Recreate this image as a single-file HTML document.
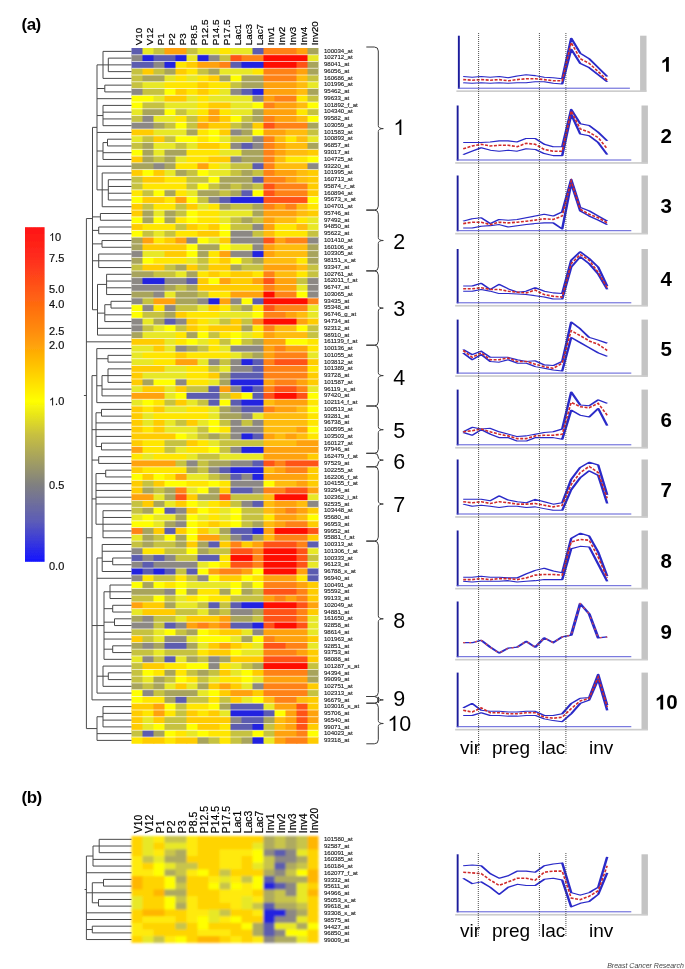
<!DOCTYPE html>
<html><head><meta charset="utf-8"><title>figure</title>
<style>html,body{margin:0;padding:0;background:#fff;}body{width:685px;height:969px;overflow:hidden;position:relative;font-family:"Liberation Sans", sans-serif;}svg{position:absolute;left:0;top:0;}</style>
</head><body>
<svg width="685" height="969" viewBox="0 0 685 969" font-family='"Liberation Sans", sans-serif'>
<defs><linearGradient id="lg" x1="0" y1="0" x2="0" y2="1"><stop offset="0" stop-color="#ff1414"/><stop offset="0.09" stop-color="#ff2c1c"/><stop offset="0.18" stop-color="#ff5418"/><stop offset="0.23" stop-color="#ff6a10"/><stop offset="0.31" stop-color="#ff8c0a"/><stop offset="0.35" stop-color="#ffa008"/><stop offset="0.43" stop-color="#ffcc00"/><stop offset="0.52" stop-color="#ffff00"/><stop offset="0.62" stop-color="#c8c040"/><stop offset="0.77" stop-color="#808080"/><stop offset="0.88" stop-color="#5c5cb8"/><stop offset="1" stop-color="#1414ff"/></linearGradient><filter id="soft" x="-2%" y="-1%" width="104%" height="102%"><feGaussianBlur stdDeviation="0.5"/></filter><filter id="softb" x="-2%" y="-2%" width="104%" height="104%"><feGaussianBlur stdDeviation="0.8"/></filter><filter id="soft2" x="0" y="0" width="100%" height="100%" filterUnits="userSpaceOnUse"><feGaussianBlur stdDeviation="0.33"/></filter></defs>
<rect x="0" y="0" width="685" height="969" fill="#fff"/>
<g filter="url(#soft2)">
<text x="21.5" y="29.8" font-size="17" font-weight="bold" letter-spacing="-0.5" fill="#000">(a)</text>
<g filter="url(#soft)">
<rect x="131.50" y="48.00" width="11.80" height="7.55" fill="#5c5cb0"/>
<rect x="142.50" y="48.00" width="11.80" height="7.55" fill="#e8e828"/>
<rect x="153.50" y="48.00" width="11.80" height="7.55" fill="#c6c240"/>
<rect x="164.50" y="48.00" width="11.80" height="7.55" fill="#ffa208"/>
<rect x="175.50" y="48.00" width="11.80" height="7.55" fill="#ffa208"/>
<rect x="186.50" y="48.00" width="11.80" height="7.55" fill="#c6c240"/>
<rect x="197.50" y="48.00" width="11.80" height="7.55" fill="#e8e828"/>
<rect x="208.50" y="48.00" width="11.80" height="7.55" fill="#e8e828"/>
<rect x="219.50" y="48.00" width="11.80" height="7.55" fill="#ffe600"/>
<rect x="230.50" y="48.00" width="11.80" height="7.55" fill="#e8e828"/>
<rect x="241.50" y="48.00" width="11.80" height="7.55" fill="#e8e828"/>
<rect x="252.50" y="48.00" width="11.80" height="7.55" fill="#5c5cb0"/>
<rect x="263.50" y="48.00" width="11.80" height="7.55" fill="#ff8212"/>
<rect x="274.50" y="48.00" width="11.80" height="7.55" fill="#ff8212"/>
<rect x="285.50" y="48.00" width="11.80" height="7.55" fill="#ff8212"/>
<rect x="296.50" y="48.00" width="11.80" height="7.55" fill="#ffa208"/>
<rect x="307.50" y="48.00" width="11.00" height="7.55" fill="#a8a45c"/>
<rect x="131.50" y="54.76" width="11.80" height="7.55" fill="#8c8884"/>
<rect x="142.50" y="54.76" width="11.80" height="7.55" fill="#2020e0"/>
<rect x="153.50" y="54.76" width="11.80" height="7.55" fill="#5c5cb0"/>
<rect x="164.50" y="54.76" width="11.80" height="7.55" fill="#5c5cb0"/>
<rect x="175.50" y="54.76" width="11.80" height="7.55" fill="#2020e0"/>
<rect x="186.50" y="54.76" width="11.80" height="7.55" fill="#e8e828"/>
<rect x="197.50" y="54.76" width="11.80" height="7.55" fill="#2020e0"/>
<rect x="208.50" y="54.76" width="11.80" height="7.55" fill="#8c8884"/>
<rect x="219.50" y="54.76" width="11.80" height="7.55" fill="#c6c240"/>
<rect x="230.50" y="54.76" width="11.80" height="7.55" fill="#ff5214"/>
<rect x="241.50" y="54.76" width="11.80" height="7.55" fill="#ff8212"/>
<rect x="252.50" y="54.76" width="11.80" height="7.55" fill="#ff8212"/>
<rect x="263.50" y="54.76" width="11.80" height="7.55" fill="#ff0a00"/>
<rect x="274.50" y="54.76" width="11.80" height="7.55" fill="#ff0a00"/>
<rect x="285.50" y="54.76" width="11.80" height="7.55" fill="#ff0a00"/>
<rect x="296.50" y="54.76" width="11.80" height="7.55" fill="#ff0a00"/>
<rect x="307.50" y="54.76" width="11.00" height="7.55" fill="#e8e828"/>
<rect x="131.50" y="61.51" width="11.80" height="7.55" fill="#5c5cb0"/>
<rect x="142.50" y="61.51" width="11.80" height="7.55" fill="#5c5cb0"/>
<rect x="153.50" y="61.51" width="11.80" height="7.55" fill="#8c8884"/>
<rect x="164.50" y="61.51" width="11.80" height="7.55" fill="#2020e0"/>
<rect x="175.50" y="61.51" width="11.80" height="7.55" fill="#ffe600"/>
<rect x="186.50" y="61.51" width="11.80" height="7.55" fill="#ffcc00"/>
<rect x="197.50" y="61.51" width="11.80" height="7.55" fill="#ffa208"/>
<rect x="208.50" y="61.51" width="11.80" height="7.55" fill="#ffa208"/>
<rect x="219.50" y="61.51" width="11.80" height="7.55" fill="#ff8212"/>
<rect x="230.50" y="61.51" width="11.80" height="7.55" fill="#5c5cb0"/>
<rect x="241.50" y="61.51" width="11.80" height="7.55" fill="#2020e0"/>
<rect x="252.50" y="61.51" width="11.80" height="7.55" fill="#2020e0"/>
<rect x="263.50" y="61.51" width="11.80" height="7.55" fill="#ff0a00"/>
<rect x="274.50" y="61.51" width="11.80" height="7.55" fill="#ff0a00"/>
<rect x="285.50" y="61.51" width="11.80" height="7.55" fill="#ff0a00"/>
<rect x="296.50" y="61.51" width="11.80" height="7.55" fill="#ff5214"/>
<rect x="307.50" y="61.51" width="11.00" height="7.55" fill="#a8a45c"/>
<rect x="131.50" y="68.27" width="11.80" height="7.55" fill="#c6c240"/>
<rect x="142.50" y="68.27" width="11.80" height="7.55" fill="#ffcc00"/>
<rect x="153.50" y="68.27" width="11.80" height="7.55" fill="#c6c240"/>
<rect x="164.50" y="68.27" width="11.80" height="7.55" fill="#a8a45c"/>
<rect x="175.50" y="68.27" width="11.80" height="7.55" fill="#ffcc00"/>
<rect x="186.50" y="68.27" width="11.80" height="7.55" fill="#ffe600"/>
<rect x="197.50" y="68.27" width="11.80" height="7.55" fill="#c6c240"/>
<rect x="208.50" y="68.27" width="11.80" height="7.55" fill="#a8a45c"/>
<rect x="219.50" y="68.27" width="11.80" height="7.55" fill="#e8e828"/>
<rect x="230.50" y="68.27" width="11.80" height="7.55" fill="#e8e828"/>
<rect x="241.50" y="68.27" width="11.80" height="7.55" fill="#e8e828"/>
<rect x="252.50" y="68.27" width="11.80" height="7.55" fill="#ffe600"/>
<rect x="263.50" y="68.27" width="11.80" height="7.55" fill="#ff8212"/>
<rect x="274.50" y="68.27" width="11.80" height="7.55" fill="#ff8212"/>
<rect x="285.50" y="68.27" width="11.80" height="7.55" fill="#ff8212"/>
<rect x="296.50" y="68.27" width="11.80" height="7.55" fill="#ffa208"/>
<rect x="307.50" y="68.27" width="11.00" height="7.55" fill="#a8a45c"/>
<rect x="131.50" y="75.02" width="11.80" height="7.55" fill="#c6c240"/>
<rect x="142.50" y="75.02" width="11.80" height="7.55" fill="#a8a45c"/>
<rect x="153.50" y="75.02" width="11.80" height="7.55" fill="#a8a45c"/>
<rect x="164.50" y="75.02" width="11.80" height="7.55" fill="#e8e828"/>
<rect x="175.50" y="75.02" width="11.80" height="7.55" fill="#ffe600"/>
<rect x="186.50" y="75.02" width="11.80" height="7.55" fill="#e8e828"/>
<rect x="197.50" y="75.02" width="11.80" height="7.55" fill="#ffe600"/>
<rect x="208.50" y="75.02" width="11.80" height="7.55" fill="#ffcc00"/>
<rect x="219.50" y="75.02" width="11.80" height="7.55" fill="#a8a45c"/>
<rect x="230.50" y="75.02" width="11.80" height="7.55" fill="#ffff00"/>
<rect x="241.50" y="75.02" width="11.80" height="7.55" fill="#a8a45c"/>
<rect x="252.50" y="75.02" width="11.80" height="7.55" fill="#a8a45c"/>
<rect x="263.50" y="75.02" width="11.80" height="7.55" fill="#ff8212"/>
<rect x="274.50" y="75.02" width="11.80" height="7.55" fill="#ff8212"/>
<rect x="285.50" y="75.02" width="11.80" height="7.55" fill="#ff8212"/>
<rect x="296.50" y="75.02" width="11.80" height="7.55" fill="#ffbc08"/>
<rect x="307.50" y="75.02" width="11.00" height="7.55" fill="#c6c240"/>
<rect x="131.50" y="81.78" width="11.80" height="7.55" fill="#c6c240"/>
<rect x="142.50" y="81.78" width="11.80" height="7.55" fill="#e8e828"/>
<rect x="153.50" y="81.78" width="11.80" height="7.55" fill="#e8e828"/>
<rect x="164.50" y="81.78" width="11.80" height="7.55" fill="#ffe600"/>
<rect x="175.50" y="81.78" width="11.80" height="7.55" fill="#ffe600"/>
<rect x="186.50" y="81.78" width="11.80" height="7.55" fill="#ffe600"/>
<rect x="197.50" y="81.78" width="11.80" height="7.55" fill="#ffcc00"/>
<rect x="208.50" y="81.78" width="11.80" height="7.55" fill="#ffe600"/>
<rect x="219.50" y="81.78" width="11.80" height="7.55" fill="#ffe600"/>
<rect x="230.50" y="81.78" width="11.80" height="7.55" fill="#c6c240"/>
<rect x="241.50" y="81.78" width="11.80" height="7.55" fill="#a8a45c"/>
<rect x="252.50" y="81.78" width="11.80" height="7.55" fill="#a8a45c"/>
<rect x="263.50" y="81.78" width="11.80" height="7.55" fill="#ffa208"/>
<rect x="274.50" y="81.78" width="11.80" height="7.55" fill="#ffa208"/>
<rect x="285.50" y="81.78" width="11.80" height="7.55" fill="#ffa208"/>
<rect x="296.50" y="81.78" width="11.80" height="7.55" fill="#ffbc08"/>
<rect x="307.50" y="81.78" width="11.00" height="7.55" fill="#e8e828"/>
<rect x="131.50" y="88.53" width="11.80" height="7.55" fill="#8c8884"/>
<rect x="142.50" y="88.53" width="11.80" height="7.55" fill="#c6c240"/>
<rect x="153.50" y="88.53" width="11.80" height="7.55" fill="#c6c240"/>
<rect x="164.50" y="88.53" width="11.80" height="7.55" fill="#ffff00"/>
<rect x="175.50" y="88.53" width="11.80" height="7.55" fill="#ffcc00"/>
<rect x="186.50" y="88.53" width="11.80" height="7.55" fill="#ffe600"/>
<rect x="197.50" y="88.53" width="11.80" height="7.55" fill="#ffcc00"/>
<rect x="208.50" y="88.53" width="11.80" height="7.55" fill="#ffe600"/>
<rect x="219.50" y="88.53" width="11.80" height="7.55" fill="#e8e828"/>
<rect x="230.50" y="88.53" width="11.80" height="7.55" fill="#8c8884"/>
<rect x="241.50" y="88.53" width="11.80" height="7.55" fill="#5c5cb0"/>
<rect x="252.50" y="88.53" width="11.80" height="7.55" fill="#2020e0"/>
<rect x="263.50" y="88.53" width="11.80" height="7.55" fill="#ffa208"/>
<rect x="274.50" y="88.53" width="11.80" height="7.55" fill="#ffa208"/>
<rect x="285.50" y="88.53" width="11.80" height="7.55" fill="#ffa208"/>
<rect x="296.50" y="88.53" width="11.80" height="7.55" fill="#ffbc08"/>
<rect x="307.50" y="88.53" width="11.00" height="7.55" fill="#a8a45c"/>
<rect x="131.50" y="95.28" width="11.80" height="7.55" fill="#ffff00"/>
<rect x="142.50" y="95.28" width="11.80" height="7.55" fill="#ffff00"/>
<rect x="153.50" y="95.28" width="11.80" height="7.55" fill="#e8e828"/>
<rect x="164.50" y="95.28" width="11.80" height="7.55" fill="#ffcc00"/>
<rect x="175.50" y="95.28" width="11.80" height="7.55" fill="#ffcc00"/>
<rect x="186.50" y="95.28" width="11.80" height="7.55" fill="#e8e828"/>
<rect x="197.50" y="95.28" width="11.80" height="7.55" fill="#ffe600"/>
<rect x="208.50" y="95.28" width="11.80" height="7.55" fill="#e8e828"/>
<rect x="219.50" y="95.28" width="11.80" height="7.55" fill="#e8e828"/>
<rect x="230.50" y="95.28" width="11.80" height="7.55" fill="#e8e828"/>
<rect x="241.50" y="95.28" width="11.80" height="7.55" fill="#e8e828"/>
<rect x="252.50" y="95.28" width="11.80" height="7.55" fill="#8c8884"/>
<rect x="263.50" y="95.28" width="11.80" height="7.55" fill="#ffa208"/>
<rect x="274.50" y="95.28" width="11.80" height="7.55" fill="#ff8212"/>
<rect x="285.50" y="95.28" width="11.80" height="7.55" fill="#ff8212"/>
<rect x="296.50" y="95.28" width="11.80" height="7.55" fill="#ffe600"/>
<rect x="307.50" y="95.28" width="11.00" height="7.55" fill="#c6c240"/>
<rect x="131.50" y="102.04" width="11.80" height="7.55" fill="#ffff00"/>
<rect x="142.50" y="102.04" width="11.80" height="7.55" fill="#c6c240"/>
<rect x="153.50" y="102.04" width="11.80" height="7.55" fill="#c6c240"/>
<rect x="164.50" y="102.04" width="11.80" height="7.55" fill="#e8e828"/>
<rect x="175.50" y="102.04" width="11.80" height="7.55" fill="#e8e828"/>
<rect x="186.50" y="102.04" width="11.80" height="7.55" fill="#e8e828"/>
<rect x="197.50" y="102.04" width="11.80" height="7.55" fill="#ffe600"/>
<rect x="208.50" y="102.04" width="11.80" height="7.55" fill="#ffcc00"/>
<rect x="219.50" y="102.04" width="11.80" height="7.55" fill="#ffcc00"/>
<rect x="230.50" y="102.04" width="11.80" height="7.55" fill="#e8e828"/>
<rect x="241.50" y="102.04" width="11.80" height="7.55" fill="#e8e828"/>
<rect x="252.50" y="102.04" width="11.80" height="7.55" fill="#ffff00"/>
<rect x="263.50" y="102.04" width="11.80" height="7.55" fill="#ff8212"/>
<rect x="274.50" y="102.04" width="11.80" height="7.55" fill="#ffa208"/>
<rect x="285.50" y="102.04" width="11.80" height="7.55" fill="#ffa208"/>
<rect x="296.50" y="102.04" width="11.80" height="7.55" fill="#ffbc08"/>
<rect x="307.50" y="102.04" width="11.00" height="7.55" fill="#ffff00"/>
<rect x="131.50" y="108.80" width="11.80" height="7.55" fill="#e8e828"/>
<rect x="142.50" y="108.80" width="11.80" height="7.55" fill="#a8a45c"/>
<rect x="153.50" y="108.80" width="11.80" height="7.55" fill="#a8a45c"/>
<rect x="164.50" y="108.80" width="11.80" height="7.55" fill="#ffff00"/>
<rect x="175.50" y="108.80" width="11.80" height="7.55" fill="#c6c240"/>
<rect x="186.50" y="108.80" width="11.80" height="7.55" fill="#e8e828"/>
<rect x="197.50" y="108.80" width="11.80" height="7.55" fill="#ffe600"/>
<rect x="208.50" y="108.80" width="11.80" height="7.55" fill="#ffa208"/>
<rect x="219.50" y="108.80" width="11.80" height="7.55" fill="#ffe600"/>
<rect x="230.50" y="108.80" width="11.80" height="7.55" fill="#e8e828"/>
<rect x="241.50" y="108.80" width="11.80" height="7.55" fill="#e8e828"/>
<rect x="252.50" y="108.80" width="11.80" height="7.55" fill="#a8a45c"/>
<rect x="263.50" y="108.80" width="11.80" height="7.55" fill="#ffa208"/>
<rect x="274.50" y="108.80" width="11.80" height="7.55" fill="#ffa208"/>
<rect x="285.50" y="108.80" width="11.80" height="7.55" fill="#ffa208"/>
<rect x="296.50" y="108.80" width="11.80" height="7.55" fill="#ffe600"/>
<rect x="307.50" y="108.80" width="11.00" height="7.55" fill="#c6c240"/>
<rect x="131.50" y="115.55" width="11.80" height="7.55" fill="#c6c240"/>
<rect x="142.50" y="115.55" width="11.80" height="7.55" fill="#8c8884"/>
<rect x="153.50" y="115.55" width="11.80" height="7.55" fill="#e8e828"/>
<rect x="164.50" y="115.55" width="11.80" height="7.55" fill="#e8e828"/>
<rect x="175.50" y="115.55" width="11.80" height="7.55" fill="#ffe600"/>
<rect x="186.50" y="115.55" width="11.80" height="7.55" fill="#c6c240"/>
<rect x="197.50" y="115.55" width="11.80" height="7.55" fill="#ffcc00"/>
<rect x="208.50" y="115.55" width="11.80" height="7.55" fill="#ffa208"/>
<rect x="219.50" y="115.55" width="11.80" height="7.55" fill="#ffcc00"/>
<rect x="230.50" y="115.55" width="11.80" height="7.55" fill="#ffff00"/>
<rect x="241.50" y="115.55" width="11.80" height="7.55" fill="#c6c240"/>
<rect x="252.50" y="115.55" width="11.80" height="7.55" fill="#a8a45c"/>
<rect x="263.50" y="115.55" width="11.80" height="7.55" fill="#ff8212"/>
<rect x="274.50" y="115.55" width="11.80" height="7.55" fill="#ffa208"/>
<rect x="285.50" y="115.55" width="11.80" height="7.55" fill="#ffa208"/>
<rect x="296.50" y="115.55" width="11.80" height="7.55" fill="#ffbc08"/>
<rect x="307.50" y="115.55" width="11.00" height="7.55" fill="#ffff00"/>
<rect x="131.50" y="122.30" width="11.80" height="7.55" fill="#8c8884"/>
<rect x="142.50" y="122.30" width="11.80" height="7.55" fill="#8c8884"/>
<rect x="153.50" y="122.30" width="11.80" height="7.55" fill="#a8a45c"/>
<rect x="164.50" y="122.30" width="11.80" height="7.55" fill="#c6c240"/>
<rect x="175.50" y="122.30" width="11.80" height="7.55" fill="#ffff00"/>
<rect x="186.50" y="122.30" width="11.80" height="7.55" fill="#c6c240"/>
<rect x="197.50" y="122.30" width="11.80" height="7.55" fill="#ffa208"/>
<rect x="208.50" y="122.30" width="11.80" height="7.55" fill="#ffcc00"/>
<rect x="219.50" y="122.30" width="11.80" height="7.55" fill="#ffcc00"/>
<rect x="230.50" y="122.30" width="11.80" height="7.55" fill="#c6c240"/>
<rect x="241.50" y="122.30" width="11.80" height="7.55" fill="#a8a45c"/>
<rect x="252.50" y="122.30" width="11.80" height="7.55" fill="#ffcc00"/>
<rect x="263.50" y="122.30" width="11.80" height="7.55" fill="#ff5214"/>
<rect x="274.50" y="122.30" width="11.80" height="7.55" fill="#ff8212"/>
<rect x="285.50" y="122.30" width="11.80" height="7.55" fill="#ff8212"/>
<rect x="296.50" y="122.30" width="11.80" height="7.55" fill="#ff8212"/>
<rect x="307.50" y="122.30" width="11.00" height="7.55" fill="#a8a45c"/>
<rect x="131.50" y="129.06" width="11.80" height="7.55" fill="#ffcc00"/>
<rect x="142.50" y="129.06" width="11.80" height="7.55" fill="#ffcc00"/>
<rect x="153.50" y="129.06" width="11.80" height="7.55" fill="#e8e828"/>
<rect x="164.50" y="129.06" width="11.80" height="7.55" fill="#e8e828"/>
<rect x="175.50" y="129.06" width="11.80" height="7.55" fill="#e8e828"/>
<rect x="186.50" y="129.06" width="11.80" height="7.55" fill="#a8a45c"/>
<rect x="197.50" y="129.06" width="11.80" height="7.55" fill="#ffe600"/>
<rect x="208.50" y="129.06" width="11.80" height="7.55" fill="#ffff00"/>
<rect x="219.50" y="129.06" width="11.80" height="7.55" fill="#ffcc00"/>
<rect x="230.50" y="129.06" width="11.80" height="7.55" fill="#8c8884"/>
<rect x="241.50" y="129.06" width="11.80" height="7.55" fill="#a8a45c"/>
<rect x="252.50" y="129.06" width="11.80" height="7.55" fill="#ffff00"/>
<rect x="263.50" y="129.06" width="11.80" height="7.55" fill="#ffa208"/>
<rect x="274.50" y="129.06" width="11.80" height="7.55" fill="#ffa208"/>
<rect x="285.50" y="129.06" width="11.80" height="7.55" fill="#ffbc08"/>
<rect x="296.50" y="129.06" width="11.80" height="7.55" fill="#ffbc08"/>
<rect x="307.50" y="129.06" width="11.00" height="7.55" fill="#c6c240"/>
<rect x="131.50" y="135.81" width="11.80" height="7.55" fill="#e8e828"/>
<rect x="142.50" y="135.81" width="11.80" height="7.55" fill="#c6c240"/>
<rect x="153.50" y="135.81" width="11.80" height="7.55" fill="#ffcc00"/>
<rect x="164.50" y="135.81" width="11.80" height="7.55" fill="#c6c240"/>
<rect x="175.50" y="135.81" width="11.80" height="7.55" fill="#ffff00"/>
<rect x="186.50" y="135.81" width="11.80" height="7.55" fill="#ffff00"/>
<rect x="197.50" y="135.81" width="11.80" height="7.55" fill="#ffe600"/>
<rect x="208.50" y="135.81" width="11.80" height="7.55" fill="#ffff00"/>
<rect x="219.50" y="135.81" width="11.80" height="7.55" fill="#e8e828"/>
<rect x="230.50" y="135.81" width="11.80" height="7.55" fill="#c6c240"/>
<rect x="241.50" y="135.81" width="11.80" height="7.55" fill="#c6c240"/>
<rect x="252.50" y="135.81" width="11.80" height="7.55" fill="#8c8884"/>
<rect x="263.50" y="135.81" width="11.80" height="7.55" fill="#ff8212"/>
<rect x="274.50" y="135.81" width="11.80" height="7.55" fill="#ffbc08"/>
<rect x="285.50" y="135.81" width="11.80" height="7.55" fill="#ffe600"/>
<rect x="296.50" y="135.81" width="11.80" height="7.55" fill="#ffbc08"/>
<rect x="307.50" y="135.81" width="11.00" height="7.55" fill="#e8e828"/>
<rect x="131.50" y="142.57" width="11.80" height="7.55" fill="#c6c240"/>
<rect x="142.50" y="142.57" width="11.80" height="7.55" fill="#a8a45c"/>
<rect x="153.50" y="142.57" width="11.80" height="7.55" fill="#e8e828"/>
<rect x="164.50" y="142.57" width="11.80" height="7.55" fill="#e8e828"/>
<rect x="175.50" y="142.57" width="11.80" height="7.55" fill="#c6c240"/>
<rect x="186.50" y="142.57" width="11.80" height="7.55" fill="#e8e828"/>
<rect x="197.50" y="142.57" width="11.80" height="7.55" fill="#ffcc00"/>
<rect x="208.50" y="142.57" width="11.80" height="7.55" fill="#ffcc00"/>
<rect x="219.50" y="142.57" width="11.80" height="7.55" fill="#ffe600"/>
<rect x="230.50" y="142.57" width="11.80" height="7.55" fill="#8c8884"/>
<rect x="241.50" y="142.57" width="11.80" height="7.55" fill="#5c5cb0"/>
<rect x="252.50" y="142.57" width="11.80" height="7.55" fill="#8c8884"/>
<rect x="263.50" y="142.57" width="11.80" height="7.55" fill="#ff8212"/>
<rect x="274.50" y="142.57" width="11.80" height="7.55" fill="#ffa208"/>
<rect x="285.50" y="142.57" width="11.80" height="7.55" fill="#ffbc08"/>
<rect x="296.50" y="142.57" width="11.80" height="7.55" fill="#ffbc08"/>
<rect x="307.50" y="142.57" width="11.00" height="7.55" fill="#a8a45c"/>
<rect x="131.50" y="149.32" width="11.80" height="7.55" fill="#ffff00"/>
<rect x="142.50" y="149.32" width="11.80" height="7.55" fill="#a8a45c"/>
<rect x="153.50" y="149.32" width="11.80" height="7.55" fill="#e8e828"/>
<rect x="164.50" y="149.32" width="11.80" height="7.55" fill="#a8a45c"/>
<rect x="175.50" y="149.32" width="11.80" height="7.55" fill="#a8a45c"/>
<rect x="186.50" y="149.32" width="11.80" height="7.55" fill="#ffe600"/>
<rect x="197.50" y="149.32" width="11.80" height="7.55" fill="#ffe600"/>
<rect x="208.50" y="149.32" width="11.80" height="7.55" fill="#ffe600"/>
<rect x="219.50" y="149.32" width="11.80" height="7.55" fill="#e8e828"/>
<rect x="230.50" y="149.32" width="11.80" height="7.55" fill="#e8e828"/>
<rect x="241.50" y="149.32" width="11.80" height="7.55" fill="#a8a45c"/>
<rect x="252.50" y="149.32" width="11.80" height="7.55" fill="#a8a45c"/>
<rect x="263.50" y="149.32" width="11.80" height="7.55" fill="#ff8212"/>
<rect x="274.50" y="149.32" width="11.80" height="7.55" fill="#ffa208"/>
<rect x="285.50" y="149.32" width="11.80" height="7.55" fill="#ffbc08"/>
<rect x="296.50" y="149.32" width="11.80" height="7.55" fill="#ffbc08"/>
<rect x="307.50" y="149.32" width="11.00" height="7.55" fill="#ffcc00"/>
<rect x="131.50" y="156.08" width="11.80" height="7.55" fill="#ffcc00"/>
<rect x="142.50" y="156.08" width="11.80" height="7.55" fill="#a8a45c"/>
<rect x="153.50" y="156.08" width="11.80" height="7.55" fill="#c6c240"/>
<rect x="164.50" y="156.08" width="11.80" height="7.55" fill="#a8a45c"/>
<rect x="175.50" y="156.08" width="11.80" height="7.55" fill="#e8e828"/>
<rect x="186.50" y="156.08" width="11.80" height="7.55" fill="#ffe600"/>
<rect x="197.50" y="156.08" width="11.80" height="7.55" fill="#ffe600"/>
<rect x="208.50" y="156.08" width="11.80" height="7.55" fill="#ffcc00"/>
<rect x="219.50" y="156.08" width="11.80" height="7.55" fill="#ffcc00"/>
<rect x="230.50" y="156.08" width="11.80" height="7.55" fill="#8c8884"/>
<rect x="241.50" y="156.08" width="11.80" height="7.55" fill="#a8a45c"/>
<rect x="252.50" y="156.08" width="11.80" height="7.55" fill="#a8a45c"/>
<rect x="263.50" y="156.08" width="11.80" height="7.55" fill="#ff8212"/>
<rect x="274.50" y="156.08" width="11.80" height="7.55" fill="#ffbc08"/>
<rect x="285.50" y="156.08" width="11.80" height="7.55" fill="#ffe600"/>
<rect x="296.50" y="156.08" width="11.80" height="7.55" fill="#ffe600"/>
<rect x="307.50" y="156.08" width="11.00" height="7.55" fill="#ffff00"/>
<rect x="131.50" y="162.83" width="11.80" height="7.55" fill="#a8a45c"/>
<rect x="142.50" y="162.83" width="11.80" height="7.55" fill="#a8a45c"/>
<rect x="153.50" y="162.83" width="11.80" height="7.55" fill="#8c8884"/>
<rect x="164.50" y="162.83" width="11.80" height="7.55" fill="#a8a45c"/>
<rect x="175.50" y="162.83" width="11.80" height="7.55" fill="#ffe600"/>
<rect x="186.50" y="162.83" width="11.80" height="7.55" fill="#ffe600"/>
<rect x="197.50" y="162.83" width="11.80" height="7.55" fill="#ffa208"/>
<rect x="208.50" y="162.83" width="11.80" height="7.55" fill="#ffe600"/>
<rect x="219.50" y="162.83" width="11.80" height="7.55" fill="#e8e828"/>
<rect x="230.50" y="162.83" width="11.80" height="7.55" fill="#c6c240"/>
<rect x="241.50" y="162.83" width="11.80" height="7.55" fill="#c6c240"/>
<rect x="252.50" y="162.83" width="11.80" height="7.55" fill="#5c5cb0"/>
<rect x="263.50" y="162.83" width="11.80" height="7.55" fill="#ff8212"/>
<rect x="274.50" y="162.83" width="11.80" height="7.55" fill="#ffbc08"/>
<rect x="285.50" y="162.83" width="11.80" height="7.55" fill="#ffbc08"/>
<rect x="296.50" y="162.83" width="11.80" height="7.55" fill="#ffbc08"/>
<rect x="307.50" y="162.83" width="11.00" height="7.55" fill="#8c8884"/>
<rect x="131.50" y="169.59" width="11.80" height="7.55" fill="#ffcc00"/>
<rect x="142.50" y="169.59" width="11.80" height="7.55" fill="#ffff00"/>
<rect x="153.50" y="169.59" width="11.80" height="7.55" fill="#ffcc00"/>
<rect x="164.50" y="169.59" width="11.80" height="7.55" fill="#e8e828"/>
<rect x="175.50" y="169.59" width="11.80" height="7.55" fill="#a8a45c"/>
<rect x="186.50" y="169.59" width="11.80" height="7.55" fill="#c6c240"/>
<rect x="197.50" y="169.59" width="11.80" height="7.55" fill="#ffff00"/>
<rect x="208.50" y="169.59" width="11.80" height="7.55" fill="#e8e828"/>
<rect x="219.50" y="169.59" width="11.80" height="7.55" fill="#e8e828"/>
<rect x="230.50" y="169.59" width="11.80" height="7.55" fill="#c6c240"/>
<rect x="241.50" y="169.59" width="11.80" height="7.55" fill="#a8a45c"/>
<rect x="252.50" y="169.59" width="11.80" height="7.55" fill="#c6c240"/>
<rect x="263.50" y="169.59" width="11.80" height="7.55" fill="#ff8212"/>
<rect x="274.50" y="169.59" width="11.80" height="7.55" fill="#ffa208"/>
<rect x="285.50" y="169.59" width="11.80" height="7.55" fill="#ffa208"/>
<rect x="296.50" y="169.59" width="11.80" height="7.55" fill="#ffbc08"/>
<rect x="307.50" y="169.59" width="11.00" height="7.55" fill="#ffcc00"/>
<rect x="131.50" y="176.34" width="11.80" height="7.55" fill="#c6c240"/>
<rect x="142.50" y="176.34" width="11.80" height="7.55" fill="#ffcc00"/>
<rect x="153.50" y="176.34" width="11.80" height="7.55" fill="#ffcc00"/>
<rect x="164.50" y="176.34" width="11.80" height="7.55" fill="#ffe600"/>
<rect x="175.50" y="176.34" width="11.80" height="7.55" fill="#ffe600"/>
<rect x="186.50" y="176.34" width="11.80" height="7.55" fill="#c6c240"/>
<rect x="197.50" y="176.34" width="11.80" height="7.55" fill="#c6c240"/>
<rect x="208.50" y="176.34" width="11.80" height="7.55" fill="#ffff00"/>
<rect x="219.50" y="176.34" width="11.80" height="7.55" fill="#a8a45c"/>
<rect x="230.50" y="176.34" width="11.80" height="7.55" fill="#a8a45c"/>
<rect x="241.50" y="176.34" width="11.80" height="7.55" fill="#a8a45c"/>
<rect x="252.50" y="176.34" width="11.80" height="7.55" fill="#5c5cb0"/>
<rect x="263.50" y="176.34" width="11.80" height="7.55" fill="#ff8212"/>
<rect x="274.50" y="176.34" width="11.80" height="7.55" fill="#ff8212"/>
<rect x="285.50" y="176.34" width="11.80" height="7.55" fill="#ffa208"/>
<rect x="296.50" y="176.34" width="11.80" height="7.55" fill="#ffbc08"/>
<rect x="307.50" y="176.34" width="11.00" height="7.55" fill="#ffcc00"/>
<rect x="131.50" y="183.10" width="11.80" height="7.55" fill="#c6c240"/>
<rect x="142.50" y="183.10" width="11.80" height="7.55" fill="#ffe600"/>
<rect x="153.50" y="183.10" width="11.80" height="7.55" fill="#ffe600"/>
<rect x="164.50" y="183.10" width="11.80" height="7.55" fill="#ffe600"/>
<rect x="175.50" y="183.10" width="11.80" height="7.55" fill="#ffe600"/>
<rect x="186.50" y="183.10" width="11.80" height="7.55" fill="#c6c240"/>
<rect x="197.50" y="183.10" width="11.80" height="7.55" fill="#ffff00"/>
<rect x="208.50" y="183.10" width="11.80" height="7.55" fill="#c6c240"/>
<rect x="219.50" y="183.10" width="11.80" height="7.55" fill="#a8a45c"/>
<rect x="230.50" y="183.10" width="11.80" height="7.55" fill="#c6c240"/>
<rect x="241.50" y="183.10" width="11.80" height="7.55" fill="#a8a45c"/>
<rect x="252.50" y="183.10" width="11.80" height="7.55" fill="#c6c240"/>
<rect x="263.50" y="183.10" width="11.80" height="7.55" fill="#ff5214"/>
<rect x="274.50" y="183.10" width="11.80" height="7.55" fill="#ff8212"/>
<rect x="285.50" y="183.10" width="11.80" height="7.55" fill="#ff8212"/>
<rect x="296.50" y="183.10" width="11.80" height="7.55" fill="#ff8212"/>
<rect x="307.50" y="183.10" width="11.00" height="7.55" fill="#ffcc00"/>
<rect x="131.50" y="189.85" width="11.80" height="7.55" fill="#ffe600"/>
<rect x="142.50" y="189.85" width="11.80" height="7.55" fill="#c6c240"/>
<rect x="153.50" y="189.85" width="11.80" height="7.55" fill="#ffff00"/>
<rect x="164.50" y="189.85" width="11.80" height="7.55" fill="#a8a45c"/>
<rect x="175.50" y="189.85" width="11.80" height="7.55" fill="#ffe600"/>
<rect x="186.50" y="189.85" width="11.80" height="7.55" fill="#e8e828"/>
<rect x="197.50" y="189.85" width="11.80" height="7.55" fill="#a8a45c"/>
<rect x="208.50" y="189.85" width="11.80" height="7.55" fill="#a8a45c"/>
<rect x="219.50" y="189.85" width="11.80" height="7.55" fill="#c6c240"/>
<rect x="230.50" y="189.85" width="11.80" height="7.55" fill="#a8a45c"/>
<rect x="241.50" y="189.85" width="11.80" height="7.55" fill="#5c5cb0"/>
<rect x="252.50" y="189.85" width="11.80" height="7.55" fill="#ffff00"/>
<rect x="263.50" y="189.85" width="11.80" height="7.55" fill="#ff5214"/>
<rect x="274.50" y="189.85" width="11.80" height="7.55" fill="#ff8212"/>
<rect x="285.50" y="189.85" width="11.80" height="7.55" fill="#ff8212"/>
<rect x="296.50" y="189.85" width="11.80" height="7.55" fill="#ff8212"/>
<rect x="307.50" y="189.85" width="11.00" height="7.55" fill="#ffcc00"/>
<rect x="131.50" y="196.61" width="11.80" height="7.55" fill="#ffff00"/>
<rect x="142.50" y="196.61" width="11.80" height="7.55" fill="#ffcc00"/>
<rect x="153.50" y="196.61" width="11.80" height="7.55" fill="#ffcc00"/>
<rect x="164.50" y="196.61" width="11.80" height="7.55" fill="#ffe600"/>
<rect x="175.50" y="196.61" width="11.80" height="7.55" fill="#ffa208"/>
<rect x="186.50" y="196.61" width="11.80" height="7.55" fill="#ffff00"/>
<rect x="197.50" y="196.61" width="11.80" height="7.55" fill="#c6c240"/>
<rect x="208.50" y="196.61" width="11.80" height="7.55" fill="#8c8884"/>
<rect x="219.50" y="196.61" width="11.80" height="7.55" fill="#5c5cb0"/>
<rect x="230.50" y="196.61" width="11.80" height="7.55" fill="#2020e0"/>
<rect x="241.50" y="196.61" width="11.80" height="7.55" fill="#2020e0"/>
<rect x="252.50" y="196.61" width="11.80" height="7.55" fill="#2020e0"/>
<rect x="263.50" y="196.61" width="11.80" height="7.55" fill="#ff5214"/>
<rect x="274.50" y="196.61" width="11.80" height="7.55" fill="#ff5214"/>
<rect x="285.50" y="196.61" width="11.80" height="7.55" fill="#ff5214"/>
<rect x="296.50" y="196.61" width="11.80" height="7.55" fill="#ff5214"/>
<rect x="307.50" y="196.61" width="11.00" height="7.55" fill="#ffff00"/>
<rect x="131.50" y="203.37" width="11.80" height="7.55" fill="#ffcc00"/>
<rect x="142.50" y="203.37" width="11.80" height="7.55" fill="#c6c240"/>
<rect x="153.50" y="203.37" width="11.80" height="7.55" fill="#ffe600"/>
<rect x="164.50" y="203.37" width="11.80" height="7.55" fill="#ffe600"/>
<rect x="175.50" y="203.37" width="11.80" height="7.55" fill="#c6c240"/>
<rect x="186.50" y="203.37" width="11.80" height="7.55" fill="#ffcc00"/>
<rect x="197.50" y="203.37" width="11.80" height="7.55" fill="#e8e828"/>
<rect x="208.50" y="203.37" width="11.80" height="7.55" fill="#ffe600"/>
<rect x="219.50" y="203.37" width="11.80" height="7.55" fill="#a8a45c"/>
<rect x="230.50" y="203.37" width="11.80" height="7.55" fill="#c6c240"/>
<rect x="241.50" y="203.37" width="11.80" height="7.55" fill="#c6c240"/>
<rect x="252.50" y="203.37" width="11.80" height="7.55" fill="#a8a45c"/>
<rect x="263.50" y="203.37" width="11.80" height="7.55" fill="#ff8212"/>
<rect x="274.50" y="203.37" width="11.80" height="7.55" fill="#ffa208"/>
<rect x="285.50" y="203.37" width="11.80" height="7.55" fill="#ff8212"/>
<rect x="296.50" y="203.37" width="11.80" height="7.55" fill="#ffbc08"/>
<rect x="307.50" y="203.37" width="11.00" height="7.55" fill="#ffe600"/>
<rect x="131.50" y="210.12" width="11.80" height="7.55" fill="#ffcc00"/>
<rect x="142.50" y="210.12" width="11.80" height="7.55" fill="#a8a45c"/>
<rect x="153.50" y="210.12" width="11.80" height="7.55" fill="#e8e828"/>
<rect x="164.50" y="210.12" width="11.80" height="7.55" fill="#a8a45c"/>
<rect x="175.50" y="210.12" width="11.80" height="7.55" fill="#c6c240"/>
<rect x="186.50" y="210.12" width="11.80" height="7.55" fill="#ffff00"/>
<rect x="197.50" y="210.12" width="11.80" height="7.55" fill="#ffe600"/>
<rect x="208.50" y="210.12" width="11.80" height="7.55" fill="#ffe600"/>
<rect x="219.50" y="210.12" width="11.80" height="7.55" fill="#e8e828"/>
<rect x="230.50" y="210.12" width="11.80" height="7.55" fill="#e8e828"/>
<rect x="241.50" y="210.12" width="11.80" height="7.55" fill="#e8e828"/>
<rect x="252.50" y="210.12" width="11.80" height="7.55" fill="#a8a45c"/>
<rect x="263.50" y="210.12" width="11.80" height="7.55" fill="#ffa208"/>
<rect x="274.50" y="210.12" width="11.80" height="7.55" fill="#ffa208"/>
<rect x="285.50" y="210.12" width="11.80" height="7.55" fill="#ffa208"/>
<rect x="296.50" y="210.12" width="11.80" height="7.55" fill="#ffbc08"/>
<rect x="307.50" y="210.12" width="11.00" height="7.55" fill="#ffcc00"/>
<rect x="131.50" y="216.88" width="11.80" height="7.55" fill="#ffff00"/>
<rect x="142.50" y="216.88" width="11.80" height="7.55" fill="#a8a45c"/>
<rect x="153.50" y="216.88" width="11.80" height="7.55" fill="#ffff00"/>
<rect x="164.50" y="216.88" width="11.80" height="7.55" fill="#a8a45c"/>
<rect x="175.50" y="216.88" width="11.80" height="7.55" fill="#ffe600"/>
<rect x="186.50" y="216.88" width="11.80" height="7.55" fill="#ffff00"/>
<rect x="197.50" y="216.88" width="11.80" height="7.55" fill="#ffe600"/>
<rect x="208.50" y="216.88" width="11.80" height="7.55" fill="#ffe600"/>
<rect x="219.50" y="216.88" width="11.80" height="7.55" fill="#e8e828"/>
<rect x="230.50" y="216.88" width="11.80" height="7.55" fill="#c6c240"/>
<rect x="241.50" y="216.88" width="11.80" height="7.55" fill="#a8a45c"/>
<rect x="252.50" y="216.88" width="11.80" height="7.55" fill="#c6c240"/>
<rect x="263.50" y="216.88" width="11.80" height="7.55" fill="#ffa208"/>
<rect x="274.50" y="216.88" width="11.80" height="7.55" fill="#ffbc08"/>
<rect x="285.50" y="216.88" width="11.80" height="7.55" fill="#ffbc08"/>
<rect x="296.50" y="216.88" width="11.80" height="7.55" fill="#ffe600"/>
<rect x="307.50" y="216.88" width="11.00" height="7.55" fill="#e8e828"/>
<rect x="131.50" y="223.63" width="11.80" height="7.55" fill="#ffcc00"/>
<rect x="142.50" y="223.63" width="11.80" height="7.55" fill="#ffe600"/>
<rect x="153.50" y="223.63" width="11.80" height="7.55" fill="#ffe600"/>
<rect x="164.50" y="223.63" width="11.80" height="7.55" fill="#ffe600"/>
<rect x="175.50" y="223.63" width="11.80" height="7.55" fill="#c6c240"/>
<rect x="186.50" y="223.63" width="11.80" height="7.55" fill="#ffcc00"/>
<rect x="197.50" y="223.63" width="11.80" height="7.55" fill="#ffe600"/>
<rect x="208.50" y="223.63" width="11.80" height="7.55" fill="#ffcc00"/>
<rect x="219.50" y="223.63" width="11.80" height="7.55" fill="#ffff00"/>
<rect x="230.50" y="223.63" width="11.80" height="7.55" fill="#c6c240"/>
<rect x="241.50" y="223.63" width="11.80" height="7.55" fill="#c6c240"/>
<rect x="252.50" y="223.63" width="11.80" height="7.55" fill="#8c8884"/>
<rect x="263.50" y="223.63" width="11.80" height="7.55" fill="#ffa208"/>
<rect x="274.50" y="223.63" width="11.80" height="7.55" fill="#ffe600"/>
<rect x="285.50" y="223.63" width="11.80" height="7.55" fill="#ffe600"/>
<rect x="296.50" y="223.63" width="11.80" height="7.55" fill="#ffbc08"/>
<rect x="307.50" y="223.63" width="11.00" height="7.55" fill="#e8e828"/>
<rect x="131.50" y="230.38" width="11.80" height="7.55" fill="#ffff00"/>
<rect x="142.50" y="230.38" width="11.80" height="7.55" fill="#c6c240"/>
<rect x="153.50" y="230.38" width="11.80" height="7.55" fill="#e8e828"/>
<rect x="164.50" y="230.38" width="11.80" height="7.55" fill="#c6c240"/>
<rect x="175.50" y="230.38" width="11.80" height="7.55" fill="#ffe600"/>
<rect x="186.50" y="230.38" width="11.80" height="7.55" fill="#ffe600"/>
<rect x="197.50" y="230.38" width="11.80" height="7.55" fill="#ffcc00"/>
<rect x="208.50" y="230.38" width="11.80" height="7.55" fill="#ffcc00"/>
<rect x="219.50" y="230.38" width="11.80" height="7.55" fill="#ffff00"/>
<rect x="230.50" y="230.38" width="11.80" height="7.55" fill="#8c8884"/>
<rect x="241.50" y="230.38" width="11.80" height="7.55" fill="#8c8884"/>
<rect x="252.50" y="230.38" width="11.80" height="7.55" fill="#c6c240"/>
<rect x="263.50" y="230.38" width="11.80" height="7.55" fill="#ffbc08"/>
<rect x="274.50" y="230.38" width="11.80" height="7.55" fill="#ffe600"/>
<rect x="285.50" y="230.38" width="11.80" height="7.55" fill="#ffe600"/>
<rect x="296.50" y="230.38" width="11.80" height="7.55" fill="#ffe600"/>
<rect x="307.50" y="230.38" width="11.00" height="7.55" fill="#c6c240"/>
<rect x="131.50" y="237.14" width="11.80" height="7.55" fill="#a8a45c"/>
<rect x="142.50" y="237.14" width="11.80" height="7.55" fill="#ffa208"/>
<rect x="153.50" y="237.14" width="11.80" height="7.55" fill="#ffe600"/>
<rect x="164.50" y="237.14" width="11.80" height="7.55" fill="#ffcc00"/>
<rect x="175.50" y="237.14" width="11.80" height="7.55" fill="#ffa208"/>
<rect x="186.50" y="237.14" width="11.80" height="7.55" fill="#8c8884"/>
<rect x="197.50" y="237.14" width="11.80" height="7.55" fill="#ffff00"/>
<rect x="208.50" y="237.14" width="11.80" height="7.55" fill="#e8e828"/>
<rect x="219.50" y="237.14" width="11.80" height="7.55" fill="#ffcc00"/>
<rect x="230.50" y="237.14" width="11.80" height="7.55" fill="#8c8884"/>
<rect x="241.50" y="237.14" width="11.80" height="7.55" fill="#8c8884"/>
<rect x="252.50" y="237.14" width="11.80" height="7.55" fill="#8c8884"/>
<rect x="263.50" y="237.14" width="11.80" height="7.55" fill="#ff5214"/>
<rect x="274.50" y="237.14" width="11.80" height="7.55" fill="#ffa208"/>
<rect x="285.50" y="237.14" width="11.80" height="7.55" fill="#ff8212"/>
<rect x="296.50" y="237.14" width="11.80" height="7.55" fill="#ff8212"/>
<rect x="307.50" y="237.14" width="11.00" height="7.55" fill="#8c8884"/>
<rect x="131.50" y="243.90" width="11.80" height="7.55" fill="#a8a45c"/>
<rect x="142.50" y="243.90" width="11.80" height="7.55" fill="#ffcc00"/>
<rect x="153.50" y="243.90" width="11.80" height="7.55" fill="#ffcc00"/>
<rect x="164.50" y="243.90" width="11.80" height="7.55" fill="#ffcc00"/>
<rect x="175.50" y="243.90" width="11.80" height="7.55" fill="#ffcc00"/>
<rect x="186.50" y="243.90" width="11.80" height="7.55" fill="#ffff00"/>
<rect x="197.50" y="243.90" width="11.80" height="7.55" fill="#a8a45c"/>
<rect x="208.50" y="243.90" width="11.80" height="7.55" fill="#a8a45c"/>
<rect x="219.50" y="243.90" width="11.80" height="7.55" fill="#ffff00"/>
<rect x="230.50" y="243.90" width="11.80" height="7.55" fill="#e8e828"/>
<rect x="241.50" y="243.90" width="11.80" height="7.55" fill="#e8e828"/>
<rect x="252.50" y="243.90" width="11.80" height="7.55" fill="#8c8884"/>
<rect x="263.50" y="243.90" width="11.80" height="7.55" fill="#ffa208"/>
<rect x="274.50" y="243.90" width="11.80" height="7.55" fill="#ffbc08"/>
<rect x="285.50" y="243.90" width="11.80" height="7.55" fill="#ffbc08"/>
<rect x="296.50" y="243.90" width="11.80" height="7.55" fill="#ffbc08"/>
<rect x="307.50" y="243.90" width="11.00" height="7.55" fill="#a8a45c"/>
<rect x="131.50" y="250.65" width="11.80" height="7.55" fill="#8c8884"/>
<rect x="142.50" y="250.65" width="11.80" height="7.55" fill="#e8e828"/>
<rect x="153.50" y="250.65" width="11.80" height="7.55" fill="#e8e828"/>
<rect x="164.50" y="250.65" width="11.80" height="7.55" fill="#ffcc00"/>
<rect x="175.50" y="250.65" width="11.80" height="7.55" fill="#ffcc00"/>
<rect x="186.50" y="250.65" width="11.80" height="7.55" fill="#ffff00"/>
<rect x="197.50" y="250.65" width="11.80" height="7.55" fill="#a8a45c"/>
<rect x="208.50" y="250.65" width="11.80" height="7.55" fill="#ffe600"/>
<rect x="219.50" y="250.65" width="11.80" height="7.55" fill="#ffa208"/>
<rect x="230.50" y="250.65" width="11.80" height="7.55" fill="#8c8884"/>
<rect x="241.50" y="250.65" width="11.80" height="7.55" fill="#8c8884"/>
<rect x="252.50" y="250.65" width="11.80" height="7.55" fill="#2020e0"/>
<rect x="263.50" y="250.65" width="11.80" height="7.55" fill="#ffa208"/>
<rect x="274.50" y="250.65" width="11.80" height="7.55" fill="#ffbc08"/>
<rect x="285.50" y="250.65" width="11.80" height="7.55" fill="#ffbc08"/>
<rect x="296.50" y="250.65" width="11.80" height="7.55" fill="#ffbc08"/>
<rect x="307.50" y="250.65" width="11.00" height="7.55" fill="#a8a45c"/>
<rect x="131.50" y="257.40" width="11.80" height="7.55" fill="#a8a45c"/>
<rect x="142.50" y="257.40" width="11.80" height="7.55" fill="#ffff00"/>
<rect x="153.50" y="257.40" width="11.80" height="7.55" fill="#ffe600"/>
<rect x="164.50" y="257.40" width="11.80" height="7.55" fill="#ffe600"/>
<rect x="175.50" y="257.40" width="11.80" height="7.55" fill="#ffe600"/>
<rect x="186.50" y="257.40" width="11.80" height="7.55" fill="#e8e828"/>
<rect x="197.50" y="257.40" width="11.80" height="7.55" fill="#c6c240"/>
<rect x="208.50" y="257.40" width="11.80" height="7.55" fill="#ffe600"/>
<rect x="219.50" y="257.40" width="11.80" height="7.55" fill="#ffcc00"/>
<rect x="230.50" y="257.40" width="11.80" height="7.55" fill="#ffff00"/>
<rect x="241.50" y="257.40" width="11.80" height="7.55" fill="#c6c240"/>
<rect x="252.50" y="257.40" width="11.80" height="7.55" fill="#a8a45c"/>
<rect x="263.50" y="257.40" width="11.80" height="7.55" fill="#ffbc08"/>
<rect x="274.50" y="257.40" width="11.80" height="7.55" fill="#ffbc08"/>
<rect x="285.50" y="257.40" width="11.80" height="7.55" fill="#ffbc08"/>
<rect x="296.50" y="257.40" width="11.80" height="7.55" fill="#ffe600"/>
<rect x="307.50" y="257.40" width="11.00" height="7.55" fill="#a8a45c"/>
<rect x="131.50" y="264.16" width="11.80" height="7.55" fill="#c6c240"/>
<rect x="142.50" y="264.16" width="11.80" height="7.55" fill="#ffcc00"/>
<rect x="153.50" y="264.16" width="11.80" height="7.55" fill="#ffcc00"/>
<rect x="164.50" y="264.16" width="11.80" height="7.55" fill="#c6c240"/>
<rect x="175.50" y="264.16" width="11.80" height="7.55" fill="#a8a45c"/>
<rect x="186.50" y="264.16" width="11.80" height="7.55" fill="#ffcc00"/>
<rect x="197.50" y="264.16" width="11.80" height="7.55" fill="#c6c240"/>
<rect x="208.50" y="264.16" width="11.80" height="7.55" fill="#ffcc00"/>
<rect x="219.50" y="264.16" width="11.80" height="7.55" fill="#ffcc00"/>
<rect x="230.50" y="264.16" width="11.80" height="7.55" fill="#a8a45c"/>
<rect x="241.50" y="264.16" width="11.80" height="7.55" fill="#c6c240"/>
<rect x="252.50" y="264.16" width="11.80" height="7.55" fill="#c6c240"/>
<rect x="263.50" y="264.16" width="11.80" height="7.55" fill="#ffa208"/>
<rect x="274.50" y="264.16" width="11.80" height="7.55" fill="#ffa208"/>
<rect x="285.50" y="264.16" width="11.80" height="7.55" fill="#ffa208"/>
<rect x="296.50" y="264.16" width="11.80" height="7.55" fill="#ffbc08"/>
<rect x="307.50" y="264.16" width="11.00" height="7.55" fill="#c6c240"/>
<rect x="131.50" y="270.91" width="11.80" height="7.55" fill="#a8a45c"/>
<rect x="142.50" y="270.91" width="11.80" height="7.55" fill="#a8a45c"/>
<rect x="153.50" y="270.91" width="11.80" height="7.55" fill="#c6c240"/>
<rect x="164.50" y="270.91" width="11.80" height="7.55" fill="#c6c240"/>
<rect x="175.50" y="270.91" width="11.80" height="7.55" fill="#e8e828"/>
<rect x="186.50" y="270.91" width="11.80" height="7.55" fill="#a8a45c"/>
<rect x="197.50" y="270.91" width="11.80" height="7.55" fill="#ffe600"/>
<rect x="208.50" y="270.91" width="11.80" height="7.55" fill="#ffcc00"/>
<rect x="219.50" y="270.91" width="11.80" height="7.55" fill="#ffe600"/>
<rect x="230.50" y="270.91" width="11.80" height="7.55" fill="#ffcc00"/>
<rect x="241.50" y="270.91" width="11.80" height="7.55" fill="#ffcc00"/>
<rect x="252.50" y="270.91" width="11.80" height="7.55" fill="#ffe600"/>
<rect x="263.50" y="270.91" width="11.80" height="7.55" fill="#ff8212"/>
<rect x="274.50" y="270.91" width="11.80" height="7.55" fill="#ffbc08"/>
<rect x="285.50" y="270.91" width="11.80" height="7.55" fill="#ffbc08"/>
<rect x="296.50" y="270.91" width="11.80" height="7.55" fill="#ffe600"/>
<rect x="307.50" y="270.91" width="11.00" height="7.55" fill="#c6c240"/>
<rect x="131.50" y="277.67" width="11.80" height="7.55" fill="#8c8884"/>
<rect x="142.50" y="277.67" width="11.80" height="7.55" fill="#2020e0"/>
<rect x="153.50" y="277.67" width="11.80" height="7.55" fill="#2020e0"/>
<rect x="164.50" y="277.67" width="11.80" height="7.55" fill="#8c8884"/>
<rect x="175.50" y="277.67" width="11.80" height="7.55" fill="#8c8884"/>
<rect x="186.50" y="277.67" width="11.80" height="7.55" fill="#5c5cb0"/>
<rect x="197.50" y="277.67" width="11.80" height="7.55" fill="#ffcc00"/>
<rect x="208.50" y="277.67" width="11.80" height="7.55" fill="#ffff00"/>
<rect x="219.50" y="277.67" width="11.80" height="7.55" fill="#ffa208"/>
<rect x="230.50" y="277.67" width="11.80" height="7.55" fill="#ffcc00"/>
<rect x="241.50" y="277.67" width="11.80" height="7.55" fill="#ffcc00"/>
<rect x="252.50" y="277.67" width="11.80" height="7.55" fill="#ffa208"/>
<rect x="263.50" y="277.67" width="11.80" height="7.55" fill="#ff5214"/>
<rect x="274.50" y="277.67" width="11.80" height="7.55" fill="#ffa208"/>
<rect x="285.50" y="277.67" width="11.80" height="7.55" fill="#ffa208"/>
<rect x="296.50" y="277.67" width="11.80" height="7.55" fill="#c6c240"/>
<rect x="307.50" y="277.67" width="11.00" height="7.55" fill="#8c8884"/>
<rect x="131.50" y="284.42" width="11.80" height="7.55" fill="#8c8884"/>
<rect x="142.50" y="284.42" width="11.80" height="7.55" fill="#8c8884"/>
<rect x="153.50" y="284.42" width="11.80" height="7.55" fill="#8c8884"/>
<rect x="164.50" y="284.42" width="11.80" height="7.55" fill="#a8a45c"/>
<rect x="175.50" y="284.42" width="11.80" height="7.55" fill="#c6c240"/>
<rect x="186.50" y="284.42" width="11.80" height="7.55" fill="#a8a45c"/>
<rect x="197.50" y="284.42" width="11.80" height="7.55" fill="#ffcc00"/>
<rect x="208.50" y="284.42" width="11.80" height="7.55" fill="#ffcc00"/>
<rect x="219.50" y="284.42" width="11.80" height="7.55" fill="#ffcc00"/>
<rect x="230.50" y="284.42" width="11.80" height="7.55" fill="#ffcc00"/>
<rect x="241.50" y="284.42" width="11.80" height="7.55" fill="#ffcc00"/>
<rect x="252.50" y="284.42" width="11.80" height="7.55" fill="#ffcc00"/>
<rect x="263.50" y="284.42" width="11.80" height="7.55" fill="#ff8212"/>
<rect x="274.50" y="284.42" width="11.80" height="7.55" fill="#ffa208"/>
<rect x="285.50" y="284.42" width="11.80" height="7.55" fill="#ffa208"/>
<rect x="296.50" y="284.42" width="11.80" height="7.55" fill="#e8e828"/>
<rect x="307.50" y="284.42" width="11.00" height="7.55" fill="#8c8884"/>
<rect x="131.50" y="291.18" width="11.80" height="7.55" fill="#a8a45c"/>
<rect x="142.50" y="291.18" width="11.80" height="7.55" fill="#a8a45c"/>
<rect x="153.50" y="291.18" width="11.80" height="7.55" fill="#8c8884"/>
<rect x="164.50" y="291.18" width="11.80" height="7.55" fill="#e8e828"/>
<rect x="175.50" y="291.18" width="11.80" height="7.55" fill="#a8a45c"/>
<rect x="186.50" y="291.18" width="11.80" height="7.55" fill="#a8a45c"/>
<rect x="197.50" y="291.18" width="11.80" height="7.55" fill="#c6c240"/>
<rect x="208.50" y="291.18" width="11.80" height="7.55" fill="#ffe600"/>
<rect x="219.50" y="291.18" width="11.80" height="7.55" fill="#ffe600"/>
<rect x="230.50" y="291.18" width="11.80" height="7.55" fill="#ffa208"/>
<rect x="241.50" y="291.18" width="11.80" height="7.55" fill="#ffa208"/>
<rect x="252.50" y="291.18" width="11.80" height="7.55" fill="#ffa208"/>
<rect x="263.50" y="291.18" width="11.80" height="7.55" fill="#ff0a00"/>
<rect x="274.50" y="291.18" width="11.80" height="7.55" fill="#ff8212"/>
<rect x="285.50" y="291.18" width="11.80" height="7.55" fill="#ff8212"/>
<rect x="296.50" y="291.18" width="11.80" height="7.55" fill="#ffff00"/>
<rect x="307.50" y="291.18" width="11.00" height="7.55" fill="#8c8884"/>
<rect x="131.50" y="297.94" width="11.80" height="7.55" fill="#8c8884"/>
<rect x="142.50" y="297.94" width="11.80" height="7.55" fill="#c6c240"/>
<rect x="153.50" y="297.94" width="11.80" height="7.55" fill="#ffa208"/>
<rect x="164.50" y="297.94" width="11.80" height="7.55" fill="#ffa208"/>
<rect x="175.50" y="297.94" width="11.80" height="7.55" fill="#a8a45c"/>
<rect x="186.50" y="297.94" width="11.80" height="7.55" fill="#a8a45c"/>
<rect x="197.50" y="297.94" width="11.80" height="7.55" fill="#8c8884"/>
<rect x="208.50" y="297.94" width="11.80" height="7.55" fill="#2020e0"/>
<rect x="219.50" y="297.94" width="11.80" height="7.55" fill="#ffa208"/>
<rect x="230.50" y="297.94" width="11.80" height="7.55" fill="#8c8884"/>
<rect x="241.50" y="297.94" width="11.80" height="7.55" fill="#ffff00"/>
<rect x="252.50" y="297.94" width="11.80" height="7.55" fill="#5c5cb0"/>
<rect x="263.50" y="297.94" width="11.80" height="7.55" fill="#ff0a00"/>
<rect x="274.50" y="297.94" width="11.80" height="7.55" fill="#ff0a00"/>
<rect x="285.50" y="297.94" width="11.80" height="7.55" fill="#ff0a00"/>
<rect x="296.50" y="297.94" width="11.80" height="7.55" fill="#ff0a00"/>
<rect x="307.50" y="297.94" width="11.00" height="7.55" fill="#ff8212"/>
<rect x="131.50" y="304.69" width="11.80" height="7.55" fill="#ffff00"/>
<rect x="142.50" y="304.69" width="11.80" height="7.55" fill="#8c8884"/>
<rect x="153.50" y="304.69" width="11.80" height="7.55" fill="#ffe600"/>
<rect x="164.50" y="304.69" width="11.80" height="7.55" fill="#8c8884"/>
<rect x="175.50" y="304.69" width="11.80" height="7.55" fill="#c6c240"/>
<rect x="186.50" y="304.69" width="11.80" height="7.55" fill="#c6c240"/>
<rect x="197.50" y="304.69" width="11.80" height="7.55" fill="#e8e828"/>
<rect x="208.50" y="304.69" width="11.80" height="7.55" fill="#ffcc00"/>
<rect x="219.50" y="304.69" width="11.80" height="7.55" fill="#ffe600"/>
<rect x="230.50" y="304.69" width="11.80" height="7.55" fill="#c6c240"/>
<rect x="241.50" y="304.69" width="11.80" height="7.55" fill="#a8a45c"/>
<rect x="252.50" y="304.69" width="11.80" height="7.55" fill="#ffe600"/>
<rect x="263.50" y="304.69" width="11.80" height="7.55" fill="#ff5214"/>
<rect x="274.50" y="304.69" width="11.80" height="7.55" fill="#ff8212"/>
<rect x="285.50" y="304.69" width="11.80" height="7.55" fill="#ff8212"/>
<rect x="296.50" y="304.69" width="11.80" height="7.55" fill="#ff8212"/>
<rect x="307.50" y="304.69" width="11.00" height="7.55" fill="#e8e828"/>
<rect x="131.50" y="311.44" width="11.80" height="7.55" fill="#ffff00"/>
<rect x="142.50" y="311.44" width="11.80" height="7.55" fill="#c6c240"/>
<rect x="153.50" y="311.44" width="11.80" height="7.55" fill="#c6c240"/>
<rect x="164.50" y="311.44" width="11.80" height="7.55" fill="#a8a45c"/>
<rect x="175.50" y="311.44" width="11.80" height="7.55" fill="#ffcc00"/>
<rect x="186.50" y="311.44" width="11.80" height="7.55" fill="#ffe600"/>
<rect x="197.50" y="311.44" width="11.80" height="7.55" fill="#ffe600"/>
<rect x="208.50" y="311.44" width="11.80" height="7.55" fill="#ffe600"/>
<rect x="219.50" y="311.44" width="11.80" height="7.55" fill="#e8e828"/>
<rect x="230.50" y="311.44" width="11.80" height="7.55" fill="#e8e828"/>
<rect x="241.50" y="311.44" width="11.80" height="7.55" fill="#e8e828"/>
<rect x="252.50" y="311.44" width="11.80" height="7.55" fill="#ffff00"/>
<rect x="263.50" y="311.44" width="11.80" height="7.55" fill="#ff8212"/>
<rect x="274.50" y="311.44" width="11.80" height="7.55" fill="#ff8212"/>
<rect x="285.50" y="311.44" width="11.80" height="7.55" fill="#ffa208"/>
<rect x="296.50" y="311.44" width="11.80" height="7.55" fill="#ffbc08"/>
<rect x="307.50" y="311.44" width="11.00" height="7.55" fill="#e8e828"/>
<rect x="131.50" y="318.20" width="11.80" height="7.55" fill="#8c8884"/>
<rect x="142.50" y="318.20" width="11.80" height="7.55" fill="#e8e828"/>
<rect x="153.50" y="318.20" width="11.80" height="7.55" fill="#a8a45c"/>
<rect x="164.50" y="318.20" width="11.80" height="7.55" fill="#5c5cb0"/>
<rect x="175.50" y="318.20" width="11.80" height="7.55" fill="#8c8884"/>
<rect x="186.50" y="318.20" width="11.80" height="7.55" fill="#ffcc00"/>
<rect x="197.50" y="318.20" width="11.80" height="7.55" fill="#ffe600"/>
<rect x="208.50" y="318.20" width="11.80" height="7.55" fill="#e8e828"/>
<rect x="219.50" y="318.20" width="11.80" height="7.55" fill="#c6c240"/>
<rect x="230.50" y="318.20" width="11.80" height="7.55" fill="#ffcc00"/>
<rect x="241.50" y="318.20" width="11.80" height="7.55" fill="#c6c240"/>
<rect x="252.50" y="318.20" width="11.80" height="7.55" fill="#ff8212"/>
<rect x="263.50" y="318.20" width="11.80" height="7.55" fill="#ff0a00"/>
<rect x="274.50" y="318.20" width="11.80" height="7.55" fill="#ff0a00"/>
<rect x="285.50" y="318.20" width="11.80" height="7.55" fill="#ff0a00"/>
<rect x="296.50" y="318.20" width="11.80" height="7.55" fill="#ffa208"/>
<rect x="307.50" y="318.20" width="11.00" height="7.55" fill="#ffcc00"/>
<rect x="131.50" y="324.95" width="11.80" height="7.55" fill="#8c8884"/>
<rect x="142.50" y="324.95" width="11.80" height="7.55" fill="#c6c240"/>
<rect x="153.50" y="324.95" width="11.80" height="7.55" fill="#e8e828"/>
<rect x="164.50" y="324.95" width="11.80" height="7.55" fill="#ffff00"/>
<rect x="175.50" y="324.95" width="11.80" height="7.55" fill="#c6c240"/>
<rect x="186.50" y="324.95" width="11.80" height="7.55" fill="#ffcc00"/>
<rect x="197.50" y="324.95" width="11.80" height="7.55" fill="#ffe600"/>
<rect x="208.50" y="324.95" width="11.80" height="7.55" fill="#ffcc00"/>
<rect x="219.50" y="324.95" width="11.80" height="7.55" fill="#ffcc00"/>
<rect x="230.50" y="324.95" width="11.80" height="7.55" fill="#ffcc00"/>
<rect x="241.50" y="324.95" width="11.80" height="7.55" fill="#a8a45c"/>
<rect x="252.50" y="324.95" width="11.80" height="7.55" fill="#ffe600"/>
<rect x="263.50" y="324.95" width="11.80" height="7.55" fill="#ff8212"/>
<rect x="274.50" y="324.95" width="11.80" height="7.55" fill="#ffbc08"/>
<rect x="285.50" y="324.95" width="11.80" height="7.55" fill="#ffbc08"/>
<rect x="296.50" y="324.95" width="11.80" height="7.55" fill="#ffff00"/>
<rect x="307.50" y="324.95" width="11.00" height="7.55" fill="#c6c240"/>
<rect x="131.50" y="331.71" width="11.80" height="7.55" fill="#a8a45c"/>
<rect x="142.50" y="331.71" width="11.80" height="7.55" fill="#e8e828"/>
<rect x="153.50" y="331.71" width="11.80" height="7.55" fill="#e8e828"/>
<rect x="164.50" y="331.71" width="11.80" height="7.55" fill="#e8e828"/>
<rect x="175.50" y="331.71" width="11.80" height="7.55" fill="#ffe600"/>
<rect x="186.50" y="331.71" width="11.80" height="7.55" fill="#a8a45c"/>
<rect x="197.50" y="331.71" width="11.80" height="7.55" fill="#ffff00"/>
<rect x="208.50" y="331.71" width="11.80" height="7.55" fill="#c6c240"/>
<rect x="219.50" y="331.71" width="11.80" height="7.55" fill="#ffe600"/>
<rect x="230.50" y="331.71" width="11.80" height="7.55" fill="#ffff00"/>
<rect x="241.50" y="331.71" width="11.80" height="7.55" fill="#e8e828"/>
<rect x="252.50" y="331.71" width="11.80" height="7.55" fill="#ffe600"/>
<rect x="263.50" y="331.71" width="11.80" height="7.55" fill="#ffa208"/>
<rect x="274.50" y="331.71" width="11.80" height="7.55" fill="#ffbc08"/>
<rect x="285.50" y="331.71" width="11.80" height="7.55" fill="#ffbc08"/>
<rect x="296.50" y="331.71" width="11.80" height="7.55" fill="#ffbc08"/>
<rect x="307.50" y="331.71" width="11.00" height="7.55" fill="#c6c240"/>
<rect x="131.50" y="338.46" width="11.80" height="7.55" fill="#ffcc00"/>
<rect x="142.50" y="338.46" width="11.80" height="7.55" fill="#ffcc00"/>
<rect x="153.50" y="338.46" width="11.80" height="7.55" fill="#ffcc00"/>
<rect x="164.50" y="338.46" width="11.80" height="7.55" fill="#e8e828"/>
<rect x="175.50" y="338.46" width="11.80" height="7.55" fill="#ffe600"/>
<rect x="186.50" y="338.46" width="11.80" height="7.55" fill="#ffff00"/>
<rect x="197.50" y="338.46" width="11.80" height="7.55" fill="#e8e828"/>
<rect x="208.50" y="338.46" width="11.80" height="7.55" fill="#ffe600"/>
<rect x="219.50" y="338.46" width="11.80" height="7.55" fill="#c6c240"/>
<rect x="230.50" y="338.46" width="11.80" height="7.55" fill="#ffff00"/>
<rect x="241.50" y="338.46" width="11.80" height="7.55" fill="#c6c240"/>
<rect x="252.50" y="338.46" width="11.80" height="7.55" fill="#a8a45c"/>
<rect x="263.50" y="338.46" width="11.80" height="7.55" fill="#ffa208"/>
<rect x="274.50" y="338.46" width="11.80" height="7.55" fill="#ffa208"/>
<rect x="285.50" y="338.46" width="11.80" height="7.55" fill="#ffff00"/>
<rect x="296.50" y="338.46" width="11.80" height="7.55" fill="#ffff00"/>
<rect x="307.50" y="338.46" width="11.00" height="7.55" fill="#ffe600"/>
<rect x="131.50" y="345.22" width="11.80" height="7.55" fill="#e8e828"/>
<rect x="142.50" y="345.22" width="11.80" height="7.55" fill="#e8e828"/>
<rect x="153.50" y="345.22" width="11.80" height="7.55" fill="#ffcc00"/>
<rect x="164.50" y="345.22" width="11.80" height="7.55" fill="#e8e828"/>
<rect x="175.50" y="345.22" width="11.80" height="7.55" fill="#8c8884"/>
<rect x="186.50" y="345.22" width="11.80" height="7.55" fill="#a8a45c"/>
<rect x="197.50" y="345.22" width="11.80" height="7.55" fill="#c6c240"/>
<rect x="208.50" y="345.22" width="11.80" height="7.55" fill="#ffe600"/>
<rect x="219.50" y="345.22" width="11.80" height="7.55" fill="#e8e828"/>
<rect x="230.50" y="345.22" width="11.80" height="7.55" fill="#8c8884"/>
<rect x="241.50" y="345.22" width="11.80" height="7.55" fill="#8c8884"/>
<rect x="252.50" y="345.22" width="11.80" height="7.55" fill="#8c8884"/>
<rect x="263.50" y="345.22" width="11.80" height="7.55" fill="#ffa208"/>
<rect x="274.50" y="345.22" width="11.80" height="7.55" fill="#ff8212"/>
<rect x="285.50" y="345.22" width="11.80" height="7.55" fill="#ffa208"/>
<rect x="296.50" y="345.22" width="11.80" height="7.55" fill="#ffa208"/>
<rect x="307.50" y="345.22" width="11.00" height="7.55" fill="#ffe600"/>
<rect x="131.50" y="351.98" width="11.80" height="7.55" fill="#e8e828"/>
<rect x="142.50" y="351.98" width="11.80" height="7.55" fill="#ffe600"/>
<rect x="153.50" y="351.98" width="11.80" height="7.55" fill="#ffe600"/>
<rect x="164.50" y="351.98" width="11.80" height="7.55" fill="#ffe600"/>
<rect x="175.50" y="351.98" width="11.80" height="7.55" fill="#ffcc00"/>
<rect x="186.50" y="351.98" width="11.80" height="7.55" fill="#ffe600"/>
<rect x="197.50" y="351.98" width="11.80" height="7.55" fill="#ffe600"/>
<rect x="208.50" y="351.98" width="11.80" height="7.55" fill="#ffe600"/>
<rect x="219.50" y="351.98" width="11.80" height="7.55" fill="#ffe600"/>
<rect x="230.50" y="351.98" width="11.80" height="7.55" fill="#e8e828"/>
<rect x="241.50" y="351.98" width="11.80" height="7.55" fill="#c6c240"/>
<rect x="252.50" y="351.98" width="11.80" height="7.55" fill="#a8a45c"/>
<rect x="263.50" y="351.98" width="11.80" height="7.55" fill="#ffa208"/>
<rect x="274.50" y="351.98" width="11.80" height="7.55" fill="#ff8212"/>
<rect x="285.50" y="351.98" width="11.80" height="7.55" fill="#ff8212"/>
<rect x="296.50" y="351.98" width="11.80" height="7.55" fill="#ff8212"/>
<rect x="307.50" y="351.98" width="11.00" height="7.55" fill="#e8e828"/>
<rect x="131.50" y="358.73" width="11.80" height="7.55" fill="#e8e828"/>
<rect x="142.50" y="358.73" width="11.80" height="7.55" fill="#e8e828"/>
<rect x="153.50" y="358.73" width="11.80" height="7.55" fill="#ffe600"/>
<rect x="164.50" y="358.73" width="11.80" height="7.55" fill="#ffe600"/>
<rect x="175.50" y="358.73" width="11.80" height="7.55" fill="#ffa208"/>
<rect x="186.50" y="358.73" width="11.80" height="7.55" fill="#ffa208"/>
<rect x="197.50" y="358.73" width="11.80" height="7.55" fill="#e8e828"/>
<rect x="208.50" y="358.73" width="11.80" height="7.55" fill="#8c8884"/>
<rect x="219.50" y="358.73" width="11.80" height="7.55" fill="#c6c240"/>
<rect x="230.50" y="358.73" width="11.80" height="7.55" fill="#8c8884"/>
<rect x="241.50" y="358.73" width="11.80" height="7.55" fill="#2020e0"/>
<rect x="252.50" y="358.73" width="11.80" height="7.55" fill="#5c5cb0"/>
<rect x="263.50" y="358.73" width="11.80" height="7.55" fill="#ff8212"/>
<rect x="274.50" y="358.73" width="11.80" height="7.55" fill="#ff5214"/>
<rect x="285.50" y="358.73" width="11.80" height="7.55" fill="#ff5214"/>
<rect x="296.50" y="358.73" width="11.80" height="7.55" fill="#ff5214"/>
<rect x="307.50" y="358.73" width="11.00" height="7.55" fill="#ffcc00"/>
<rect x="131.50" y="365.49" width="11.80" height="7.55" fill="#ffcc00"/>
<rect x="142.50" y="365.49" width="11.80" height="7.55" fill="#ffcc00"/>
<rect x="153.50" y="365.49" width="11.80" height="7.55" fill="#ffcc00"/>
<rect x="164.50" y="365.49" width="11.80" height="7.55" fill="#e8e828"/>
<rect x="175.50" y="365.49" width="11.80" height="7.55" fill="#e8e828"/>
<rect x="186.50" y="365.49" width="11.80" height="7.55" fill="#ffe600"/>
<rect x="197.50" y="365.49" width="11.80" height="7.55" fill="#ffe600"/>
<rect x="208.50" y="365.49" width="11.80" height="7.55" fill="#c6c240"/>
<rect x="219.50" y="365.49" width="11.80" height="7.55" fill="#e8e828"/>
<rect x="230.50" y="365.49" width="11.80" height="7.55" fill="#8c8884"/>
<rect x="241.50" y="365.49" width="11.80" height="7.55" fill="#8c8884"/>
<rect x="252.50" y="365.49" width="11.80" height="7.55" fill="#5c5cb0"/>
<rect x="263.50" y="365.49" width="11.80" height="7.55" fill="#ff8212"/>
<rect x="274.50" y="365.49" width="11.80" height="7.55" fill="#ff8212"/>
<rect x="285.50" y="365.49" width="11.80" height="7.55" fill="#ff8212"/>
<rect x="296.50" y="365.49" width="11.80" height="7.55" fill="#ff8212"/>
<rect x="307.50" y="365.49" width="11.00" height="7.55" fill="#ffe600"/>
<rect x="131.50" y="372.24" width="11.80" height="7.55" fill="#ffcc00"/>
<rect x="142.50" y="372.24" width="11.80" height="7.55" fill="#e8e828"/>
<rect x="153.50" y="372.24" width="11.80" height="7.55" fill="#e8e828"/>
<rect x="164.50" y="372.24" width="11.80" height="7.55" fill="#e8e828"/>
<rect x="175.50" y="372.24" width="11.80" height="7.55" fill="#e8e828"/>
<rect x="186.50" y="372.24" width="11.80" height="7.55" fill="#ffe600"/>
<rect x="197.50" y="372.24" width="11.80" height="7.55" fill="#ffe600"/>
<rect x="208.50" y="372.24" width="11.80" height="7.55" fill="#ffcc00"/>
<rect x="219.50" y="372.24" width="11.80" height="7.55" fill="#a8a45c"/>
<rect x="230.50" y="372.24" width="11.80" height="7.55" fill="#5c5cb0"/>
<rect x="241.50" y="372.24" width="11.80" height="7.55" fill="#5c5cb0"/>
<rect x="252.50" y="372.24" width="11.80" height="7.55" fill="#5c5cb0"/>
<rect x="263.50" y="372.24" width="11.80" height="7.55" fill="#ff8212"/>
<rect x="274.50" y="372.24" width="11.80" height="7.55" fill="#ff8212"/>
<rect x="285.50" y="372.24" width="11.80" height="7.55" fill="#ff8212"/>
<rect x="296.50" y="372.24" width="11.80" height="7.55" fill="#ff8212"/>
<rect x="307.50" y="372.24" width="11.00" height="7.55" fill="#ffcc00"/>
<rect x="131.50" y="379.00" width="11.80" height="7.55" fill="#ffcc00"/>
<rect x="142.50" y="379.00" width="11.80" height="7.55" fill="#a8a45c"/>
<rect x="153.50" y="379.00" width="11.80" height="7.55" fill="#ffff00"/>
<rect x="164.50" y="379.00" width="11.80" height="7.55" fill="#ffff00"/>
<rect x="175.50" y="379.00" width="11.80" height="7.55" fill="#8c8884"/>
<rect x="186.50" y="379.00" width="11.80" height="7.55" fill="#ffe600"/>
<rect x="197.50" y="379.00" width="11.80" height="7.55" fill="#ffe600"/>
<rect x="208.50" y="379.00" width="11.80" height="7.55" fill="#e8e828"/>
<rect x="219.50" y="379.00" width="11.80" height="7.55" fill="#a8a45c"/>
<rect x="230.50" y="379.00" width="11.80" height="7.55" fill="#2020e0"/>
<rect x="241.50" y="379.00" width="11.80" height="7.55" fill="#2020e0"/>
<rect x="252.50" y="379.00" width="11.80" height="7.55" fill="#2020e0"/>
<rect x="263.50" y="379.00" width="11.80" height="7.55" fill="#ffa208"/>
<rect x="274.50" y="379.00" width="11.80" height="7.55" fill="#ff8212"/>
<rect x="285.50" y="379.00" width="11.80" height="7.55" fill="#ff8212"/>
<rect x="296.50" y="379.00" width="11.80" height="7.55" fill="#ffa208"/>
<rect x="307.50" y="379.00" width="11.00" height="7.55" fill="#ffcc00"/>
<rect x="131.50" y="385.75" width="11.80" height="7.55" fill="#e8e828"/>
<rect x="142.50" y="385.75" width="11.80" height="7.55" fill="#ffcc00"/>
<rect x="153.50" y="385.75" width="11.80" height="7.55" fill="#ffcc00"/>
<rect x="164.50" y="385.75" width="11.80" height="7.55" fill="#e8e828"/>
<rect x="175.50" y="385.75" width="11.80" height="7.55" fill="#ffcc00"/>
<rect x="186.50" y="385.75" width="11.80" height="7.55" fill="#c6c240"/>
<rect x="197.50" y="385.75" width="11.80" height="7.55" fill="#c6c240"/>
<rect x="208.50" y="385.75" width="11.80" height="7.55" fill="#5c5cb0"/>
<rect x="219.50" y="385.75" width="11.80" height="7.55" fill="#ffa208"/>
<rect x="230.50" y="385.75" width="11.80" height="7.55" fill="#8c8884"/>
<rect x="241.50" y="385.75" width="11.80" height="7.55" fill="#2020e0"/>
<rect x="252.50" y="385.75" width="11.80" height="7.55" fill="#5c5cb0"/>
<rect x="263.50" y="385.75" width="11.80" height="7.55" fill="#ff8212"/>
<rect x="274.50" y="385.75" width="11.80" height="7.55" fill="#ff5214"/>
<rect x="285.50" y="385.75" width="11.80" height="7.55" fill="#ff5214"/>
<rect x="296.50" y="385.75" width="11.80" height="7.55" fill="#ff8212"/>
<rect x="307.50" y="385.75" width="11.00" height="7.55" fill="#e8e828"/>
<rect x="131.50" y="392.50" width="11.80" height="7.55" fill="#ffa208"/>
<rect x="142.50" y="392.50" width="11.80" height="7.55" fill="#ffa208"/>
<rect x="153.50" y="392.50" width="11.80" height="7.55" fill="#ffa208"/>
<rect x="164.50" y="392.50" width="11.80" height="7.55" fill="#e8e828"/>
<rect x="175.50" y="392.50" width="11.80" height="7.55" fill="#ffff00"/>
<rect x="186.50" y="392.50" width="11.80" height="7.55" fill="#5c5cb0"/>
<rect x="197.50" y="392.50" width="11.80" height="7.55" fill="#5c5cb0"/>
<rect x="208.50" y="392.50" width="11.80" height="7.55" fill="#5c5cb0"/>
<rect x="219.50" y="392.50" width="11.80" height="7.55" fill="#c6c240"/>
<rect x="230.50" y="392.50" width="11.80" height="7.55" fill="#ffcc00"/>
<rect x="241.50" y="392.50" width="11.80" height="7.55" fill="#ffff00"/>
<rect x="252.50" y="392.50" width="11.80" height="7.55" fill="#5c5cb0"/>
<rect x="263.50" y="392.50" width="11.80" height="7.55" fill="#ff5214"/>
<rect x="274.50" y="392.50" width="11.80" height="7.55" fill="#ff0a00"/>
<rect x="285.50" y="392.50" width="11.80" height="7.55" fill="#ff0a00"/>
<rect x="296.50" y="392.50" width="11.80" height="7.55" fill="#ff5214"/>
<rect x="307.50" y="392.50" width="11.00" height="7.55" fill="#ffff00"/>
<rect x="131.50" y="399.26" width="11.80" height="7.55" fill="#e8e828"/>
<rect x="142.50" y="399.26" width="11.80" height="7.55" fill="#ffff00"/>
<rect x="153.50" y="399.26" width="11.80" height="7.55" fill="#ffe600"/>
<rect x="164.50" y="399.26" width="11.80" height="7.55" fill="#c6c240"/>
<rect x="175.50" y="399.26" width="11.80" height="7.55" fill="#ffcc00"/>
<rect x="186.50" y="399.26" width="11.80" height="7.55" fill="#e8e828"/>
<rect x="197.50" y="399.26" width="11.80" height="7.55" fill="#c6c240"/>
<rect x="208.50" y="399.26" width="11.80" height="7.55" fill="#5c5cb0"/>
<rect x="219.50" y="399.26" width="11.80" height="7.55" fill="#ffff00"/>
<rect x="230.50" y="399.26" width="11.80" height="7.55" fill="#5c5cb0"/>
<rect x="241.50" y="399.26" width="11.80" height="7.55" fill="#2020e0"/>
<rect x="252.50" y="399.26" width="11.80" height="7.55" fill="#2020e0"/>
<rect x="263.50" y="399.26" width="11.80" height="7.55" fill="#ffbc08"/>
<rect x="274.50" y="399.26" width="11.80" height="7.55" fill="#ffa208"/>
<rect x="285.50" y="399.26" width="11.80" height="7.55" fill="#ffa208"/>
<rect x="296.50" y="399.26" width="11.80" height="7.55" fill="#ffa208"/>
<rect x="307.50" y="399.26" width="11.00" height="7.55" fill="#ffe600"/>
<rect x="131.50" y="406.01" width="11.80" height="7.55" fill="#ffcc00"/>
<rect x="142.50" y="406.01" width="11.80" height="7.55" fill="#ffe600"/>
<rect x="153.50" y="406.01" width="11.80" height="7.55" fill="#ffcc00"/>
<rect x="164.50" y="406.01" width="11.80" height="7.55" fill="#e8e828"/>
<rect x="175.50" y="406.01" width="11.80" height="7.55" fill="#e8e828"/>
<rect x="186.50" y="406.01" width="11.80" height="7.55" fill="#ffe600"/>
<rect x="197.50" y="406.01" width="11.80" height="7.55" fill="#ffe600"/>
<rect x="208.50" y="406.01" width="11.80" height="7.55" fill="#e8e828"/>
<rect x="219.50" y="406.01" width="11.80" height="7.55" fill="#a8a45c"/>
<rect x="230.50" y="406.01" width="11.80" height="7.55" fill="#8c8884"/>
<rect x="241.50" y="406.01" width="11.80" height="7.55" fill="#5c5cb0"/>
<rect x="252.50" y="406.01" width="11.80" height="7.55" fill="#5c5cb0"/>
<rect x="263.50" y="406.01" width="11.80" height="7.55" fill="#ff8212"/>
<rect x="274.50" y="406.01" width="11.80" height="7.55" fill="#ffa208"/>
<rect x="285.50" y="406.01" width="11.80" height="7.55" fill="#ffa208"/>
<rect x="296.50" y="406.01" width="11.80" height="7.55" fill="#ffbc08"/>
<rect x="307.50" y="406.01" width="11.00" height="7.55" fill="#ffff00"/>
<rect x="131.50" y="412.77" width="11.80" height="7.55" fill="#ffcc00"/>
<rect x="142.50" y="412.77" width="11.80" height="7.55" fill="#e8e828"/>
<rect x="153.50" y="412.77" width="11.80" height="7.55" fill="#ffe600"/>
<rect x="164.50" y="412.77" width="11.80" height="7.55" fill="#ffe600"/>
<rect x="175.50" y="412.77" width="11.80" height="7.55" fill="#ffe600"/>
<rect x="186.50" y="412.77" width="11.80" height="7.55" fill="#ffe600"/>
<rect x="197.50" y="412.77" width="11.80" height="7.55" fill="#ffe600"/>
<rect x="208.50" y="412.77" width="11.80" height="7.55" fill="#e8e828"/>
<rect x="219.50" y="412.77" width="11.80" height="7.55" fill="#a8a45c"/>
<rect x="230.50" y="412.77" width="11.80" height="7.55" fill="#a8a45c"/>
<rect x="241.50" y="412.77" width="11.80" height="7.55" fill="#8c8884"/>
<rect x="252.50" y="412.77" width="11.80" height="7.55" fill="#e8e828"/>
<rect x="263.50" y="412.77" width="11.80" height="7.55" fill="#ffbc08"/>
<rect x="274.50" y="412.77" width="11.80" height="7.55" fill="#ffbc08"/>
<rect x="285.50" y="412.77" width="11.80" height="7.55" fill="#ffbc08"/>
<rect x="296.50" y="412.77" width="11.80" height="7.55" fill="#ffbc08"/>
<rect x="307.50" y="412.77" width="11.00" height="7.55" fill="#ffe600"/>
<rect x="131.50" y="419.52" width="11.80" height="7.55" fill="#ffcc00"/>
<rect x="142.50" y="419.52" width="11.80" height="7.55" fill="#e8e828"/>
<rect x="153.50" y="419.52" width="11.80" height="7.55" fill="#ffcc00"/>
<rect x="164.50" y="419.52" width="11.80" height="7.55" fill="#e8e828"/>
<rect x="175.50" y="419.52" width="11.80" height="7.55" fill="#c6c240"/>
<rect x="186.50" y="419.52" width="11.80" height="7.55" fill="#ffcc00"/>
<rect x="197.50" y="419.52" width="11.80" height="7.55" fill="#e8e828"/>
<rect x="208.50" y="419.52" width="11.80" height="7.55" fill="#ffff00"/>
<rect x="219.50" y="419.52" width="11.80" height="7.55" fill="#c6c240"/>
<rect x="230.50" y="419.52" width="11.80" height="7.55" fill="#8c8884"/>
<rect x="241.50" y="419.52" width="11.80" height="7.55" fill="#c6c240"/>
<rect x="252.50" y="419.52" width="11.80" height="7.55" fill="#8c8884"/>
<rect x="263.50" y="419.52" width="11.80" height="7.55" fill="#ffbc08"/>
<rect x="274.50" y="419.52" width="11.80" height="7.55" fill="#ffbc08"/>
<rect x="285.50" y="419.52" width="11.80" height="7.55" fill="#ffbc08"/>
<rect x="296.50" y="419.52" width="11.80" height="7.55" fill="#ffbc08"/>
<rect x="307.50" y="419.52" width="11.00" height="7.55" fill="#ffe600"/>
<rect x="131.50" y="426.28" width="11.80" height="7.55" fill="#ffcc00"/>
<rect x="142.50" y="426.28" width="11.80" height="7.55" fill="#ffe600"/>
<rect x="153.50" y="426.28" width="11.80" height="7.55" fill="#ffcc00"/>
<rect x="164.50" y="426.28" width="11.80" height="7.55" fill="#e8e828"/>
<rect x="175.50" y="426.28" width="11.80" height="7.55" fill="#e8e828"/>
<rect x="186.50" y="426.28" width="11.80" height="7.55" fill="#e8e828"/>
<rect x="197.50" y="426.28" width="11.80" height="7.55" fill="#c6c240"/>
<rect x="208.50" y="426.28" width="11.80" height="7.55" fill="#ffff00"/>
<rect x="219.50" y="426.28" width="11.80" height="7.55" fill="#ffe600"/>
<rect x="230.50" y="426.28" width="11.80" height="7.55" fill="#8c8884"/>
<rect x="241.50" y="426.28" width="11.80" height="7.55" fill="#8c8884"/>
<rect x="252.50" y="426.28" width="11.80" height="7.55" fill="#8c8884"/>
<rect x="263.50" y="426.28" width="11.80" height="7.55" fill="#ffbc08"/>
<rect x="274.50" y="426.28" width="11.80" height="7.55" fill="#ffbc08"/>
<rect x="285.50" y="426.28" width="11.80" height="7.55" fill="#ffbc08"/>
<rect x="296.50" y="426.28" width="11.80" height="7.55" fill="#ffa208"/>
<rect x="307.50" y="426.28" width="11.00" height="7.55" fill="#ffff00"/>
<rect x="131.50" y="433.03" width="11.80" height="7.55" fill="#ffcc00"/>
<rect x="142.50" y="433.03" width="11.80" height="7.55" fill="#ffcc00"/>
<rect x="153.50" y="433.03" width="11.80" height="7.55" fill="#ffcc00"/>
<rect x="164.50" y="433.03" width="11.80" height="7.55" fill="#ffcc00"/>
<rect x="175.50" y="433.03" width="11.80" height="7.55" fill="#ffff00"/>
<rect x="186.50" y="433.03" width="11.80" height="7.55" fill="#e8e828"/>
<rect x="197.50" y="433.03" width="11.80" height="7.55" fill="#c6c240"/>
<rect x="208.50" y="433.03" width="11.80" height="7.55" fill="#a8a45c"/>
<rect x="219.50" y="433.03" width="11.80" height="7.55" fill="#c6c240"/>
<rect x="230.50" y="433.03" width="11.80" height="7.55" fill="#8c8884"/>
<rect x="241.50" y="433.03" width="11.80" height="7.55" fill="#2020e0"/>
<rect x="252.50" y="433.03" width="11.80" height="7.55" fill="#5c5cb0"/>
<rect x="263.50" y="433.03" width="11.80" height="7.55" fill="#ffa208"/>
<rect x="274.50" y="433.03" width="11.80" height="7.55" fill="#ffbc08"/>
<rect x="285.50" y="433.03" width="11.80" height="7.55" fill="#ffa208"/>
<rect x="296.50" y="433.03" width="11.80" height="7.55" fill="#ffbc08"/>
<rect x="307.50" y="433.03" width="11.00" height="7.55" fill="#ffe600"/>
<rect x="131.50" y="439.79" width="11.80" height="7.55" fill="#ffcc00"/>
<rect x="142.50" y="439.79" width="11.80" height="7.55" fill="#ffe600"/>
<rect x="153.50" y="439.79" width="11.80" height="7.55" fill="#ffe600"/>
<rect x="164.50" y="439.79" width="11.80" height="7.55" fill="#c6c240"/>
<rect x="175.50" y="439.79" width="11.80" height="7.55" fill="#c6c240"/>
<rect x="186.50" y="439.79" width="11.80" height="7.55" fill="#ffcc00"/>
<rect x="197.50" y="439.79" width="11.80" height="7.55" fill="#ffe600"/>
<rect x="208.50" y="439.79" width="11.80" height="7.55" fill="#e8e828"/>
<rect x="219.50" y="439.79" width="11.80" height="7.55" fill="#c6c240"/>
<rect x="230.50" y="439.79" width="11.80" height="7.55" fill="#c6c240"/>
<rect x="241.50" y="439.79" width="11.80" height="7.55" fill="#c6c240"/>
<rect x="252.50" y="439.79" width="11.80" height="7.55" fill="#c6c240"/>
<rect x="263.50" y="439.79" width="11.80" height="7.55" fill="#ffbc08"/>
<rect x="274.50" y="439.79" width="11.80" height="7.55" fill="#ffbc08"/>
<rect x="285.50" y="439.79" width="11.80" height="7.55" fill="#ffbc08"/>
<rect x="296.50" y="439.79" width="11.80" height="7.55" fill="#ffa208"/>
<rect x="307.50" y="439.79" width="11.00" height="7.55" fill="#ffa208"/>
<rect x="131.50" y="446.55" width="11.80" height="7.55" fill="#ffa208"/>
<rect x="142.50" y="446.55" width="11.80" height="7.55" fill="#ffe600"/>
<rect x="153.50" y="446.55" width="11.80" height="7.55" fill="#ffe600"/>
<rect x="164.50" y="446.55" width="11.80" height="7.55" fill="#c6c240"/>
<rect x="175.50" y="446.55" width="11.80" height="7.55" fill="#e8e828"/>
<rect x="186.50" y="446.55" width="11.80" height="7.55" fill="#ffe600"/>
<rect x="197.50" y="446.55" width="11.80" height="7.55" fill="#ffe600"/>
<rect x="208.50" y="446.55" width="11.80" height="7.55" fill="#ffff00"/>
<rect x="219.50" y="446.55" width="11.80" height="7.55" fill="#c6c240"/>
<rect x="230.50" y="446.55" width="11.80" height="7.55" fill="#8c8884"/>
<rect x="241.50" y="446.55" width="11.80" height="7.55" fill="#2020e0"/>
<rect x="252.50" y="446.55" width="11.80" height="7.55" fill="#2020e0"/>
<rect x="263.50" y="446.55" width="11.80" height="7.55" fill="#ffa208"/>
<rect x="274.50" y="446.55" width="11.80" height="7.55" fill="#ffa208"/>
<rect x="285.50" y="446.55" width="11.80" height="7.55" fill="#ffa208"/>
<rect x="296.50" y="446.55" width="11.80" height="7.55" fill="#ffa208"/>
<rect x="307.50" y="446.55" width="11.00" height="7.55" fill="#ffa208"/>
<rect x="131.50" y="453.30" width="11.80" height="7.55" fill="#ffe600"/>
<rect x="142.50" y="453.30" width="11.80" height="7.55" fill="#e8e828"/>
<rect x="153.50" y="453.30" width="11.80" height="7.55" fill="#ffe600"/>
<rect x="164.50" y="453.30" width="11.80" height="7.55" fill="#ffe600"/>
<rect x="175.50" y="453.30" width="11.80" height="7.55" fill="#ffe600"/>
<rect x="186.50" y="453.30" width="11.80" height="7.55" fill="#e8e828"/>
<rect x="197.50" y="453.30" width="11.80" height="7.55" fill="#c6c240"/>
<rect x="208.50" y="453.30" width="11.80" height="7.55" fill="#c6c240"/>
<rect x="219.50" y="453.30" width="11.80" height="7.55" fill="#e8e828"/>
<rect x="230.50" y="453.30" width="11.80" height="7.55" fill="#e8e828"/>
<rect x="241.50" y="453.30" width="11.80" height="7.55" fill="#e8e828"/>
<rect x="252.50" y="453.30" width="11.80" height="7.55" fill="#e8e828"/>
<rect x="263.50" y="453.30" width="11.80" height="7.55" fill="#ffa208"/>
<rect x="274.50" y="453.30" width="11.80" height="7.55" fill="#ffa208"/>
<rect x="285.50" y="453.30" width="11.80" height="7.55" fill="#ffa208"/>
<rect x="296.50" y="453.30" width="11.80" height="7.55" fill="#ffa208"/>
<rect x="307.50" y="453.30" width="11.00" height="7.55" fill="#ffcc00"/>
<rect x="131.50" y="460.06" width="11.80" height="7.55" fill="#ffa208"/>
<rect x="142.50" y="460.06" width="11.80" height="7.55" fill="#ffa208"/>
<rect x="153.50" y="460.06" width="11.80" height="7.55" fill="#ffa208"/>
<rect x="164.50" y="460.06" width="11.80" height="7.55" fill="#ffa208"/>
<rect x="175.50" y="460.06" width="11.80" height="7.55" fill="#c6c240"/>
<rect x="186.50" y="460.06" width="11.80" height="7.55" fill="#8c8884"/>
<rect x="197.50" y="460.06" width="11.80" height="7.55" fill="#c6c240"/>
<rect x="208.50" y="460.06" width="11.80" height="7.55" fill="#a8a45c"/>
<rect x="219.50" y="460.06" width="11.80" height="7.55" fill="#a8a45c"/>
<rect x="230.50" y="460.06" width="11.80" height="7.55" fill="#8c8884"/>
<rect x="241.50" y="460.06" width="11.80" height="7.55" fill="#8c8884"/>
<rect x="252.50" y="460.06" width="11.80" height="7.55" fill="#5c5cb0"/>
<rect x="263.50" y="460.06" width="11.80" height="7.55" fill="#ff5214"/>
<rect x="274.50" y="460.06" width="11.80" height="7.55" fill="#ff8212"/>
<rect x="285.50" y="460.06" width="11.80" height="7.55" fill="#ff5214"/>
<rect x="296.50" y="460.06" width="11.80" height="7.55" fill="#ff5214"/>
<rect x="307.50" y="460.06" width="11.00" height="7.55" fill="#ff5214"/>
<rect x="131.50" y="466.81" width="11.80" height="7.55" fill="#ffcc00"/>
<rect x="142.50" y="466.81" width="11.80" height="7.55" fill="#ffe600"/>
<rect x="153.50" y="466.81" width="11.80" height="7.55" fill="#ffe600"/>
<rect x="164.50" y="466.81" width="11.80" height="7.55" fill="#ffe600"/>
<rect x="175.50" y="466.81" width="11.80" height="7.55" fill="#ffe600"/>
<rect x="186.50" y="466.81" width="11.80" height="7.55" fill="#a8a45c"/>
<rect x="197.50" y="466.81" width="11.80" height="7.55" fill="#c6c240"/>
<rect x="208.50" y="466.81" width="11.80" height="7.55" fill="#8c8884"/>
<rect x="219.50" y="466.81" width="11.80" height="7.55" fill="#5c5cb0"/>
<rect x="230.50" y="466.81" width="11.80" height="7.55" fill="#2020e0"/>
<rect x="241.50" y="466.81" width="11.80" height="7.55" fill="#2020e0"/>
<rect x="252.50" y="466.81" width="11.80" height="7.55" fill="#2020e0"/>
<rect x="263.50" y="466.81" width="11.80" height="7.55" fill="#ffbc08"/>
<rect x="274.50" y="466.81" width="11.80" height="7.55" fill="#ffa208"/>
<rect x="285.50" y="466.81" width="11.80" height="7.55" fill="#ff8212"/>
<rect x="296.50" y="466.81" width="11.80" height="7.55" fill="#ff8212"/>
<rect x="307.50" y="466.81" width="11.00" height="7.55" fill="#ffcc00"/>
<rect x="131.50" y="473.56" width="11.80" height="7.55" fill="#ffff00"/>
<rect x="142.50" y="473.56" width="11.80" height="7.55" fill="#ffcc00"/>
<rect x="153.50" y="473.56" width="11.80" height="7.55" fill="#ffff00"/>
<rect x="164.50" y="473.56" width="11.80" height="7.55" fill="#ffe600"/>
<rect x="175.50" y="473.56" width="11.80" height="7.55" fill="#ffa208"/>
<rect x="186.50" y="473.56" width="11.80" height="7.55" fill="#e8e828"/>
<rect x="197.50" y="473.56" width="11.80" height="7.55" fill="#e8e828"/>
<rect x="208.50" y="473.56" width="11.80" height="7.55" fill="#c6c240"/>
<rect x="219.50" y="473.56" width="11.80" height="7.55" fill="#a8a45c"/>
<rect x="230.50" y="473.56" width="11.80" height="7.55" fill="#5c5cb0"/>
<rect x="241.50" y="473.56" width="11.80" height="7.55" fill="#8c8884"/>
<rect x="252.50" y="473.56" width="11.80" height="7.55" fill="#2020e0"/>
<rect x="263.50" y="473.56" width="11.80" height="7.55" fill="#ffa208"/>
<rect x="274.50" y="473.56" width="11.80" height="7.55" fill="#ffa208"/>
<rect x="285.50" y="473.56" width="11.80" height="7.55" fill="#ffa208"/>
<rect x="296.50" y="473.56" width="11.80" height="7.55" fill="#ffa208"/>
<rect x="307.50" y="473.56" width="11.00" height="7.55" fill="#ffcc00"/>
<rect x="131.50" y="480.32" width="11.80" height="7.55" fill="#ffcc00"/>
<rect x="142.50" y="480.32" width="11.80" height="7.55" fill="#c6c240"/>
<rect x="153.50" y="480.32" width="11.80" height="7.55" fill="#ffcc00"/>
<rect x="164.50" y="480.32" width="11.80" height="7.55" fill="#ffff00"/>
<rect x="175.50" y="480.32" width="11.80" height="7.55" fill="#ffff00"/>
<rect x="186.50" y="480.32" width="11.80" height="7.55" fill="#ffe600"/>
<rect x="197.50" y="480.32" width="11.80" height="7.55" fill="#ffe600"/>
<rect x="208.50" y="480.32" width="11.80" height="7.55" fill="#ffff00"/>
<rect x="219.50" y="480.32" width="11.80" height="7.55" fill="#ffe600"/>
<rect x="230.50" y="480.32" width="11.80" height="7.55" fill="#8c8884"/>
<rect x="241.50" y="480.32" width="11.80" height="7.55" fill="#8c8884"/>
<rect x="252.50" y="480.32" width="11.80" height="7.55" fill="#8c8884"/>
<rect x="263.50" y="480.32" width="11.80" height="7.55" fill="#ffff00"/>
<rect x="274.50" y="480.32" width="11.80" height="7.55" fill="#ffbc08"/>
<rect x="285.50" y="480.32" width="11.80" height="7.55" fill="#ffbc08"/>
<rect x="296.50" y="480.32" width="11.80" height="7.55" fill="#ffa208"/>
<rect x="307.50" y="480.32" width="11.00" height="7.55" fill="#ffcc00"/>
<rect x="131.50" y="487.07" width="11.80" height="7.55" fill="#ffcc00"/>
<rect x="142.50" y="487.07" width="11.80" height="7.55" fill="#a8a45c"/>
<rect x="153.50" y="487.07" width="11.80" height="7.55" fill="#c6c240"/>
<rect x="164.50" y="487.07" width="11.80" height="7.55" fill="#a8a45c"/>
<rect x="175.50" y="487.07" width="11.80" height="7.55" fill="#ff8212"/>
<rect x="186.50" y="487.07" width="11.80" height="7.55" fill="#e8e828"/>
<rect x="197.50" y="487.07" width="11.80" height="7.55" fill="#ffff00"/>
<rect x="208.50" y="487.07" width="11.80" height="7.55" fill="#a8a45c"/>
<rect x="219.50" y="487.07" width="11.80" height="7.55" fill="#ffcc00"/>
<rect x="230.50" y="487.07" width="11.80" height="7.55" fill="#5c5cb0"/>
<rect x="241.50" y="487.07" width="11.80" height="7.55" fill="#5c5cb0"/>
<rect x="252.50" y="487.07" width="11.80" height="7.55" fill="#8c8884"/>
<rect x="263.50" y="487.07" width="11.80" height="7.55" fill="#ff8212"/>
<rect x="274.50" y="487.07" width="11.80" height="7.55" fill="#ff8212"/>
<rect x="285.50" y="487.07" width="11.80" height="7.55" fill="#ff5214"/>
<rect x="296.50" y="487.07" width="11.80" height="7.55" fill="#ff5214"/>
<rect x="307.50" y="487.07" width="11.00" height="7.55" fill="#ffa208"/>
<rect x="131.50" y="493.83" width="11.80" height="7.55" fill="#ffa208"/>
<rect x="142.50" y="493.83" width="11.80" height="7.55" fill="#ffa208"/>
<rect x="153.50" y="493.83" width="11.80" height="7.55" fill="#e8e828"/>
<rect x="164.50" y="493.83" width="11.80" height="7.55" fill="#a8a45c"/>
<rect x="175.50" y="493.83" width="11.80" height="7.55" fill="#ff5214"/>
<rect x="186.50" y="493.83" width="11.80" height="7.55" fill="#ffcc00"/>
<rect x="197.50" y="493.83" width="11.80" height="7.55" fill="#a8a45c"/>
<rect x="208.50" y="493.83" width="11.80" height="7.55" fill="#a8a45c"/>
<rect x="219.50" y="493.83" width="11.80" height="7.55" fill="#ff5214"/>
<rect x="230.50" y="493.83" width="11.80" height="7.55" fill="#c6c240"/>
<rect x="241.50" y="493.83" width="11.80" height="7.55" fill="#c6c240"/>
<rect x="252.50" y="493.83" width="11.80" height="7.55" fill="#c6c240"/>
<rect x="263.50" y="493.83" width="11.80" height="7.55" fill="#ffbc08"/>
<rect x="274.50" y="493.83" width="11.80" height="7.55" fill="#ff0a00"/>
<rect x="285.50" y="493.83" width="11.80" height="7.55" fill="#ff0a00"/>
<rect x="296.50" y="493.83" width="11.80" height="7.55" fill="#ff0a00"/>
<rect x="307.50" y="493.83" width="11.00" height="7.55" fill="#e8e828"/>
<rect x="131.50" y="500.58" width="11.80" height="7.55" fill="#c6c240"/>
<rect x="142.50" y="500.58" width="11.80" height="7.55" fill="#ffcc00"/>
<rect x="153.50" y="500.58" width="11.80" height="7.55" fill="#a8a45c"/>
<rect x="164.50" y="500.58" width="11.80" height="7.55" fill="#e8e828"/>
<rect x="175.50" y="500.58" width="11.80" height="7.55" fill="#ffcc00"/>
<rect x="186.50" y="500.58" width="11.80" height="7.55" fill="#ffff00"/>
<rect x="197.50" y="500.58" width="11.80" height="7.55" fill="#e8e828"/>
<rect x="208.50" y="500.58" width="11.80" height="7.55" fill="#ffe600"/>
<rect x="219.50" y="500.58" width="11.80" height="7.55" fill="#ffcc00"/>
<rect x="230.50" y="500.58" width="11.80" height="7.55" fill="#c6c240"/>
<rect x="241.50" y="500.58" width="11.80" height="7.55" fill="#8c8884"/>
<rect x="252.50" y="500.58" width="11.80" height="7.55" fill="#5c5cb0"/>
<rect x="263.50" y="500.58" width="11.80" height="7.55" fill="#ffbc08"/>
<rect x="274.50" y="500.58" width="11.80" height="7.55" fill="#ffa208"/>
<rect x="285.50" y="500.58" width="11.80" height="7.55" fill="#ffa208"/>
<rect x="296.50" y="500.58" width="11.80" height="7.55" fill="#ffbc08"/>
<rect x="307.50" y="500.58" width="11.00" height="7.55" fill="#8c8884"/>
<rect x="131.50" y="507.34" width="11.80" height="7.55" fill="#c6c240"/>
<rect x="142.50" y="507.34" width="11.80" height="7.55" fill="#a8a45c"/>
<rect x="153.50" y="507.34" width="11.80" height="7.55" fill="#ffff00"/>
<rect x="164.50" y="507.34" width="11.80" height="7.55" fill="#5c5cb0"/>
<rect x="175.50" y="507.34" width="11.80" height="7.55" fill="#8c8884"/>
<rect x="186.50" y="507.34" width="11.80" height="7.55" fill="#ffcc00"/>
<rect x="197.50" y="507.34" width="11.80" height="7.55" fill="#ffff00"/>
<rect x="208.50" y="507.34" width="11.80" height="7.55" fill="#ffe600"/>
<rect x="219.50" y="507.34" width="11.80" height="7.55" fill="#e8e828"/>
<rect x="230.50" y="507.34" width="11.80" height="7.55" fill="#ffff00"/>
<rect x="241.50" y="507.34" width="11.80" height="7.55" fill="#c6c240"/>
<rect x="252.50" y="507.34" width="11.80" height="7.55" fill="#c6c240"/>
<rect x="263.50" y="507.34" width="11.80" height="7.55" fill="#ffbc08"/>
<rect x="274.50" y="507.34" width="11.80" height="7.55" fill="#ffa208"/>
<rect x="285.50" y="507.34" width="11.80" height="7.55" fill="#ff8212"/>
<rect x="296.50" y="507.34" width="11.80" height="7.55" fill="#ffa208"/>
<rect x="307.50" y="507.34" width="11.00" height="7.55" fill="#ffcc00"/>
<rect x="131.50" y="514.10" width="11.80" height="7.55" fill="#e8e828"/>
<rect x="142.50" y="514.10" width="11.80" height="7.55" fill="#ffff00"/>
<rect x="153.50" y="514.10" width="11.80" height="7.55" fill="#e8e828"/>
<rect x="164.50" y="514.10" width="11.80" height="7.55" fill="#e8e828"/>
<rect x="175.50" y="514.10" width="11.80" height="7.55" fill="#a8a45c"/>
<rect x="186.50" y="514.10" width="11.80" height="7.55" fill="#ffff00"/>
<rect x="197.50" y="514.10" width="11.80" height="7.55" fill="#e8e828"/>
<rect x="208.50" y="514.10" width="11.80" height="7.55" fill="#ffe600"/>
<rect x="219.50" y="514.10" width="11.80" height="7.55" fill="#e8e828"/>
<rect x="230.50" y="514.10" width="11.80" height="7.55" fill="#ffff00"/>
<rect x="241.50" y="514.10" width="11.80" height="7.55" fill="#c6c240"/>
<rect x="252.50" y="514.10" width="11.80" height="7.55" fill="#c6c240"/>
<rect x="263.50" y="514.10" width="11.80" height="7.55" fill="#ffe600"/>
<rect x="274.50" y="514.10" width="11.80" height="7.55" fill="#ffa208"/>
<rect x="285.50" y="514.10" width="11.80" height="7.55" fill="#ffa208"/>
<rect x="296.50" y="514.10" width="11.80" height="7.55" fill="#ffbc08"/>
<rect x="307.50" y="514.10" width="11.00" height="7.55" fill="#ffff00"/>
<rect x="131.50" y="520.85" width="11.80" height="7.55" fill="#ffff00"/>
<rect x="142.50" y="520.85" width="11.80" height="7.55" fill="#ffff00"/>
<rect x="153.50" y="520.85" width="11.80" height="7.55" fill="#e8e828"/>
<rect x="164.50" y="520.85" width="11.80" height="7.55" fill="#a8a45c"/>
<rect x="175.50" y="520.85" width="11.80" height="7.55" fill="#8c8884"/>
<rect x="186.50" y="520.85" width="11.80" height="7.55" fill="#ffff00"/>
<rect x="197.50" y="520.85" width="11.80" height="7.55" fill="#ffe600"/>
<rect x="208.50" y="520.85" width="11.80" height="7.55" fill="#ffcc00"/>
<rect x="219.50" y="520.85" width="11.80" height="7.55" fill="#ffe600"/>
<rect x="230.50" y="520.85" width="11.80" height="7.55" fill="#ffff00"/>
<rect x="241.50" y="520.85" width="11.80" height="7.55" fill="#c6c240"/>
<rect x="252.50" y="520.85" width="11.80" height="7.55" fill="#a8a45c"/>
<rect x="263.50" y="520.85" width="11.80" height="7.55" fill="#ffbc08"/>
<rect x="274.50" y="520.85" width="11.80" height="7.55" fill="#ffa208"/>
<rect x="285.50" y="520.85" width="11.80" height="7.55" fill="#ff8212"/>
<rect x="296.50" y="520.85" width="11.80" height="7.55" fill="#ff8212"/>
<rect x="307.50" y="520.85" width="11.00" height="7.55" fill="#ffcc00"/>
<rect x="131.50" y="527.61" width="11.80" height="7.55" fill="#ff8212"/>
<rect x="142.50" y="527.61" width="11.80" height="7.55" fill="#a8a45c"/>
<rect x="153.50" y="527.61" width="11.80" height="7.55" fill="#ffcc00"/>
<rect x="164.50" y="527.61" width="11.80" height="7.55" fill="#5c5cb0"/>
<rect x="175.50" y="527.61" width="11.80" height="7.55" fill="#ffcc00"/>
<rect x="186.50" y="527.61" width="11.80" height="7.55" fill="#ffff00"/>
<rect x="197.50" y="527.61" width="11.80" height="7.55" fill="#ffcc00"/>
<rect x="208.50" y="527.61" width="11.80" height="7.55" fill="#e8e828"/>
<rect x="219.50" y="527.61" width="11.80" height="7.55" fill="#a8a45c"/>
<rect x="230.50" y="527.61" width="11.80" height="7.55" fill="#5c5cb0"/>
<rect x="241.50" y="527.61" width="11.80" height="7.55" fill="#5c5cb0"/>
<rect x="252.50" y="527.61" width="11.80" height="7.55" fill="#2020e0"/>
<rect x="263.50" y="527.61" width="11.80" height="7.55" fill="#ffa208"/>
<rect x="274.50" y="527.61" width="11.80" height="7.55" fill="#ff0a00"/>
<rect x="285.50" y="527.61" width="11.80" height="7.55" fill="#ff0a00"/>
<rect x="296.50" y="527.61" width="11.80" height="7.55" fill="#ff0a00"/>
<rect x="307.50" y="527.61" width="11.00" height="7.55" fill="#ff5214"/>
<rect x="131.50" y="534.36" width="11.80" height="7.55" fill="#e8e828"/>
<rect x="142.50" y="534.36" width="11.80" height="7.55" fill="#a8a45c"/>
<rect x="153.50" y="534.36" width="11.80" height="7.55" fill="#c6c240"/>
<rect x="164.50" y="534.36" width="11.80" height="7.55" fill="#ffff00"/>
<rect x="175.50" y="534.36" width="11.80" height="7.55" fill="#a8a45c"/>
<rect x="186.50" y="534.36" width="11.80" height="7.55" fill="#ffff00"/>
<rect x="197.50" y="534.36" width="11.80" height="7.55" fill="#ffa208"/>
<rect x="208.50" y="534.36" width="11.80" height="7.55" fill="#ffa208"/>
<rect x="219.50" y="534.36" width="11.80" height="7.55" fill="#c6c240"/>
<rect x="230.50" y="534.36" width="11.80" height="7.55" fill="#8c8884"/>
<rect x="241.50" y="534.36" width="11.80" height="7.55" fill="#5c5cb0"/>
<rect x="252.50" y="534.36" width="11.80" height="7.55" fill="#a8a45c"/>
<rect x="263.50" y="534.36" width="11.80" height="7.55" fill="#ffbc08"/>
<rect x="274.50" y="534.36" width="11.80" height="7.55" fill="#ff8212"/>
<rect x="285.50" y="534.36" width="11.80" height="7.55" fill="#ff8212"/>
<rect x="296.50" y="534.36" width="11.80" height="7.55" fill="#ff8212"/>
<rect x="307.50" y="534.36" width="11.00" height="7.55" fill="#ffcc00"/>
<rect x="131.50" y="541.12" width="11.80" height="7.55" fill="#c6c240"/>
<rect x="142.50" y="541.12" width="11.80" height="7.55" fill="#a8a45c"/>
<rect x="153.50" y="541.12" width="11.80" height="7.55" fill="#c6c240"/>
<rect x="164.50" y="541.12" width="11.80" height="7.55" fill="#c6c240"/>
<rect x="175.50" y="541.12" width="11.80" height="7.55" fill="#a8a45c"/>
<rect x="186.50" y="541.12" width="11.80" height="7.55" fill="#ffcc00"/>
<rect x="197.50" y="541.12" width="11.80" height="7.55" fill="#a8a45c"/>
<rect x="208.50" y="541.12" width="11.80" height="7.55" fill="#5c5cb0"/>
<rect x="219.50" y="541.12" width="11.80" height="7.55" fill="#ffcc00"/>
<rect x="230.50" y="541.12" width="11.80" height="7.55" fill="#ff8212"/>
<rect x="241.50" y="541.12" width="11.80" height="7.55" fill="#ffcc00"/>
<rect x="252.50" y="541.12" width="11.80" height="7.55" fill="#ffa208"/>
<rect x="263.50" y="541.12" width="11.80" height="7.55" fill="#ff5214"/>
<rect x="274.50" y="541.12" width="11.80" height="7.55" fill="#ff5214"/>
<rect x="285.50" y="541.12" width="11.80" height="7.55" fill="#ff5214"/>
<rect x="296.50" y="541.12" width="11.80" height="7.55" fill="#ff8212"/>
<rect x="307.50" y="541.12" width="11.00" height="7.55" fill="#5c5cb0"/>
<rect x="131.50" y="547.87" width="11.80" height="7.55" fill="#8c8884"/>
<rect x="142.50" y="547.87" width="11.80" height="7.55" fill="#ffe600"/>
<rect x="153.50" y="547.87" width="11.80" height="7.55" fill="#ffe600"/>
<rect x="164.50" y="547.87" width="11.80" height="7.55" fill="#c6c240"/>
<rect x="175.50" y="547.87" width="11.80" height="7.55" fill="#c6c240"/>
<rect x="186.50" y="547.87" width="11.80" height="7.55" fill="#ffff00"/>
<rect x="197.50" y="547.87" width="11.80" height="7.55" fill="#a8a45c"/>
<rect x="208.50" y="547.87" width="11.80" height="7.55" fill="#c6c240"/>
<rect x="219.50" y="547.87" width="11.80" height="7.55" fill="#c6c240"/>
<rect x="230.50" y="547.87" width="11.80" height="7.55" fill="#ff5214"/>
<rect x="241.50" y="547.87" width="11.80" height="7.55" fill="#ff5214"/>
<rect x="252.50" y="547.87" width="11.80" height="7.55" fill="#ff8212"/>
<rect x="263.50" y="547.87" width="11.80" height="7.55" fill="#ff0a00"/>
<rect x="274.50" y="547.87" width="11.80" height="7.55" fill="#ff0a00"/>
<rect x="285.50" y="547.87" width="11.80" height="7.55" fill="#ff0a00"/>
<rect x="296.50" y="547.87" width="11.80" height="7.55" fill="#ff5214"/>
<rect x="307.50" y="547.87" width="11.00" height="7.55" fill="#e8e828"/>
<rect x="131.50" y="554.62" width="11.80" height="7.55" fill="#5c5cb0"/>
<rect x="142.50" y="554.62" width="11.80" height="7.55" fill="#8c8884"/>
<rect x="153.50" y="554.62" width="11.80" height="7.55" fill="#5c5cb0"/>
<rect x="164.50" y="554.62" width="11.80" height="7.55" fill="#8c8884"/>
<rect x="175.50" y="554.62" width="11.80" height="7.55" fill="#c6c240"/>
<rect x="186.50" y="554.62" width="11.80" height="7.55" fill="#c6c240"/>
<rect x="197.50" y="554.62" width="11.80" height="7.55" fill="#5c5cb0"/>
<rect x="208.50" y="554.62" width="11.80" height="7.55" fill="#5c5cb0"/>
<rect x="219.50" y="554.62" width="11.80" height="7.55" fill="#ffe600"/>
<rect x="230.50" y="554.62" width="11.80" height="7.55" fill="#ff0a00"/>
<rect x="241.50" y="554.62" width="11.80" height="7.55" fill="#ff0a00"/>
<rect x="252.50" y="554.62" width="11.80" height="7.55" fill="#ff8212"/>
<rect x="263.50" y="554.62" width="11.80" height="7.55" fill="#ff0a00"/>
<rect x="274.50" y="554.62" width="11.80" height="7.55" fill="#ff0a00"/>
<rect x="285.50" y="554.62" width="11.80" height="7.55" fill="#ff0a00"/>
<rect x="296.50" y="554.62" width="11.80" height="7.55" fill="#ff5214"/>
<rect x="307.50" y="554.62" width="11.00" height="7.55" fill="#c6c240"/>
<rect x="131.50" y="561.38" width="11.80" height="7.55" fill="#8c8884"/>
<rect x="142.50" y="561.38" width="11.80" height="7.55" fill="#5c5cb0"/>
<rect x="153.50" y="561.38" width="11.80" height="7.55" fill="#8c8884"/>
<rect x="164.50" y="561.38" width="11.80" height="7.55" fill="#8c8884"/>
<rect x="175.50" y="561.38" width="11.80" height="7.55" fill="#8c8884"/>
<rect x="186.50" y="561.38" width="11.80" height="7.55" fill="#8c8884"/>
<rect x="197.50" y="561.38" width="11.80" height="7.55" fill="#e8e828"/>
<rect x="208.50" y="561.38" width="11.80" height="7.55" fill="#ffff00"/>
<rect x="219.50" y="561.38" width="11.80" height="7.55" fill="#ffe600"/>
<rect x="230.50" y="561.38" width="11.80" height="7.55" fill="#ff5214"/>
<rect x="241.50" y="561.38" width="11.80" height="7.55" fill="#ff5214"/>
<rect x="252.50" y="561.38" width="11.80" height="7.55" fill="#ff8212"/>
<rect x="263.50" y="561.38" width="11.80" height="7.55" fill="#ff0a00"/>
<rect x="274.50" y="561.38" width="11.80" height="7.55" fill="#ff0a00"/>
<rect x="285.50" y="561.38" width="11.80" height="7.55" fill="#ff0a00"/>
<rect x="296.50" y="561.38" width="11.80" height="7.55" fill="#ff5214"/>
<rect x="307.50" y="561.38" width="11.00" height="7.55" fill="#e8e828"/>
<rect x="131.50" y="568.13" width="11.80" height="7.55" fill="#2020e0"/>
<rect x="142.50" y="568.13" width="11.80" height="7.55" fill="#5c5cb0"/>
<rect x="153.50" y="568.13" width="11.80" height="7.55" fill="#2020e0"/>
<rect x="164.50" y="568.13" width="11.80" height="7.55" fill="#5c5cb0"/>
<rect x="175.50" y="568.13" width="11.80" height="7.55" fill="#c6c240"/>
<rect x="186.50" y="568.13" width="11.80" height="7.55" fill="#5c5cb0"/>
<rect x="197.50" y="568.13" width="11.80" height="7.55" fill="#ffff00"/>
<rect x="208.50" y="568.13" width="11.80" height="7.55" fill="#ffa208"/>
<rect x="219.50" y="568.13" width="11.80" height="7.55" fill="#ff8212"/>
<rect x="230.50" y="568.13" width="11.80" height="7.55" fill="#ff8212"/>
<rect x="241.50" y="568.13" width="11.80" height="7.55" fill="#ffa208"/>
<rect x="252.50" y="568.13" width="11.80" height="7.55" fill="#ffff00"/>
<rect x="263.50" y="568.13" width="11.80" height="7.55" fill="#ff0a00"/>
<rect x="274.50" y="568.13" width="11.80" height="7.55" fill="#ff0a00"/>
<rect x="285.50" y="568.13" width="11.80" height="7.55" fill="#ff0a00"/>
<rect x="296.50" y="568.13" width="11.80" height="7.55" fill="#ffa208"/>
<rect x="307.50" y="568.13" width="11.00" height="7.55" fill="#5c5cb0"/>
<rect x="131.50" y="574.89" width="11.80" height="7.55" fill="#8c8884"/>
<rect x="142.50" y="574.89" width="11.80" height="7.55" fill="#ffe600"/>
<rect x="153.50" y="574.89" width="11.80" height="7.55" fill="#c6c240"/>
<rect x="164.50" y="574.89" width="11.80" height="7.55" fill="#c6c240"/>
<rect x="175.50" y="574.89" width="11.80" height="7.55" fill="#ffe600"/>
<rect x="186.50" y="574.89" width="11.80" height="7.55" fill="#c6c240"/>
<rect x="197.50" y="574.89" width="11.80" height="7.55" fill="#8c8884"/>
<rect x="208.50" y="574.89" width="11.80" height="7.55" fill="#ffff00"/>
<rect x="219.50" y="574.89" width="11.80" height="7.55" fill="#ffcc00"/>
<rect x="230.50" y="574.89" width="11.80" height="7.55" fill="#ffcc00"/>
<rect x="241.50" y="574.89" width="11.80" height="7.55" fill="#ffff00"/>
<rect x="252.50" y="574.89" width="11.80" height="7.55" fill="#ffe600"/>
<rect x="263.50" y="574.89" width="11.80" height="7.55" fill="#ffa208"/>
<rect x="274.50" y="574.89" width="11.80" height="7.55" fill="#ffa208"/>
<rect x="285.50" y="574.89" width="11.80" height="7.55" fill="#ffa208"/>
<rect x="296.50" y="574.89" width="11.80" height="7.55" fill="#ffe600"/>
<rect x="307.50" y="574.89" width="11.00" height="7.55" fill="#5c5cb0"/>
<rect x="131.50" y="581.64" width="11.80" height="7.55" fill="#ffff00"/>
<rect x="142.50" y="581.64" width="11.80" height="7.55" fill="#a8a45c"/>
<rect x="153.50" y="581.64" width="11.80" height="7.55" fill="#ffff00"/>
<rect x="164.50" y="581.64" width="11.80" height="7.55" fill="#ffe600"/>
<rect x="175.50" y="581.64" width="11.80" height="7.55" fill="#ffff00"/>
<rect x="186.50" y="581.64" width="11.80" height="7.55" fill="#e8e828"/>
<rect x="197.50" y="581.64" width="11.80" height="7.55" fill="#e8e828"/>
<rect x="208.50" y="581.64" width="11.80" height="7.55" fill="#e8e828"/>
<rect x="219.50" y="581.64" width="11.80" height="7.55" fill="#e8e828"/>
<rect x="230.50" y="581.64" width="11.80" height="7.55" fill="#ffff00"/>
<rect x="241.50" y="581.64" width="11.80" height="7.55" fill="#c6c240"/>
<rect x="252.50" y="581.64" width="11.80" height="7.55" fill="#ffff00"/>
<rect x="263.50" y="581.64" width="11.80" height="7.55" fill="#ff8212"/>
<rect x="274.50" y="581.64" width="11.80" height="7.55" fill="#ff8212"/>
<rect x="285.50" y="581.64" width="11.80" height="7.55" fill="#ff8212"/>
<rect x="296.50" y="581.64" width="11.80" height="7.55" fill="#ffa208"/>
<rect x="307.50" y="581.64" width="11.00" height="7.55" fill="#ffcc00"/>
<rect x="131.50" y="588.40" width="11.80" height="7.55" fill="#a8a45c"/>
<rect x="142.50" y="588.40" width="11.80" height="7.55" fill="#a8a45c"/>
<rect x="153.50" y="588.40" width="11.80" height="7.55" fill="#a8a45c"/>
<rect x="164.50" y="588.40" width="11.80" height="7.55" fill="#8c8884"/>
<rect x="175.50" y="588.40" width="11.80" height="7.55" fill="#ffff00"/>
<rect x="186.50" y="588.40" width="11.80" height="7.55" fill="#a8a45c"/>
<rect x="197.50" y="588.40" width="11.80" height="7.55" fill="#ffe600"/>
<rect x="208.50" y="588.40" width="11.80" height="7.55" fill="#ffe600"/>
<rect x="219.50" y="588.40" width="11.80" height="7.55" fill="#a8a45c"/>
<rect x="230.50" y="588.40" width="11.80" height="7.55" fill="#ffff00"/>
<rect x="241.50" y="588.40" width="11.80" height="7.55" fill="#a8a45c"/>
<rect x="252.50" y="588.40" width="11.80" height="7.55" fill="#c6c240"/>
<rect x="263.50" y="588.40" width="11.80" height="7.55" fill="#ff5214"/>
<rect x="274.50" y="588.40" width="11.80" height="7.55" fill="#ff5214"/>
<rect x="285.50" y="588.40" width="11.80" height="7.55" fill="#ff5214"/>
<rect x="296.50" y="588.40" width="11.80" height="7.55" fill="#ff8212"/>
<rect x="307.50" y="588.40" width="11.00" height="7.55" fill="#ffcc00"/>
<rect x="131.50" y="595.15" width="11.80" height="7.55" fill="#c6c240"/>
<rect x="142.50" y="595.15" width="11.80" height="7.55" fill="#c6c240"/>
<rect x="153.50" y="595.15" width="11.80" height="7.55" fill="#ffff00"/>
<rect x="164.50" y="595.15" width="11.80" height="7.55" fill="#c6c240"/>
<rect x="175.50" y="595.15" width="11.80" height="7.55" fill="#e8e828"/>
<rect x="186.50" y="595.15" width="11.80" height="7.55" fill="#ffe600"/>
<rect x="197.50" y="595.15" width="11.80" height="7.55" fill="#ffff00"/>
<rect x="208.50" y="595.15" width="11.80" height="7.55" fill="#ffe600"/>
<rect x="219.50" y="595.15" width="11.80" height="7.55" fill="#ffe600"/>
<rect x="230.50" y="595.15" width="11.80" height="7.55" fill="#c6c240"/>
<rect x="241.50" y="595.15" width="11.80" height="7.55" fill="#c6c240"/>
<rect x="252.50" y="595.15" width="11.80" height="7.55" fill="#c6c240"/>
<rect x="263.50" y="595.15" width="11.80" height="7.55" fill="#ffa208"/>
<rect x="274.50" y="595.15" width="11.80" height="7.55" fill="#ff8212"/>
<rect x="285.50" y="595.15" width="11.80" height="7.55" fill="#ffa208"/>
<rect x="296.50" y="595.15" width="11.80" height="7.55" fill="#ff8212"/>
<rect x="307.50" y="595.15" width="11.00" height="7.55" fill="#ffcc00"/>
<rect x="131.50" y="601.91" width="11.80" height="7.55" fill="#ffa208"/>
<rect x="142.50" y="601.91" width="11.80" height="7.55" fill="#ffcc00"/>
<rect x="153.50" y="601.91" width="11.80" height="7.55" fill="#ffcc00"/>
<rect x="164.50" y="601.91" width="11.80" height="7.55" fill="#a8a45c"/>
<rect x="175.50" y="601.91" width="11.80" height="7.55" fill="#e8e828"/>
<rect x="186.50" y="601.91" width="11.80" height="7.55" fill="#e8e828"/>
<rect x="197.50" y="601.91" width="11.80" height="7.55" fill="#c6c240"/>
<rect x="208.50" y="601.91" width="11.80" height="7.55" fill="#5c5cb0"/>
<rect x="219.50" y="601.91" width="11.80" height="7.55" fill="#c6c240"/>
<rect x="230.50" y="601.91" width="11.80" height="7.55" fill="#5c5cb0"/>
<rect x="241.50" y="601.91" width="11.80" height="7.55" fill="#2020e0"/>
<rect x="252.50" y="601.91" width="11.80" height="7.55" fill="#2020e0"/>
<rect x="263.50" y="601.91" width="11.80" height="7.55" fill="#ff0a00"/>
<rect x="274.50" y="601.91" width="11.80" height="7.55" fill="#ff0a00"/>
<rect x="285.50" y="601.91" width="11.80" height="7.55" fill="#ff0a00"/>
<rect x="296.50" y="601.91" width="11.80" height="7.55" fill="#ff5214"/>
<rect x="307.50" y="601.91" width="11.00" height="7.55" fill="#ffa208"/>
<rect x="131.50" y="608.66" width="11.80" height="7.55" fill="#e8e828"/>
<rect x="142.50" y="608.66" width="11.80" height="7.55" fill="#ffcc00"/>
<rect x="153.50" y="608.66" width="11.80" height="7.55" fill="#ffcc00"/>
<rect x="164.50" y="608.66" width="11.80" height="7.55" fill="#ffcc00"/>
<rect x="175.50" y="608.66" width="11.80" height="7.55" fill="#c6c240"/>
<rect x="186.50" y="608.66" width="11.80" height="7.55" fill="#c6c240"/>
<rect x="197.50" y="608.66" width="11.80" height="7.55" fill="#e8e828"/>
<rect x="208.50" y="608.66" width="11.80" height="7.55" fill="#a8a45c"/>
<rect x="219.50" y="608.66" width="11.80" height="7.55" fill="#c6c240"/>
<rect x="230.50" y="608.66" width="11.80" height="7.55" fill="#8c8884"/>
<rect x="241.50" y="608.66" width="11.80" height="7.55" fill="#8c8884"/>
<rect x="252.50" y="608.66" width="11.80" height="7.55" fill="#a8a45c"/>
<rect x="263.50" y="608.66" width="11.80" height="7.55" fill="#ff5214"/>
<rect x="274.50" y="608.66" width="11.80" height="7.55" fill="#ff5214"/>
<rect x="285.50" y="608.66" width="11.80" height="7.55" fill="#ff5214"/>
<rect x="296.50" y="608.66" width="11.80" height="7.55" fill="#ff8212"/>
<rect x="307.50" y="608.66" width="11.00" height="7.55" fill="#ffcc00"/>
<rect x="131.50" y="615.42" width="11.80" height="7.55" fill="#a8a45c"/>
<rect x="142.50" y="615.42" width="11.80" height="7.55" fill="#8c8884"/>
<rect x="153.50" y="615.42" width="11.80" height="7.55" fill="#c6c240"/>
<rect x="164.50" y="615.42" width="11.80" height="7.55" fill="#c6c240"/>
<rect x="175.50" y="615.42" width="11.80" height="7.55" fill="#e8e828"/>
<rect x="186.50" y="615.42" width="11.80" height="7.55" fill="#ffcc00"/>
<rect x="197.50" y="615.42" width="11.80" height="7.55" fill="#ffcc00"/>
<rect x="208.50" y="615.42" width="11.80" height="7.55" fill="#ffcc00"/>
<rect x="219.50" y="615.42" width="11.80" height="7.55" fill="#ffa208"/>
<rect x="230.50" y="615.42" width="11.80" height="7.55" fill="#a8a45c"/>
<rect x="241.50" y="615.42" width="11.80" height="7.55" fill="#a8a45c"/>
<rect x="252.50" y="615.42" width="11.80" height="7.55" fill="#c6c240"/>
<rect x="263.50" y="615.42" width="11.80" height="7.55" fill="#ff5214"/>
<rect x="274.50" y="615.42" width="11.80" height="7.55" fill="#ff5214"/>
<rect x="285.50" y="615.42" width="11.80" height="7.55" fill="#ff5214"/>
<rect x="296.50" y="615.42" width="11.80" height="7.55" fill="#ff8212"/>
<rect x="307.50" y="615.42" width="11.00" height="7.55" fill="#e8e828"/>
<rect x="131.50" y="622.17" width="11.80" height="7.55" fill="#8c8884"/>
<rect x="142.50" y="622.17" width="11.80" height="7.55" fill="#8c8884"/>
<rect x="153.50" y="622.17" width="11.80" height="7.55" fill="#c6c240"/>
<rect x="164.50" y="622.17" width="11.80" height="7.55" fill="#5c5cb0"/>
<rect x="175.50" y="622.17" width="11.80" height="7.55" fill="#8c8884"/>
<rect x="186.50" y="622.17" width="11.80" height="7.55" fill="#ffa208"/>
<rect x="197.50" y="622.17" width="11.80" height="7.55" fill="#ff8212"/>
<rect x="208.50" y="622.17" width="11.80" height="7.55" fill="#ffa208"/>
<rect x="219.50" y="622.17" width="11.80" height="7.55" fill="#ff8212"/>
<rect x="230.50" y="622.17" width="11.80" height="7.55" fill="#5c5cb0"/>
<rect x="241.50" y="622.17" width="11.80" height="7.55" fill="#5c5cb0"/>
<rect x="252.50" y="622.17" width="11.80" height="7.55" fill="#2020e0"/>
<rect x="263.50" y="622.17" width="11.80" height="7.55" fill="#ff5214"/>
<rect x="274.50" y="622.17" width="11.80" height="7.55" fill="#ff0a00"/>
<rect x="285.50" y="622.17" width="11.80" height="7.55" fill="#ff0a00"/>
<rect x="296.50" y="622.17" width="11.80" height="7.55" fill="#ff5214"/>
<rect x="307.50" y="622.17" width="11.00" height="7.55" fill="#e8e828"/>
<rect x="131.50" y="628.93" width="11.80" height="7.55" fill="#c6c240"/>
<rect x="142.50" y="628.93" width="11.80" height="7.55" fill="#c6c240"/>
<rect x="153.50" y="628.93" width="11.80" height="7.55" fill="#e8e828"/>
<rect x="164.50" y="628.93" width="11.80" height="7.55" fill="#ffff00"/>
<rect x="175.50" y="628.93" width="11.80" height="7.55" fill="#c6c240"/>
<rect x="186.50" y="628.93" width="11.80" height="7.55" fill="#a8a45c"/>
<rect x="197.50" y="628.93" width="11.80" height="7.55" fill="#ffff00"/>
<rect x="208.50" y="628.93" width="11.80" height="7.55" fill="#ffe600"/>
<rect x="219.50" y="628.93" width="11.80" height="7.55" fill="#ffcc00"/>
<rect x="230.50" y="628.93" width="11.80" height="7.55" fill="#ffcc00"/>
<rect x="241.50" y="628.93" width="11.80" height="7.55" fill="#e8e828"/>
<rect x="252.50" y="628.93" width="11.80" height="7.55" fill="#8c8884"/>
<rect x="263.50" y="628.93" width="11.80" height="7.55" fill="#ffa208"/>
<rect x="274.50" y="628.93" width="11.80" height="7.55" fill="#ffa208"/>
<rect x="285.50" y="628.93" width="11.80" height="7.55" fill="#ffa208"/>
<rect x="296.50" y="628.93" width="11.80" height="7.55" fill="#ffa208"/>
<rect x="307.50" y="628.93" width="11.00" height="7.55" fill="#e8e828"/>
<rect x="131.50" y="635.68" width="11.80" height="7.55" fill="#ffcc00"/>
<rect x="142.50" y="635.68" width="11.80" height="7.55" fill="#c6c240"/>
<rect x="153.50" y="635.68" width="11.80" height="7.55" fill="#e8e828"/>
<rect x="164.50" y="635.68" width="11.80" height="7.55" fill="#8c8884"/>
<rect x="175.50" y="635.68" width="11.80" height="7.55" fill="#8c8884"/>
<rect x="186.50" y="635.68" width="11.80" height="7.55" fill="#e8e828"/>
<rect x="197.50" y="635.68" width="11.80" height="7.55" fill="#ffff00"/>
<rect x="208.50" y="635.68" width="11.80" height="7.55" fill="#ffff00"/>
<rect x="219.50" y="635.68" width="11.80" height="7.55" fill="#ffff00"/>
<rect x="230.50" y="635.68" width="11.80" height="7.55" fill="#e8e828"/>
<rect x="241.50" y="635.68" width="11.80" height="7.55" fill="#a8a45c"/>
<rect x="252.50" y="635.68" width="11.80" height="7.55" fill="#ffff00"/>
<rect x="263.50" y="635.68" width="11.80" height="7.55" fill="#ff8212"/>
<rect x="274.50" y="635.68" width="11.80" height="7.55" fill="#ffa208"/>
<rect x="285.50" y="635.68" width="11.80" height="7.55" fill="#ffa208"/>
<rect x="296.50" y="635.68" width="11.80" height="7.55" fill="#ffa208"/>
<rect x="307.50" y="635.68" width="11.00" height="7.55" fill="#ffcc00"/>
<rect x="131.50" y="642.44" width="11.80" height="7.55" fill="#a8a45c"/>
<rect x="142.50" y="642.44" width="11.80" height="7.55" fill="#8c8884"/>
<rect x="153.50" y="642.44" width="11.80" height="7.55" fill="#a8a45c"/>
<rect x="164.50" y="642.44" width="11.80" height="7.55" fill="#5c5cb0"/>
<rect x="175.50" y="642.44" width="11.80" height="7.55" fill="#5c5cb0"/>
<rect x="186.50" y="642.44" width="11.80" height="7.55" fill="#a8a45c"/>
<rect x="197.50" y="642.44" width="11.80" height="7.55" fill="#e8e828"/>
<rect x="208.50" y="642.44" width="11.80" height="7.55" fill="#ffcc00"/>
<rect x="219.50" y="642.44" width="11.80" height="7.55" fill="#ffa208"/>
<rect x="230.50" y="642.44" width="11.80" height="7.55" fill="#ffcc00"/>
<rect x="241.50" y="642.44" width="11.80" height="7.55" fill="#ffe600"/>
<rect x="252.50" y="642.44" width="11.80" height="7.55" fill="#e8e828"/>
<rect x="263.50" y="642.44" width="11.80" height="7.55" fill="#ff5214"/>
<rect x="274.50" y="642.44" width="11.80" height="7.55" fill="#ff5214"/>
<rect x="285.50" y="642.44" width="11.80" height="7.55" fill="#ff8212"/>
<rect x="296.50" y="642.44" width="11.80" height="7.55" fill="#ff8212"/>
<rect x="307.50" y="642.44" width="11.00" height="7.55" fill="#e8e828"/>
<rect x="131.50" y="649.19" width="11.80" height="7.55" fill="#c6c240"/>
<rect x="142.50" y="649.19" width="11.80" height="7.55" fill="#c6c240"/>
<rect x="153.50" y="649.19" width="11.80" height="7.55" fill="#e8e828"/>
<rect x="164.50" y="649.19" width="11.80" height="7.55" fill="#c6c240"/>
<rect x="175.50" y="649.19" width="11.80" height="7.55" fill="#c6c240"/>
<rect x="186.50" y="649.19" width="11.80" height="7.55" fill="#c6c240"/>
<rect x="197.50" y="649.19" width="11.80" height="7.55" fill="#ffe600"/>
<rect x="208.50" y="649.19" width="11.80" height="7.55" fill="#ffcc00"/>
<rect x="219.50" y="649.19" width="11.80" height="7.55" fill="#ffcc00"/>
<rect x="230.50" y="649.19" width="11.80" height="7.55" fill="#ffff00"/>
<rect x="241.50" y="649.19" width="11.80" height="7.55" fill="#e8e828"/>
<rect x="252.50" y="649.19" width="11.80" height="7.55" fill="#e8e828"/>
<rect x="263.50" y="649.19" width="11.80" height="7.55" fill="#ff8212"/>
<rect x="274.50" y="649.19" width="11.80" height="7.55" fill="#ff8212"/>
<rect x="285.50" y="649.19" width="11.80" height="7.55" fill="#ff8212"/>
<rect x="296.50" y="649.19" width="11.80" height="7.55" fill="#ffa208"/>
<rect x="307.50" y="649.19" width="11.00" height="7.55" fill="#ffcc00"/>
<rect x="131.50" y="655.95" width="11.80" height="7.55" fill="#e8e828"/>
<rect x="142.50" y="655.95" width="11.80" height="7.55" fill="#8c8884"/>
<rect x="153.50" y="655.95" width="11.80" height="7.55" fill="#c6c240"/>
<rect x="164.50" y="655.95" width="11.80" height="7.55" fill="#5c5cb0"/>
<rect x="175.50" y="655.95" width="11.80" height="7.55" fill="#e8e828"/>
<rect x="186.50" y="655.95" width="11.80" height="7.55" fill="#a8a45c"/>
<rect x="197.50" y="655.95" width="11.80" height="7.55" fill="#c6c240"/>
<rect x="208.50" y="655.95" width="11.80" height="7.55" fill="#8c8884"/>
<rect x="219.50" y="655.95" width="11.80" height="7.55" fill="#a8a45c"/>
<rect x="230.50" y="655.95" width="11.80" height="7.55" fill="#ffcc00"/>
<rect x="241.50" y="655.95" width="11.80" height="7.55" fill="#ffcc00"/>
<rect x="252.50" y="655.95" width="11.80" height="7.55" fill="#ffcc00"/>
<rect x="263.50" y="655.95" width="11.80" height="7.55" fill="#ff5214"/>
<rect x="274.50" y="655.95" width="11.80" height="7.55" fill="#ff5214"/>
<rect x="285.50" y="655.95" width="11.80" height="7.55" fill="#ff5214"/>
<rect x="296.50" y="655.95" width="11.80" height="7.55" fill="#ff5214"/>
<rect x="307.50" y="655.95" width="11.00" height="7.55" fill="#ffcc00"/>
<rect x="131.50" y="662.71" width="11.80" height="7.55" fill="#c6c240"/>
<rect x="142.50" y="662.71" width="11.80" height="7.55" fill="#ffcc00"/>
<rect x="153.50" y="662.71" width="11.80" height="7.55" fill="#ffcc00"/>
<rect x="164.50" y="662.71" width="11.80" height="7.55" fill="#ffe600"/>
<rect x="175.50" y="662.71" width="11.80" height="7.55" fill="#ffe600"/>
<rect x="186.50" y="662.71" width="11.80" height="7.55" fill="#ffff00"/>
<rect x="197.50" y="662.71" width="11.80" height="7.55" fill="#ffff00"/>
<rect x="208.50" y="662.71" width="11.80" height="7.55" fill="#8c8884"/>
<rect x="219.50" y="662.71" width="11.80" height="7.55" fill="#ffe600"/>
<rect x="230.50" y="662.71" width="11.80" height="7.55" fill="#e8e828"/>
<rect x="241.50" y="662.71" width="11.80" height="7.55" fill="#c6c240"/>
<rect x="252.50" y="662.71" width="11.80" height="7.55" fill="#a8a45c"/>
<rect x="263.50" y="662.71" width="11.80" height="7.55" fill="#ff0a00"/>
<rect x="274.50" y="662.71" width="11.80" height="7.55" fill="#ff0a00"/>
<rect x="285.50" y="662.71" width="11.80" height="7.55" fill="#ff0a00"/>
<rect x="296.50" y="662.71" width="11.80" height="7.55" fill="#ff0a00"/>
<rect x="307.50" y="662.71" width="11.00" height="7.55" fill="#c6c240"/>
<rect x="131.50" y="669.46" width="11.80" height="7.55" fill="#c6c240"/>
<rect x="142.50" y="669.46" width="11.80" height="7.55" fill="#ffff00"/>
<rect x="153.50" y="669.46" width="11.80" height="7.55" fill="#ffe600"/>
<rect x="164.50" y="669.46" width="11.80" height="7.55" fill="#a8a45c"/>
<rect x="175.50" y="669.46" width="11.80" height="7.55" fill="#ffe600"/>
<rect x="186.50" y="669.46" width="11.80" height="7.55" fill="#c6c240"/>
<rect x="197.50" y="669.46" width="11.80" height="7.55" fill="#a8a45c"/>
<rect x="208.50" y="669.46" width="11.80" height="7.55" fill="#c6c240"/>
<rect x="219.50" y="669.46" width="11.80" height="7.55" fill="#ffcc00"/>
<rect x="230.50" y="669.46" width="11.80" height="7.55" fill="#e8e828"/>
<rect x="241.50" y="669.46" width="11.80" height="7.55" fill="#ffff00"/>
<rect x="252.50" y="669.46" width="11.80" height="7.55" fill="#ffcc00"/>
<rect x="263.50" y="669.46" width="11.80" height="7.55" fill="#ff8212"/>
<rect x="274.50" y="669.46" width="11.80" height="7.55" fill="#ff8212"/>
<rect x="285.50" y="669.46" width="11.80" height="7.55" fill="#ff8212"/>
<rect x="296.50" y="669.46" width="11.80" height="7.55" fill="#ff8212"/>
<rect x="307.50" y="669.46" width="11.00" height="7.55" fill="#a8a45c"/>
<rect x="131.50" y="676.22" width="11.80" height="7.55" fill="#c6c240"/>
<rect x="142.50" y="676.22" width="11.80" height="7.55" fill="#e8e828"/>
<rect x="153.50" y="676.22" width="11.80" height="7.55" fill="#a8a45c"/>
<rect x="164.50" y="676.22" width="11.80" height="7.55" fill="#c6c240"/>
<rect x="175.50" y="676.22" width="11.80" height="7.55" fill="#ffff00"/>
<rect x="186.50" y="676.22" width="11.80" height="7.55" fill="#ffe600"/>
<rect x="197.50" y="676.22" width="11.80" height="7.55" fill="#c6c240"/>
<rect x="208.50" y="676.22" width="11.80" height="7.55" fill="#e8e828"/>
<rect x="219.50" y="676.22" width="11.80" height="7.55" fill="#ffe600"/>
<rect x="230.50" y="676.22" width="11.80" height="7.55" fill="#ffe600"/>
<rect x="241.50" y="676.22" width="11.80" height="7.55" fill="#ffff00"/>
<rect x="252.50" y="676.22" width="11.80" height="7.55" fill="#e8e828"/>
<rect x="263.50" y="676.22" width="11.80" height="7.55" fill="#ffa208"/>
<rect x="274.50" y="676.22" width="11.80" height="7.55" fill="#ffa208"/>
<rect x="285.50" y="676.22" width="11.80" height="7.55" fill="#ffa208"/>
<rect x="296.50" y="676.22" width="11.80" height="7.55" fill="#ffa208"/>
<rect x="307.50" y="676.22" width="11.00" height="7.55" fill="#a8a45c"/>
<rect x="131.50" y="682.97" width="11.80" height="7.55" fill="#a8a45c"/>
<rect x="142.50" y="682.97" width="11.80" height="7.55" fill="#c6c240"/>
<rect x="153.50" y="682.97" width="11.80" height="7.55" fill="#a8a45c"/>
<rect x="164.50" y="682.97" width="11.80" height="7.55" fill="#e8e828"/>
<rect x="175.50" y="682.97" width="11.80" height="7.55" fill="#ffcc00"/>
<rect x="186.50" y="682.97" width="11.80" height="7.55" fill="#e8e828"/>
<rect x="197.50" y="682.97" width="11.80" height="7.55" fill="#a8a45c"/>
<rect x="208.50" y="682.97" width="11.80" height="7.55" fill="#ffcc00"/>
<rect x="219.50" y="682.97" width="11.80" height="7.55" fill="#ffa208"/>
<rect x="230.50" y="682.97" width="11.80" height="7.55" fill="#ffcc00"/>
<rect x="241.50" y="682.97" width="11.80" height="7.55" fill="#e8e828"/>
<rect x="252.50" y="682.97" width="11.80" height="7.55" fill="#8c8884"/>
<rect x="263.50" y="682.97" width="11.80" height="7.55" fill="#ff8212"/>
<rect x="274.50" y="682.97" width="11.80" height="7.55" fill="#ff8212"/>
<rect x="285.50" y="682.97" width="11.80" height="7.55" fill="#ff8212"/>
<rect x="296.50" y="682.97" width="11.80" height="7.55" fill="#ff8212"/>
<rect x="307.50" y="682.97" width="11.00" height="7.55" fill="#ffcc00"/>
<rect x="131.50" y="689.73" width="11.80" height="7.55" fill="#ffff00"/>
<rect x="142.50" y="689.73" width="11.80" height="7.55" fill="#8c8884"/>
<rect x="153.50" y="689.73" width="11.80" height="7.55" fill="#c6c240"/>
<rect x="164.50" y="689.73" width="11.80" height="7.55" fill="#a8a45c"/>
<rect x="175.50" y="689.73" width="11.80" height="7.55" fill="#a8a45c"/>
<rect x="186.50" y="689.73" width="11.80" height="7.55" fill="#a8a45c"/>
<rect x="197.50" y="689.73" width="11.80" height="7.55" fill="#e8e828"/>
<rect x="208.50" y="689.73" width="11.80" height="7.55" fill="#ffff00"/>
<rect x="219.50" y="689.73" width="11.80" height="7.55" fill="#ffcc00"/>
<rect x="230.50" y="689.73" width="11.80" height="7.55" fill="#ffa208"/>
<rect x="241.50" y="689.73" width="11.80" height="7.55" fill="#ffa208"/>
<rect x="252.50" y="689.73" width="11.80" height="7.55" fill="#ffcc00"/>
<rect x="263.50" y="689.73" width="11.80" height="7.55" fill="#ff8212"/>
<rect x="274.50" y="689.73" width="11.80" height="7.55" fill="#ff8212"/>
<rect x="285.50" y="689.73" width="11.80" height="7.55" fill="#ff8212"/>
<rect x="296.50" y="689.73" width="11.80" height="7.55" fill="#ff8212"/>
<rect x="307.50" y="689.73" width="11.00" height="7.55" fill="#c6c240"/>
<rect x="131.50" y="696.48" width="11.80" height="7.55" fill="#ffff00"/>
<rect x="142.50" y="696.48" width="11.80" height="7.55" fill="#ffe600"/>
<rect x="153.50" y="696.48" width="11.80" height="7.55" fill="#ffe600"/>
<rect x="164.50" y="696.48" width="11.80" height="7.55" fill="#a8a45c"/>
<rect x="175.50" y="696.48" width="11.80" height="7.55" fill="#5c5cb0"/>
<rect x="186.50" y="696.48" width="11.80" height="7.55" fill="#c6c240"/>
<rect x="197.50" y="696.48" width="11.80" height="7.55" fill="#c6c240"/>
<rect x="208.50" y="696.48" width="11.80" height="7.55" fill="#ffe600"/>
<rect x="219.50" y="696.48" width="11.80" height="7.55" fill="#c6c240"/>
<rect x="230.50" y="696.48" width="11.80" height="7.55" fill="#ffcc00"/>
<rect x="241.50" y="696.48" width="11.80" height="7.55" fill="#e8e828"/>
<rect x="252.50" y="696.48" width="11.80" height="7.55" fill="#ffff00"/>
<rect x="263.50" y="696.48" width="11.80" height="7.55" fill="#ffbc08"/>
<rect x="274.50" y="696.48" width="11.80" height="7.55" fill="#ff8212"/>
<rect x="285.50" y="696.48" width="11.80" height="7.55" fill="#ff8212"/>
<rect x="296.50" y="696.48" width="11.80" height="7.55" fill="#ffbc08"/>
<rect x="307.50" y="696.48" width="11.00" height="7.55" fill="#ffcc00"/>
<rect x="131.50" y="703.24" width="11.80" height="7.55" fill="#ffcc00"/>
<rect x="142.50" y="703.24" width="11.80" height="7.55" fill="#ffcc00"/>
<rect x="153.50" y="703.24" width="11.80" height="7.55" fill="#ffa208"/>
<rect x="164.50" y="703.24" width="11.80" height="7.55" fill="#ffff00"/>
<rect x="175.50" y="703.24" width="11.80" height="7.55" fill="#c6c240"/>
<rect x="186.50" y="703.24" width="11.80" height="7.55" fill="#ffe600"/>
<rect x="197.50" y="703.24" width="11.80" height="7.55" fill="#ffe600"/>
<rect x="208.50" y="703.24" width="11.80" height="7.55" fill="#ffff00"/>
<rect x="219.50" y="703.24" width="11.80" height="7.55" fill="#a8a45c"/>
<rect x="230.50" y="703.24" width="11.80" height="7.55" fill="#5c5cb0"/>
<rect x="241.50" y="703.24" width="11.80" height="7.55" fill="#5c5cb0"/>
<rect x="252.50" y="703.24" width="11.80" height="7.55" fill="#5c5cb0"/>
<rect x="263.50" y="703.24" width="11.80" height="7.55" fill="#e8e828"/>
<rect x="274.50" y="703.24" width="11.80" height="7.55" fill="#ffa208"/>
<rect x="285.50" y="703.24" width="11.80" height="7.55" fill="#ffa208"/>
<rect x="296.50" y="703.24" width="11.80" height="7.55" fill="#ff5214"/>
<rect x="307.50" y="703.24" width="11.00" height="7.55" fill="#ffcc00"/>
<rect x="131.50" y="709.99" width="11.80" height="7.55" fill="#ffcc00"/>
<rect x="142.50" y="709.99" width="11.80" height="7.55" fill="#ffe600"/>
<rect x="153.50" y="709.99" width="11.80" height="7.55" fill="#ffa208"/>
<rect x="164.50" y="709.99" width="11.80" height="7.55" fill="#ffe600"/>
<rect x="175.50" y="709.99" width="11.80" height="7.55" fill="#c6c240"/>
<rect x="186.50" y="709.99" width="11.80" height="7.55" fill="#ffcc00"/>
<rect x="197.50" y="709.99" width="11.80" height="7.55" fill="#ffe600"/>
<rect x="208.50" y="709.99" width="11.80" height="7.55" fill="#ffcc00"/>
<rect x="219.50" y="709.99" width="11.80" height="7.55" fill="#e8e828"/>
<rect x="230.50" y="709.99" width="11.80" height="7.55" fill="#2020e0"/>
<rect x="241.50" y="709.99" width="11.80" height="7.55" fill="#2020e0"/>
<rect x="252.50" y="709.99" width="11.80" height="7.55" fill="#2020e0"/>
<rect x="263.50" y="709.99" width="11.80" height="7.55" fill="#5c5cb0"/>
<rect x="274.50" y="709.99" width="11.80" height="7.55" fill="#ffff00"/>
<rect x="285.50" y="709.99" width="11.80" height="7.55" fill="#ffa208"/>
<rect x="296.50" y="709.99" width="11.80" height="7.55" fill="#ff5214"/>
<rect x="307.50" y="709.99" width="11.00" height="7.55" fill="#ffa208"/>
<rect x="131.50" y="716.75" width="11.80" height="7.55" fill="#ffcc00"/>
<rect x="142.50" y="716.75" width="11.80" height="7.55" fill="#e8e828"/>
<rect x="153.50" y="716.75" width="11.80" height="7.55" fill="#ffcc00"/>
<rect x="164.50" y="716.75" width="11.80" height="7.55" fill="#c6c240"/>
<rect x="175.50" y="716.75" width="11.80" height="7.55" fill="#c6c240"/>
<rect x="186.50" y="716.75" width="11.80" height="7.55" fill="#ffcc00"/>
<rect x="197.50" y="716.75" width="11.80" height="7.55" fill="#ffcc00"/>
<rect x="208.50" y="716.75" width="11.80" height="7.55" fill="#ffcc00"/>
<rect x="219.50" y="716.75" width="11.80" height="7.55" fill="#ffcc00"/>
<rect x="230.50" y="716.75" width="11.80" height="7.55" fill="#8c8884"/>
<rect x="241.50" y="716.75" width="11.80" height="7.55" fill="#5c5cb0"/>
<rect x="252.50" y="716.75" width="11.80" height="7.55" fill="#5c5cb0"/>
<rect x="263.50" y="716.75" width="11.80" height="7.55" fill="#a8a45c"/>
<rect x="274.50" y="716.75" width="11.80" height="7.55" fill="#ffbc08"/>
<rect x="285.50" y="716.75" width="11.80" height="7.55" fill="#ffa208"/>
<rect x="296.50" y="716.75" width="11.80" height="7.55" fill="#ff5214"/>
<rect x="307.50" y="716.75" width="11.00" height="7.55" fill="#ffa208"/>
<rect x="131.50" y="723.50" width="11.80" height="7.55" fill="#ffcc00"/>
<rect x="142.50" y="723.50" width="11.80" height="7.55" fill="#e8e828"/>
<rect x="153.50" y="723.50" width="11.80" height="7.55" fill="#ffff00"/>
<rect x="164.50" y="723.50" width="11.80" height="7.55" fill="#c6c240"/>
<rect x="175.50" y="723.50" width="11.80" height="7.55" fill="#c6c240"/>
<rect x="186.50" y="723.50" width="11.80" height="7.55" fill="#ffff00"/>
<rect x="197.50" y="723.50" width="11.80" height="7.55" fill="#ffcc00"/>
<rect x="208.50" y="723.50" width="11.80" height="7.55" fill="#ffcc00"/>
<rect x="219.50" y="723.50" width="11.80" height="7.55" fill="#ffe600"/>
<rect x="230.50" y="723.50" width="11.80" height="7.55" fill="#5c5cb0"/>
<rect x="241.50" y="723.50" width="11.80" height="7.55" fill="#5c5cb0"/>
<rect x="252.50" y="723.50" width="11.80" height="7.55" fill="#2020e0"/>
<rect x="263.50" y="723.50" width="11.80" height="7.55" fill="#c6c240"/>
<rect x="274.50" y="723.50" width="11.80" height="7.55" fill="#ffbc08"/>
<rect x="285.50" y="723.50" width="11.80" height="7.55" fill="#ffa208"/>
<rect x="296.50" y="723.50" width="11.80" height="7.55" fill="#ff5214"/>
<rect x="307.50" y="723.50" width="11.00" height="7.55" fill="#ffcc00"/>
<rect x="131.50" y="730.25" width="11.80" height="7.55" fill="#c6c240"/>
<rect x="142.50" y="730.25" width="11.80" height="7.55" fill="#5c5cb0"/>
<rect x="153.50" y="730.25" width="11.80" height="7.55" fill="#a8a45c"/>
<rect x="164.50" y="730.25" width="11.80" height="7.55" fill="#ffff00"/>
<rect x="175.50" y="730.25" width="11.80" height="7.55" fill="#ffe600"/>
<rect x="186.50" y="730.25" width="11.80" height="7.55" fill="#e8e828"/>
<rect x="197.50" y="730.25" width="11.80" height="7.55" fill="#ffff00"/>
<rect x="208.50" y="730.25" width="11.80" height="7.55" fill="#ffe600"/>
<rect x="219.50" y="730.25" width="11.80" height="7.55" fill="#ffe600"/>
<rect x="230.50" y="730.25" width="11.80" height="7.55" fill="#c6c240"/>
<rect x="241.50" y="730.25" width="11.80" height="7.55" fill="#c6c240"/>
<rect x="252.50" y="730.25" width="11.80" height="7.55" fill="#ffff00"/>
<rect x="263.50" y="730.25" width="11.80" height="7.55" fill="#c6c240"/>
<rect x="274.50" y="730.25" width="11.80" height="7.55" fill="#ffa208"/>
<rect x="285.50" y="730.25" width="11.80" height="7.55" fill="#ffa208"/>
<rect x="296.50" y="730.25" width="11.80" height="7.55" fill="#ff8212"/>
<rect x="307.50" y="730.25" width="11.00" height="7.55" fill="#ffff00"/>
<rect x="131.50" y="737.01" width="11.80" height="6.75" fill="#ffe600"/>
<rect x="142.50" y="737.01" width="11.80" height="6.75" fill="#ffcc00"/>
<rect x="153.50" y="737.01" width="11.80" height="6.75" fill="#ffcc00"/>
<rect x="164.50" y="737.01" width="11.80" height="6.75" fill="#ffe600"/>
<rect x="175.50" y="737.01" width="11.80" height="6.75" fill="#ffcc00"/>
<rect x="186.50" y="737.01" width="11.80" height="6.75" fill="#ffcc00"/>
<rect x="197.50" y="737.01" width="11.80" height="6.75" fill="#a8a45c"/>
<rect x="208.50" y="737.01" width="11.80" height="6.75" fill="#c6c240"/>
<rect x="219.50" y="737.01" width="11.80" height="6.75" fill="#ffe600"/>
<rect x="230.50" y="737.01" width="11.80" height="6.75" fill="#c6c240"/>
<rect x="241.50" y="737.01" width="11.80" height="6.75" fill="#a8a45c"/>
<rect x="252.50" y="737.01" width="11.80" height="6.75" fill="#2020e0"/>
<rect x="263.50" y="737.01" width="11.80" height="6.75" fill="#e8e828"/>
<rect x="274.50" y="737.01" width="11.80" height="6.75" fill="#ffa208"/>
<rect x="285.50" y="737.01" width="11.80" height="6.75" fill="#ff8212"/>
<rect x="296.50" y="737.01" width="11.80" height="6.75" fill="#ff8212"/>
<rect x="307.50" y="737.01" width="11.00" height="6.75" fill="#ffcc00"/>
<rect x="131.50" y="54.30" width="187.00" height="0.9" fill="#fff" fill-opacity="0.72"/>
<rect x="131.50" y="61.06" width="187.00" height="0.9" fill="#fff" fill-opacity="0.72"/>
<rect x="131.50" y="67.81" width="187.00" height="0.9" fill="#fff" fill-opacity="0.72"/>
<rect x="131.50" y="74.57" width="187.00" height="0.9" fill="#fff" fill-opacity="0.72"/>
<rect x="131.50" y="81.33" width="187.00" height="0.9" fill="#fff" fill-opacity="0.72"/>
<rect x="131.50" y="88.08" width="187.00" height="0.9" fill="#fff" fill-opacity="0.72"/>
<rect x="131.50" y="94.83" width="187.00" height="0.9" fill="#fff" fill-opacity="0.72"/>
<rect x="131.50" y="101.59" width="187.00" height="0.9" fill="#fff" fill-opacity="0.72"/>
<rect x="131.50" y="108.34" width="187.00" height="0.9" fill="#fff" fill-opacity="0.72"/>
<rect x="131.50" y="115.10" width="187.00" height="0.9" fill="#fff" fill-opacity="0.72"/>
<rect x="131.50" y="121.85" width="187.00" height="0.9" fill="#fff" fill-opacity="0.72"/>
<rect x="131.50" y="128.61" width="187.00" height="0.9" fill="#fff" fill-opacity="0.72"/>
<rect x="131.50" y="135.37" width="187.00" height="0.9" fill="#fff" fill-opacity="0.72"/>
<rect x="131.50" y="142.12" width="187.00" height="0.9" fill="#fff" fill-opacity="0.72"/>
<rect x="131.50" y="148.88" width="187.00" height="0.9" fill="#fff" fill-opacity="0.72"/>
<rect x="131.50" y="155.63" width="187.00" height="0.9" fill="#fff" fill-opacity="0.72"/>
<rect x="131.50" y="162.38" width="187.00" height="0.9" fill="#fff" fill-opacity="0.72"/>
<rect x="131.50" y="169.14" width="187.00" height="0.9" fill="#fff" fill-opacity="0.72"/>
<rect x="131.50" y="175.90" width="187.00" height="0.9" fill="#fff" fill-opacity="0.72"/>
<rect x="131.50" y="182.65" width="187.00" height="0.9" fill="#fff" fill-opacity="0.72"/>
<rect x="131.50" y="189.41" width="187.00" height="0.9" fill="#fff" fill-opacity="0.72"/>
<rect x="131.50" y="196.16" width="187.00" height="0.9" fill="#fff" fill-opacity="0.72"/>
<rect x="131.50" y="202.92" width="187.00" height="0.9" fill="#fff" fill-opacity="0.72"/>
<rect x="131.50" y="209.67" width="187.00" height="0.9" fill="#fff" fill-opacity="0.72"/>
<rect x="131.50" y="216.43" width="187.00" height="0.9" fill="#fff" fill-opacity="0.72"/>
<rect x="131.50" y="223.18" width="187.00" height="0.9" fill="#fff" fill-opacity="0.72"/>
<rect x="131.50" y="229.94" width="187.00" height="0.9" fill="#fff" fill-opacity="0.72"/>
<rect x="131.50" y="236.69" width="187.00" height="0.9" fill="#fff" fill-opacity="0.72"/>
<rect x="131.50" y="243.45" width="187.00" height="0.9" fill="#fff" fill-opacity="0.72"/>
<rect x="131.50" y="250.20" width="187.00" height="0.9" fill="#fff" fill-opacity="0.72"/>
<rect x="131.50" y="256.95" width="187.00" height="0.9" fill="#fff" fill-opacity="0.72"/>
<rect x="131.50" y="263.71" width="187.00" height="0.9" fill="#fff" fill-opacity="0.72"/>
<rect x="131.50" y="270.46" width="187.00" height="0.9" fill="#fff" fill-opacity="0.72"/>
<rect x="131.50" y="277.22" width="187.00" height="0.9" fill="#fff" fill-opacity="0.72"/>
<rect x="131.50" y="283.97" width="187.00" height="0.9" fill="#fff" fill-opacity="0.72"/>
<rect x="131.50" y="290.73" width="187.00" height="0.9" fill="#fff" fill-opacity="0.72"/>
<rect x="131.50" y="297.49" width="187.00" height="0.9" fill="#fff" fill-opacity="0.72"/>
<rect x="131.50" y="304.24" width="187.00" height="0.9" fill="#fff" fill-opacity="0.72"/>
<rect x="131.50" y="311.00" width="187.00" height="0.9" fill="#fff" fill-opacity="0.72"/>
<rect x="131.50" y="317.75" width="187.00" height="0.9" fill="#fff" fill-opacity="0.72"/>
<rect x="131.50" y="324.50" width="187.00" height="0.9" fill="#fff" fill-opacity="0.72"/>
<rect x="131.50" y="331.26" width="187.00" height="0.9" fill="#fff" fill-opacity="0.72"/>
<rect x="131.50" y="338.01" width="187.00" height="0.9" fill="#fff" fill-opacity="0.72"/>
<rect x="131.50" y="344.77" width="187.00" height="0.9" fill="#fff" fill-opacity="0.72"/>
<rect x="131.50" y="351.53" width="187.00" height="0.9" fill="#fff" fill-opacity="0.72"/>
<rect x="131.50" y="358.28" width="187.00" height="0.9" fill="#fff" fill-opacity="0.72"/>
<rect x="131.50" y="365.04" width="187.00" height="0.9" fill="#fff" fill-opacity="0.72"/>
<rect x="131.50" y="371.79" width="187.00" height="0.9" fill="#fff" fill-opacity="0.72"/>
<rect x="131.50" y="378.55" width="187.00" height="0.9" fill="#fff" fill-opacity="0.72"/>
<rect x="131.50" y="385.30" width="187.00" height="0.9" fill="#fff" fill-opacity="0.72"/>
<rect x="131.50" y="392.06" width="187.00" height="0.9" fill="#fff" fill-opacity="0.72"/>
<rect x="131.50" y="398.81" width="187.00" height="0.9" fill="#fff" fill-opacity="0.72"/>
<rect x="131.50" y="405.56" width="187.00" height="0.9" fill="#fff" fill-opacity="0.72"/>
<rect x="131.50" y="412.32" width="187.00" height="0.9" fill="#fff" fill-opacity="0.72"/>
<rect x="131.50" y="419.07" width="187.00" height="0.9" fill="#fff" fill-opacity="0.72"/>
<rect x="131.50" y="425.83" width="187.00" height="0.9" fill="#fff" fill-opacity="0.72"/>
<rect x="131.50" y="432.58" width="187.00" height="0.9" fill="#fff" fill-opacity="0.72"/>
<rect x="131.50" y="439.34" width="187.00" height="0.9" fill="#fff" fill-opacity="0.72"/>
<rect x="131.50" y="446.10" width="187.00" height="0.9" fill="#fff" fill-opacity="0.72"/>
<rect x="131.50" y="452.85" width="187.00" height="0.9" fill="#fff" fill-opacity="0.72"/>
<rect x="131.50" y="459.61" width="187.00" height="0.9" fill="#fff" fill-opacity="0.72"/>
<rect x="131.50" y="466.36" width="187.00" height="0.9" fill="#fff" fill-opacity="0.72"/>
<rect x="131.50" y="473.12" width="187.00" height="0.9" fill="#fff" fill-opacity="0.72"/>
<rect x="131.50" y="479.87" width="187.00" height="0.9" fill="#fff" fill-opacity="0.72"/>
<rect x="131.50" y="486.62" width="187.00" height="0.9" fill="#fff" fill-opacity="0.72"/>
<rect x="131.50" y="493.38" width="187.00" height="0.9" fill="#fff" fill-opacity="0.72"/>
<rect x="131.50" y="500.13" width="187.00" height="0.9" fill="#fff" fill-opacity="0.72"/>
<rect x="131.50" y="506.89" width="187.00" height="0.9" fill="#fff" fill-opacity="0.72"/>
<rect x="131.50" y="513.64" width="187.00" height="0.9" fill="#fff" fill-opacity="0.72"/>
<rect x="131.50" y="520.40" width="187.00" height="0.9" fill="#fff" fill-opacity="0.72"/>
<rect x="131.50" y="527.15" width="187.00" height="0.9" fill="#fff" fill-opacity="0.72"/>
<rect x="131.50" y="533.91" width="187.00" height="0.9" fill="#fff" fill-opacity="0.72"/>
<rect x="131.50" y="540.66" width="187.00" height="0.9" fill="#fff" fill-opacity="0.72"/>
<rect x="131.50" y="547.42" width="187.00" height="0.9" fill="#fff" fill-opacity="0.72"/>
<rect x="131.50" y="554.17" width="187.00" height="0.9" fill="#fff" fill-opacity="0.72"/>
<rect x="131.50" y="560.93" width="187.00" height="0.9" fill="#fff" fill-opacity="0.72"/>
<rect x="131.50" y="567.68" width="187.00" height="0.9" fill="#fff" fill-opacity="0.72"/>
<rect x="131.50" y="574.44" width="187.00" height="0.9" fill="#fff" fill-opacity="0.72"/>
<rect x="131.50" y="581.19" width="187.00" height="0.9" fill="#fff" fill-opacity="0.72"/>
<rect x="131.50" y="587.95" width="187.00" height="0.9" fill="#fff" fill-opacity="0.72"/>
<rect x="131.50" y="594.70" width="187.00" height="0.9" fill="#fff" fill-opacity="0.72"/>
<rect x="131.50" y="601.46" width="187.00" height="0.9" fill="#fff" fill-opacity="0.72"/>
<rect x="131.50" y="608.21" width="187.00" height="0.9" fill="#fff" fill-opacity="0.72"/>
<rect x="131.50" y="614.97" width="187.00" height="0.9" fill="#fff" fill-opacity="0.72"/>
<rect x="131.50" y="621.72" width="187.00" height="0.9" fill="#fff" fill-opacity="0.72"/>
<rect x="131.50" y="628.48" width="187.00" height="0.9" fill="#fff" fill-opacity="0.72"/>
<rect x="131.50" y="635.23" width="187.00" height="0.9" fill="#fff" fill-opacity="0.72"/>
<rect x="131.50" y="641.99" width="187.00" height="0.9" fill="#fff" fill-opacity="0.72"/>
<rect x="131.50" y="648.74" width="187.00" height="0.9" fill="#fff" fill-opacity="0.72"/>
<rect x="131.50" y="655.50" width="187.00" height="0.9" fill="#fff" fill-opacity="0.72"/>
<rect x="131.50" y="662.25" width="187.00" height="0.9" fill="#fff" fill-opacity="0.72"/>
<rect x="131.50" y="669.01" width="187.00" height="0.9" fill="#fff" fill-opacity="0.72"/>
<rect x="131.50" y="675.76" width="187.00" height="0.9" fill="#fff" fill-opacity="0.72"/>
<rect x="131.50" y="682.52" width="187.00" height="0.9" fill="#fff" fill-opacity="0.72"/>
<rect x="131.50" y="689.27" width="187.00" height="0.9" fill="#fff" fill-opacity="0.72"/>
<rect x="131.50" y="696.03" width="187.00" height="0.9" fill="#fff" fill-opacity="0.72"/>
<rect x="131.50" y="702.78" width="187.00" height="0.9" fill="#fff" fill-opacity="0.72"/>
<rect x="131.50" y="709.54" width="187.00" height="0.9" fill="#fff" fill-opacity="0.72"/>
<rect x="131.50" y="716.29" width="187.00" height="0.9" fill="#fff" fill-opacity="0.72"/>
<rect x="131.50" y="723.05" width="187.00" height="0.9" fill="#fff" fill-opacity="0.72"/>
<rect x="131.50" y="729.80" width="187.00" height="0.9" fill="#fff" fill-opacity="0.72"/>
<rect x="131.50" y="736.56" width="187.00" height="0.9" fill="#fff" fill-opacity="0.72"/>
</g>
<text transform="translate(141.60 45.30) rotate(-90)" font-size="9.9" fill="#000" stroke="#000" stroke-width="0.2">V10</text>
<text transform="translate(152.60 45.30) rotate(-90)" font-size="9.9" fill="#000" stroke="#000" stroke-width="0.2">V12</text>
<text transform="translate(163.60 45.30) rotate(-90)" font-size="9.9" fill="#000" stroke="#000" stroke-width="0.2">P1</text>
<text transform="translate(174.60 45.30) rotate(-90)" font-size="9.9" fill="#000" stroke="#000" stroke-width="0.2">P2</text>
<text transform="translate(185.60 45.30) rotate(-90)" font-size="9.9" fill="#000" stroke="#000" stroke-width="0.2">P3</text>
<text transform="translate(196.60 45.30) rotate(-90)" font-size="9.9" fill="#000" stroke="#000" stroke-width="0.2">P8.5</text>
<text transform="translate(207.60 45.30) rotate(-90)" font-size="9.9" fill="#000" stroke="#000" stroke-width="0.2">P12.5</text>
<text transform="translate(218.60 45.30) rotate(-90)" font-size="9.9" fill="#000" stroke="#000" stroke-width="0.2">P14.5</text>
<text transform="translate(229.60 45.30) rotate(-90)" font-size="9.9" fill="#000" stroke="#000" stroke-width="0.2">P17.5</text>
<text transform="translate(240.60 45.30) rotate(-90)" font-size="9.9" fill="#000" stroke="#000" stroke-width="0.2">Lac1</text>
<text transform="translate(251.60 45.30) rotate(-90)" font-size="9.9" fill="#000" stroke="#000" stroke-width="0.2">Lac3</text>
<text transform="translate(262.60 45.30) rotate(-90)" font-size="9.9" fill="#000" stroke="#000" stroke-width="0.2">Lac7</text>
<text transform="translate(273.60 45.30) rotate(-90)" font-size="9.9" fill="#000" stroke="#000" stroke-width="0.2">Inv1</text>
<text transform="translate(284.60 45.30) rotate(-90)" font-size="9.9" fill="#000" stroke="#000" stroke-width="0.2">Inv2</text>
<text transform="translate(295.60 45.30) rotate(-90)" font-size="9.9" fill="#000" stroke="#000" stroke-width="0.2">Inv3</text>
<text transform="translate(306.60 45.30) rotate(-90)" font-size="9.9" fill="#000" stroke="#000" stroke-width="0.2">Inv4</text>
<text transform="translate(317.60 45.30) rotate(-90)" font-size="9.9" fill="#000" stroke="#000" stroke-width="0.2">Inv20</text>
<path d="M103.00 51.38L131.50 51.38M108.30 58.13L131.50 58.13M108.30 64.89L131.50 64.89M108.30 71.64L131.50 71.64M108.30 58.13L108.30 71.64M103.00 64.89L108.30 64.89M103.00 78.40L131.50 78.40M103.00 51.38L103.00 78.40M97.00 64.89L103.00 64.89M104.80 85.15L131.50 85.15M104.80 91.91L131.50 91.91M104.80 85.15L104.80 91.91M97.00 88.53L104.80 88.53M97.00 98.66L131.50 98.66M103.00 105.42L131.50 105.42M103.00 112.17L131.50 112.17M103.00 118.93L131.50 118.93M103.00 125.68L131.50 125.68M103.00 105.42L103.00 125.68M97.00 115.55L103.00 115.55M97.00 132.44L131.50 132.44M107.50 139.19L131.50 139.19M107.50 145.95L131.50 145.95M107.50 139.19L107.50 145.95M103.00 142.57L107.50 142.57M103.00 152.70L131.50 152.70M103.00 159.46L131.50 159.46M103.00 142.57L103.00 159.46M97.00 151.01L103.00 151.01M97.00 166.21L131.50 166.21M102.20 172.97L131.50 172.97M108.30 179.72L131.50 179.72M108.30 186.48L131.50 186.48M108.30 193.23L131.50 193.23M108.30 199.99L131.50 199.99M108.30 179.72L108.30 199.99M102.20 189.86L108.30 189.86M102.20 206.74L131.50 206.74M102.20 172.97L102.20 206.74M97.00 189.86L102.20 189.86M97.00 64.89L97.00 189.86M92.50 127.37L97.00 127.37M100.40 213.50L131.50 213.50M100.40 220.25L131.50 220.25M100.40 213.50L100.40 220.25M92.50 216.88L100.40 216.88M98.70 227.01L131.50 227.01M98.70 233.76L131.50 233.76M98.70 227.01L98.70 233.76M92.50 230.38L98.70 230.38M102.00 240.52L131.50 240.52M102.00 247.27L131.50 247.27M102.00 240.52L102.00 247.27M92.50 243.89L102.00 243.89M98.70 254.03L131.50 254.03M98.70 260.78L131.50 260.78M98.70 267.54L131.50 267.54M98.70 254.03L98.70 267.54M92.50 260.78L98.70 260.78M106.60 274.29L131.50 274.29M106.60 281.05L131.50 281.05M106.60 287.80L131.50 287.80M106.60 294.56L131.50 294.56M106.60 274.29L106.60 294.56M97.50 284.43L106.60 284.43M111.00 301.31L131.50 301.31M111.00 308.07L131.50 308.07M111.00 301.31L111.00 308.07M104.80 304.69L111.00 304.69M104.80 314.82L131.50 314.82M104.80 321.58L131.50 321.58M104.80 304.69L104.80 321.58M97.50 313.13L104.80 313.13M97.50 328.33L131.50 328.33M97.50 335.09L131.50 335.09M97.50 284.43L97.50 335.09M92.50 309.76L97.50 309.76M92.50 127.37L92.50 309.76M86.40 218.56L92.50 218.56M86.40 341.84L131.50 341.84M96.80 348.60L131.50 348.60M108.00 355.35L131.50 355.35M108.00 362.11L131.50 362.11M108.00 355.35L108.00 362.11M96.80 358.73L108.00 358.73M108.00 368.86L131.50 368.86M108.00 375.62L131.50 375.62M108.00 382.37L131.50 382.37M108.00 368.86L108.00 382.37M102.00 375.62L108.00 375.62M102.00 389.13L131.50 389.13M102.00 395.88L131.50 395.88M102.00 375.62L102.00 395.88M96.80 385.75L102.00 385.75M96.80 402.64L131.50 402.64M96.80 348.60L96.80 402.64M92.00 375.62L96.80 375.62M101.50 409.39L131.50 409.39M101.50 416.15L131.50 416.15M101.50 409.39L101.50 416.15M96.00 412.77L101.50 412.77M96.00 422.90L131.50 422.90M96.00 429.66L131.50 429.66M96.00 436.41L131.50 436.41M101.50 443.17L131.50 443.17M101.50 449.92L131.50 449.92M101.50 443.17L101.50 449.92M96.00 446.55L101.50 446.55M96.00 412.77L96.00 446.55M92.00 429.66L96.00 429.66M98.70 456.68L131.50 456.68M98.70 463.43L131.50 463.43M98.70 456.68L98.70 463.43M92.00 460.06L98.70 460.06M105.70 470.19L131.50 470.19M105.70 476.94L131.50 476.94M105.70 470.19L105.70 476.94M96.00 473.56L105.70 473.56M96.00 483.70L131.50 483.70M96.00 490.45L131.50 490.45M96.00 497.21L131.50 497.21M96.00 503.96L131.50 503.96M103.00 510.72L131.50 510.72M103.00 517.47L131.50 517.47M103.00 524.23L131.50 524.23M103.00 530.98L131.50 530.98M103.00 537.74L131.50 537.74M103.00 510.72L103.00 537.74M96.00 524.23L103.00 524.23M96.00 473.56L96.00 524.23M92.00 498.90L96.00 498.90M102.20 544.49L131.50 544.49M102.20 551.25L131.50 551.25M112.70 558.00L131.50 558.00M112.70 564.76L131.50 564.76M112.70 558.00L112.70 564.76M102.20 561.38L112.70 561.38M102.20 571.51L131.50 571.51M102.20 544.49L102.20 571.51M97.00 558.00L102.20 558.00M97.00 578.27L131.50 578.27M110.00 585.02L131.50 585.02M110.00 591.78L131.50 591.78M110.00 598.53L131.50 598.53M110.00 585.02L110.00 598.53M104.00 591.78L110.00 591.78M112.70 605.29L131.50 605.29M112.70 612.04L131.50 612.04M112.70 605.29L112.70 612.04M104.00 608.66L112.70 608.66M114.50 618.80L131.50 618.80M114.50 625.55L131.50 625.55M114.50 618.80L114.50 625.55M104.00 622.17L114.50 622.17M104.00 632.31L131.50 632.31M104.00 639.06L131.50 639.06M112.70 645.82L131.50 645.82M112.70 652.57L131.50 652.57M112.70 645.82L112.70 652.57M104.00 649.19L112.70 649.19M104.00 659.33L131.50 659.33M104.00 591.78L104.00 659.33M97.00 625.55L104.00 625.55M103.00 666.08L131.50 666.08M108.30 672.84L131.50 672.84M108.30 679.59L131.50 679.59M108.30 672.84L108.30 679.59M103.00 676.21L108.30 676.21M103.00 686.35L131.50 686.35M103.00 666.08L103.00 686.35M97.00 676.21L103.00 676.21M97.00 693.10L131.50 693.10M97.00 558.00L97.00 693.10M92.00 625.55L97.00 625.55M92.00 699.86L131.50 699.86M92.00 375.62L92.00 699.86M86.40 537.74L92.00 537.74M103.00 706.61L131.50 706.61M103.00 713.37L131.50 713.37M103.00 720.12L131.50 720.12M103.00 726.88L131.50 726.88M103.00 706.61L103.00 726.88M97.00 716.74L103.00 716.74M97.00 733.63L131.50 733.63M97.00 740.39L131.50 740.39M97.00 716.74L97.00 740.39M86.40 728.57L97.00 728.57M86.40 218.56L86.40 728.57M83.90 395.50L86.40 395.50" stroke="#4a4a4a" stroke-width="1" fill="none"/>
<text x="323.9" y="52.58" font-size="6.1" fill="#1a1a1a" stroke="#1a1a1a" stroke-width="0.12">100034_at</text>
<text x="323.9" y="59.34" font-size="6.1" fill="#1a1a1a" stroke="#1a1a1a" stroke-width="0.12">102712_at</text>
<text x="323.9" y="66.10" font-size="6.1" fill="#1a1a1a" stroke="#1a1a1a" stroke-width="0.12">98041_at</text>
<text x="323.9" y="72.86" font-size="6.1" fill="#1a1a1a" stroke="#1a1a1a" stroke-width="0.12">96056_at</text>
<text x="323.9" y="79.62" font-size="6.1" fill="#1a1a1a" stroke="#1a1a1a" stroke-width="0.12">160686_at</text>
<text x="323.9" y="86.38" font-size="6.1" fill="#1a1a1a" stroke="#1a1a1a" stroke-width="0.12">101996_at</text>
<text x="323.9" y="93.14" font-size="6.1" fill="#1a1a1a" stroke="#1a1a1a" stroke-width="0.12">95462_at</text>
<text x="323.9" y="99.90" font-size="6.1" fill="#1a1a1a" stroke="#1a1a1a" stroke-width="0.12">99633_at</text>
<text x="323.9" y="106.66" font-size="6.1" fill="#1a1a1a" stroke="#1a1a1a" stroke-width="0.12">101892_f_at</text>
<text x="323.9" y="113.43" font-size="6.1" fill="#1a1a1a" stroke="#1a1a1a" stroke-width="0.12">104340_at</text>
<text x="323.9" y="120.19" font-size="6.1" fill="#1a1a1a" stroke="#1a1a1a" stroke-width="0.12">99582_at</text>
<text x="323.9" y="126.95" font-size="6.1" fill="#1a1a1a" stroke="#1a1a1a" stroke-width="0.12">103059_at</text>
<text x="323.9" y="133.71" font-size="6.1" fill="#1a1a1a" stroke="#1a1a1a" stroke-width="0.12">101583_at</text>
<text x="323.9" y="140.47" font-size="6.1" fill="#1a1a1a" stroke="#1a1a1a" stroke-width="0.12">100893_at</text>
<text x="323.9" y="147.23" font-size="6.1" fill="#1a1a1a" stroke="#1a1a1a" stroke-width="0.12">96857_at</text>
<text x="323.9" y="153.99" font-size="6.1" fill="#1a1a1a" stroke="#1a1a1a" stroke-width="0.12">93017_at</text>
<text x="323.9" y="160.75" font-size="6.1" fill="#1a1a1a" stroke="#1a1a1a" stroke-width="0.12">104725_at</text>
<text x="323.9" y="167.51" font-size="6.1" fill="#1a1a1a" stroke="#1a1a1a" stroke-width="0.12">93220_at</text>
<text x="323.9" y="174.27" font-size="6.1" fill="#1a1a1a" stroke="#1a1a1a" stroke-width="0.12">101995_at</text>
<text x="323.9" y="181.03" font-size="6.1" fill="#1a1a1a" stroke="#1a1a1a" stroke-width="0.12">160713_at</text>
<text x="323.9" y="187.80" font-size="6.1" fill="#1a1a1a" stroke="#1a1a1a" stroke-width="0.12">95874_r_at</text>
<text x="323.9" y="194.56" font-size="6.1" fill="#1a1a1a" stroke="#1a1a1a" stroke-width="0.12">160894_at</text>
<text x="323.9" y="201.32" font-size="6.1" fill="#1a1a1a" stroke="#1a1a1a" stroke-width="0.12">95673_s_at</text>
<text x="323.9" y="208.08" font-size="6.1" fill="#1a1a1a" stroke="#1a1a1a" stroke-width="0.12">104701_at</text>
<text x="323.9" y="214.84" font-size="6.1" fill="#1a1a1a" stroke="#1a1a1a" stroke-width="0.12">95746_at</text>
<text x="323.9" y="221.60" font-size="6.1" fill="#1a1a1a" stroke="#1a1a1a" stroke-width="0.12">97492_at</text>
<text x="323.9" y="228.36" font-size="6.1" fill="#1a1a1a" stroke="#1a1a1a" stroke-width="0.12">94850_at</text>
<text x="323.9" y="235.12" font-size="6.1" fill="#1a1a1a" stroke="#1a1a1a" stroke-width="0.12">95622_at</text>
<text x="323.9" y="241.88" font-size="6.1" fill="#1a1a1a" stroke="#1a1a1a" stroke-width="0.12">101410_at</text>
<text x="323.9" y="248.64" font-size="6.1" fill="#1a1a1a" stroke="#1a1a1a" stroke-width="0.12">160106_at</text>
<text x="323.9" y="255.40" font-size="6.1" fill="#1a1a1a" stroke="#1a1a1a" stroke-width="0.12">103305_at</text>
<text x="323.9" y="262.16" font-size="6.1" fill="#1a1a1a" stroke="#1a1a1a" stroke-width="0.12">98151_s_at</text>
<text x="323.9" y="268.93" font-size="6.1" fill="#1a1a1a" stroke="#1a1a1a" stroke-width="0.12">93347_at</text>
<text x="323.9" y="275.69" font-size="6.1" fill="#1a1a1a" stroke="#1a1a1a" stroke-width="0.12">102761_at</text>
<text x="323.9" y="282.45" font-size="6.1" fill="#1a1a1a" stroke="#1a1a1a" stroke-width="0.12">162011_f_at</text>
<text x="323.9" y="289.21" font-size="6.1" fill="#1a1a1a" stroke="#1a1a1a" stroke-width="0.12">96747_at</text>
<text x="323.9" y="295.97" font-size="6.1" fill="#1a1a1a" stroke="#1a1a1a" stroke-width="0.12">103065_at</text>
<text x="323.9" y="302.73" font-size="6.1" fill="#1a1a1a" stroke="#1a1a1a" stroke-width="0.12">93435_at</text>
<text x="323.9" y="309.49" font-size="6.1" fill="#1a1a1a" stroke="#1a1a1a" stroke-width="0.12">95348_at</text>
<text x="323.9" y="316.25" font-size="6.1" fill="#1a1a1a" stroke="#1a1a1a" stroke-width="0.12">96746_g_at</text>
<text x="323.9" y="323.01" font-size="6.1" fill="#1a1a1a" stroke="#1a1a1a" stroke-width="0.12">94734_at</text>
<text x="323.9" y="329.77" font-size="6.1" fill="#1a1a1a" stroke="#1a1a1a" stroke-width="0.12">92312_at</text>
<text x="323.9" y="336.53" font-size="6.1" fill="#1a1a1a" stroke="#1a1a1a" stroke-width="0.12">98910_at</text>
<text x="323.9" y="343.30" font-size="6.1" fill="#1a1a1a" stroke="#1a1a1a" stroke-width="0.12">161139_f_at</text>
<text x="323.9" y="350.06" font-size="6.1" fill="#1a1a1a" stroke="#1a1a1a" stroke-width="0.12">100136_at</text>
<text x="323.9" y="356.82" font-size="6.1" fill="#1a1a1a" stroke="#1a1a1a" stroke-width="0.12">101055_at</text>
<text x="323.9" y="363.58" font-size="6.1" fill="#1a1a1a" stroke="#1a1a1a" stroke-width="0.12">103812_at</text>
<text x="323.9" y="370.34" font-size="6.1" fill="#1a1a1a" stroke="#1a1a1a" stroke-width="0.12">101389_at</text>
<text x="323.9" y="377.10" font-size="6.1" fill="#1a1a1a" stroke="#1a1a1a" stroke-width="0.12">93728_at</text>
<text x="323.9" y="383.86" font-size="6.1" fill="#1a1a1a" stroke="#1a1a1a" stroke-width="0.12">101587_at</text>
<text x="323.9" y="390.62" font-size="6.1" fill="#1a1a1a" stroke="#1a1a1a" stroke-width="0.12">96119_s_at</text>
<text x="323.9" y="397.38" font-size="6.1" fill="#1a1a1a" stroke="#1a1a1a" stroke-width="0.12">97420_at</text>
<text x="323.9" y="404.14" font-size="6.1" fill="#1a1a1a" stroke="#1a1a1a" stroke-width="0.12">102114_f_at</text>
<text x="323.9" y="410.90" font-size="6.1" fill="#1a1a1a" stroke="#1a1a1a" stroke-width="0.12">100513_at</text>
<text x="323.9" y="417.67" font-size="6.1" fill="#1a1a1a" stroke="#1a1a1a" stroke-width="0.12">93281_at</text>
<text x="323.9" y="424.43" font-size="6.1" fill="#1a1a1a" stroke="#1a1a1a" stroke-width="0.12">96738_at</text>
<text x="323.9" y="431.19" font-size="6.1" fill="#1a1a1a" stroke="#1a1a1a" stroke-width="0.12">100595_at</text>
<text x="323.9" y="437.95" font-size="6.1" fill="#1a1a1a" stroke="#1a1a1a" stroke-width="0.12">103503_at</text>
<text x="323.9" y="444.71" font-size="6.1" fill="#1a1a1a" stroke="#1a1a1a" stroke-width="0.12">160127_at</text>
<text x="323.9" y="451.47" font-size="6.1" fill="#1a1a1a" stroke="#1a1a1a" stroke-width="0.12">97946_at</text>
<text x="323.9" y="458.23" font-size="6.1" fill="#1a1a1a" stroke="#1a1a1a" stroke-width="0.12">162479_f_at</text>
<text x="323.9" y="464.99" font-size="6.1" fill="#1a1a1a" stroke="#1a1a1a" stroke-width="0.12">97529_at</text>
<text x="323.9" y="471.75" font-size="6.1" fill="#1a1a1a" stroke="#1a1a1a" stroke-width="0.12">102255_at</text>
<text x="323.9" y="478.51" font-size="6.1" fill="#1a1a1a" stroke="#1a1a1a" stroke-width="0.12">162206_f_at</text>
<text x="323.9" y="485.27" font-size="6.1" fill="#1a1a1a" stroke="#1a1a1a" stroke-width="0.12">104155_f_at</text>
<text x="323.9" y="492.03" font-size="6.1" fill="#1a1a1a" stroke="#1a1a1a" stroke-width="0.12">93294_at</text>
<text x="323.9" y="498.80" font-size="6.1" fill="#1a1a1a" stroke="#1a1a1a" stroke-width="0.12">102362_i_at</text>
<text x="323.9" y="505.56" font-size="6.1" fill="#1a1a1a" stroke="#1a1a1a" stroke-width="0.12">92535_at</text>
<text x="323.9" y="512.32" font-size="6.1" fill="#1a1a1a" stroke="#1a1a1a" stroke-width="0.12">103448_at</text>
<text x="323.9" y="519.08" font-size="6.1" fill="#1a1a1a" stroke="#1a1a1a" stroke-width="0.12">95680_at</text>
<text x="323.9" y="525.84" font-size="6.1" fill="#1a1a1a" stroke="#1a1a1a" stroke-width="0.12">96953_at</text>
<text x="323.9" y="532.60" font-size="6.1" fill="#1a1a1a" stroke="#1a1a1a" stroke-width="0.12">99952_at</text>
<text x="323.9" y="539.36" font-size="6.1" fill="#1a1a1a" stroke="#1a1a1a" stroke-width="0.12">95881_f_at</text>
<text x="323.9" y="546.12" font-size="6.1" fill="#1a1a1a" stroke="#1a1a1a" stroke-width="0.12">100313_at</text>
<text x="323.9" y="552.88" font-size="6.1" fill="#1a1a1a" stroke="#1a1a1a" stroke-width="0.12">101306_f_at</text>
<text x="323.9" y="559.64" font-size="6.1" fill="#1a1a1a" stroke="#1a1a1a" stroke-width="0.12">100333_at</text>
<text x="323.9" y="566.40" font-size="6.1" fill="#1a1a1a" stroke="#1a1a1a" stroke-width="0.12">96123_at</text>
<text x="323.9" y="573.17" font-size="6.1" fill="#1a1a1a" stroke="#1a1a1a" stroke-width="0.12">96788_s_at</text>
<text x="323.9" y="579.93" font-size="6.1" fill="#1a1a1a" stroke="#1a1a1a" stroke-width="0.12">96940_at</text>
<text x="323.9" y="586.69" font-size="6.1" fill="#1a1a1a" stroke="#1a1a1a" stroke-width="0.12">100491_at</text>
<text x="323.9" y="593.45" font-size="6.1" fill="#1a1a1a" stroke="#1a1a1a" stroke-width="0.12">95592_at</text>
<text x="323.9" y="600.21" font-size="6.1" fill="#1a1a1a" stroke="#1a1a1a" stroke-width="0.12">99133_at</text>
<text x="323.9" y="606.97" font-size="6.1" fill="#1a1a1a" stroke="#1a1a1a" stroke-width="0.12">102049_at</text>
<text x="323.9" y="613.73" font-size="6.1" fill="#1a1a1a" stroke="#1a1a1a" stroke-width="0.12">94881_at</text>
<text x="323.9" y="620.49" font-size="6.1" fill="#1a1a1a" stroke="#1a1a1a" stroke-width="0.12">161650_at</text>
<text x="323.9" y="627.25" font-size="6.1" fill="#1a1a1a" stroke="#1a1a1a" stroke-width="0.12">92858_at</text>
<text x="323.9" y="634.01" font-size="6.1" fill="#1a1a1a" stroke="#1a1a1a" stroke-width="0.12">98614_at</text>
<text x="323.9" y="640.77" font-size="6.1" fill="#1a1a1a" stroke="#1a1a1a" stroke-width="0.12">101963_at</text>
<text x="323.9" y="647.54" font-size="6.1" fill="#1a1a1a" stroke="#1a1a1a" stroke-width="0.12">92851_at</text>
<text x="323.9" y="654.30" font-size="6.1" fill="#1a1a1a" stroke="#1a1a1a" stroke-width="0.12">93753_at</text>
<text x="323.9" y="661.06" font-size="6.1" fill="#1a1a1a" stroke="#1a1a1a" stroke-width="0.12">98088_at</text>
<text x="323.9" y="667.82" font-size="6.1" fill="#1a1a1a" stroke="#1a1a1a" stroke-width="0.12">101287_s_at</text>
<text x="323.9" y="674.58" font-size="6.1" fill="#1a1a1a" stroke="#1a1a1a" stroke-width="0.12">94394_at</text>
<text x="323.9" y="681.34" font-size="6.1" fill="#1a1a1a" stroke="#1a1a1a" stroke-width="0.12">99099_at</text>
<text x="323.9" y="688.10" font-size="6.1" fill="#1a1a1a" stroke="#1a1a1a" stroke-width="0.12">102751_at</text>
<text x="323.9" y="694.86" font-size="6.1" fill="#1a1a1a" stroke="#1a1a1a" stroke-width="0.12">102313_at</text>
<text x="323.9" y="701.62" font-size="6.1" fill="#1a1a1a" stroke="#1a1a1a" stroke-width="0.12">96679_at</text>
<text x="323.9" y="708.38" font-size="6.1" fill="#1a1a1a" stroke="#1a1a1a" stroke-width="0.12">103016_s_at</text>
<text x="323.9" y="715.14" font-size="6.1" fill="#1a1a1a" stroke="#1a1a1a" stroke-width="0.12">95706_at</text>
<text x="323.9" y="721.90" font-size="6.1" fill="#1a1a1a" stroke="#1a1a1a" stroke-width="0.12">96540_at</text>
<text x="323.9" y="728.67" font-size="6.1" fill="#1a1a1a" stroke="#1a1a1a" stroke-width="0.12">99071_at</text>
<text x="323.9" y="735.43" font-size="6.1" fill="#1a1a1a" stroke="#1a1a1a" stroke-width="0.12">104023_at</text>
<text x="323.9" y="742.19" font-size="6.1" fill="#1a1a1a" stroke="#1a1a1a" stroke-width="0.12">93318_at</text>
<path d="M366.3 47.0 L374.3 47.0 Q378.3 47.0 378.3 51.0 L378.3 125.6 Q378.3 128.6 383.3 128.6 Q378.3 128.6 378.3 131.6 L378.3 206.1 Q378.3 210.1 374.3 210.1 L366.3 210.1" stroke="#3a3a3a" stroke-width="1" fill="none"/>
<path transform="translate(393.32 135.06) scale(0.01050 -0.01050)" d="M763 0H583V1147C540 1106 483 1064 413 1024C343 983 280 953 223 932V1106C324 1153 412 1210 487 1277C562 1344 615 1409 646 1472H763Z" fill="#000"/>
<path d="M366.3 210.1 L374.3 210.1 Q378.3 210.1 378.3 214.1 L378.3 237.5 Q378.3 240.5 383.3 240.5 Q378.3 240.5 378.3 243.5 L378.3 266.9 Q378.3 270.9 374.3 270.9 L366.3 270.9" stroke="#3a3a3a" stroke-width="1" fill="none"/>
<text x="393.32" y="248.52" font-size="21.5" fill="#000">2</text>
<path d="M366.3 270.9 L374.3 270.9 Q378.3 270.9 378.3 274.9 L378.3 305.1 Q378.3 308.1 383.3 308.1 Q378.3 308.1 378.3 311.1 L378.3 341.2 Q378.3 345.2 374.3 345.2 L366.3 345.2" stroke="#3a3a3a" stroke-width="1" fill="none"/>
<text x="393.32" y="315.67" font-size="21.5" fill="#000">3</text>
<path d="M366.3 345.2 L374.3 345.2 Q378.3 345.2 378.3 349.2 L378.3 372.6 Q378.3 375.6 383.3 375.6 Q378.3 375.6 378.3 378.6 L378.3 402.0 Q378.3 406.0 374.3 406.0 L366.3 406.0" stroke="#3a3a3a" stroke-width="1" fill="none"/>
<text x="393.32" y="384.82" font-size="21.5" fill="#000">4</text>
<path d="M366.3 406.0 L374.3 406.0 Q378.3 406.0 378.3 410.0 L378.3 426.7 Q378.3 429.7 383.3 429.7 Q378.3 429.7 378.3 432.7 L378.3 449.3 Q378.3 453.3 374.3 453.3 L366.3 453.3" stroke="#3a3a3a" stroke-width="1" fill="none"/>
<text x="393.32" y="438.36" font-size="21.5" fill="#000">5</text>
<path d="M366.3 453.3 L374.3 453.3 Q378.3 453.3 378.3 457.3 L378.3 457.1 Q378.3 460.1 383.3 460.1 Q378.3 460.1 378.3 463.1 L378.3 462.8 Q378.3 466.8 374.3 466.8 L366.3 466.8" stroke="#3a3a3a" stroke-width="1" fill="none"/>
<text x="393.32" y="469.16" font-size="21.5" fill="#000">6</text>
<path d="M366.3 466.8 L374.3 466.8 Q378.3 466.8 378.3 470.8 L378.3 501.0 Q378.3 504.0 383.3 504.0 Q378.3 504.0 378.3 507.0 L378.3 537.1 Q378.3 541.1 374.3 541.1 L366.3 541.1" stroke="#3a3a3a" stroke-width="1" fill="none"/>
<text x="393.32" y="512.16" font-size="21.5" fill="#000">7</text>
<path d="M366.3 541.1 L374.3 541.1 Q378.3 541.1 378.3 545.1 L378.3 615.8 Q378.3 618.8 383.3 618.8 Q378.3 618.8 378.3 621.8 L378.3 692.5 Q378.3 696.5 374.3 696.5 L366.3 696.5" stroke="#3a3a3a" stroke-width="1" fill="none"/>
<text x="393.32" y="627.70" font-size="21.5" fill="#000">8</text>
<path d="M366.3 696.5 L374.3 696.5 Q378.3 696.5 378.3 700.5 L378.3 696.9 Q378.3 699.9 383.3 699.9 Q378.3 699.9 378.3 702.9 L378.3 699.2 Q378.3 703.2 374.3 703.2 L366.3 703.2" stroke="#3a3a3a" stroke-width="1" fill="none"/>
<text x="393.32" y="705.96" font-size="21.5" fill="#000">9</text>
<path d="M366.3 703.2 L374.3 703.2 Q378.3 703.2 378.3 707.2 L378.3 720.5 Q378.3 723.5 383.3 723.5 Q378.3 723.5 378.3 726.5 L378.3 739.8 Q378.3 743.8 374.3 743.8 L366.3 743.8" stroke="#3a3a3a" stroke-width="1" fill="none"/>
<path transform="translate(387.35 731.10) scale(0.01050 -0.01050)" d="M763 0H583V1147C540 1106 483 1064 413 1024C343 983 280 953 223 932V1106C324 1153 412 1210 487 1277C562 1344 615 1409 646 1472H763Z" fill="#000"/><text x="399.30" y="731.10" font-size="21.5" fill="#000">0</text>
<rect x="25" y="227.2" width="19.6" height="334.6" fill="url(#lg)"/>
<path transform="translate(49.00 241.00) scale(0.00537 -0.00537)" d="M763 0H583V1147C540 1106 483 1064 413 1024C343 983 280 953 223 932V1106C324 1153 412 1210 487 1277C562 1344 615 1409 646 1472H763Z" fill="#111" stroke="#111" stroke-width="0.2"/><text x="55.12" y="241.00" font-size="11.0" fill="#111" stroke="#111" stroke-width="0.2">0</text>
<text x="49.00" y="262.30" font-size="11.0" fill="#111" stroke="#111" stroke-width="0.2">7</text><text x="55.12" y="262.30" font-size="11.0" fill="#111" stroke="#111" stroke-width="0.2">.</text><text x="58.17" y="262.30" font-size="11.0" fill="#111" stroke="#111" stroke-width="0.2">5</text>
<text x="49.00" y="292.70" font-size="11.0" fill="#111" stroke="#111" stroke-width="0.2">5</text><text x="55.12" y="292.70" font-size="11.0" fill="#111" stroke="#111" stroke-width="0.2">.</text><text x="58.17" y="292.70" font-size="11.0" fill="#111" stroke="#111" stroke-width="0.2">0</text>
<text x="49.00" y="308.30" font-size="11.0" fill="#111" stroke="#111" stroke-width="0.2">4</text><text x="55.12" y="308.30" font-size="11.0" fill="#111" stroke="#111" stroke-width="0.2">.</text><text x="58.17" y="308.30" font-size="11.0" fill="#111" stroke="#111" stroke-width="0.2">0</text>
<text x="49.00" y="335.40" font-size="11.0" fill="#111" stroke="#111" stroke-width="0.2">2</text><text x="55.12" y="335.40" font-size="11.0" fill="#111" stroke="#111" stroke-width="0.2">.</text><text x="58.17" y="335.40" font-size="11.0" fill="#111" stroke="#111" stroke-width="0.2">5</text>
<text x="49.00" y="348.70" font-size="11.0" fill="#111" stroke="#111" stroke-width="0.2">2</text><text x="55.12" y="348.70" font-size="11.0" fill="#111" stroke="#111" stroke-width="0.2">.</text><text x="58.17" y="348.70" font-size="11.0" fill="#111" stroke="#111" stroke-width="0.2">0</text>
<path transform="translate(49.00 405.40) scale(0.00537 -0.00537)" d="M763 0H583V1147C540 1106 483 1064 413 1024C343 983 280 953 223 932V1106C324 1153 412 1210 487 1277C562 1344 615 1409 646 1472H763Z" fill="#111" stroke="#111" stroke-width="0.2"/><text x="55.12" y="405.40" font-size="11.0" fill="#111" stroke="#111" stroke-width="0.2">.</text><text x="58.17" y="405.40" font-size="11.0" fill="#111" stroke="#111" stroke-width="0.2">0</text>
<text x="49.00" y="489.00" font-size="11.0" fill="#111" stroke="#111" stroke-width="0.2">0</text><text x="55.12" y="489.00" font-size="11.0" fill="#111" stroke="#111" stroke-width="0.2">.</text><text x="58.17" y="489.00" font-size="11.0" fill="#111" stroke="#111" stroke-width="0.2">5</text>
<text x="49.00" y="569.70" font-size="11.0" fill="#111" stroke="#111" stroke-width="0.2">0</text><text x="55.12" y="569.70" font-size="11.0" fill="#111" stroke="#111" stroke-width="0.2">.</text><text x="58.17" y="569.70" font-size="11.0" fill="#111" stroke="#111" stroke-width="0.2">0</text>
<rect x="640.1" y="35.7" width="6.4" height="55.8" fill="#c4c4c4"/>
<rect x="456.4" y="90.3" width="190.1" height="1.7" fill="#cdcdcd"/>
<rect x="457.9" y="35.7" width="1.9" height="53.0" fill="#1c1c9c"/>
<rect x="457.9" y="87.7" width="172.0" height="1.0" fill="#5a5ad6"/>
<g transform="translate(0 87.90) scale(1 0.420) translate(0 -87.90)">
<polyline points="463.2,60.84 472.2,62.30 481.2,60.84 490.2,62.30 499.2,60.84 508.2,63.76 517.2,59.38 526.2,56.46 535.2,58.65 544.2,62.30 553.2,63.76 562.2,65.95 571.2,-30.46 580.2,5.33 589.2,18.48 598.2,39.66 607.2,60.84" fill="none" stroke="#2a2ac8" stroke-width="2.5" stroke-linejoin="round"/>
<polyline points="463.2,75.44 472.2,76.91 481.2,75.44 490.2,76.91 499.2,75.44 508.2,76.91 517.2,75.44 526.2,75.44 535.2,73.25 544.2,73.25 553.2,76.91 562.2,78.37 571.2,-4.16 580.2,29.43 589.2,39.66 598.2,56.46 607.2,73.25" fill="none" stroke="#2a2ac8" stroke-width="2.5" stroke-linejoin="round"/>
</g>
<polyline points="463.2,79.6 472.2,80.2 481.2,79.6 490.2,80.2 499.2,79.6 508.2,80.8 517.2,79.6 526.2,78.7 535.2,78.7 544.2,79.6 553.2,80.8 562.2,80.8 571.2,42.5 580.2,58.7 589.2,63.3 598.2,71.6 607.2,80.2" fill="none" stroke="#d02c2c" stroke-width="1.6" stroke-dasharray="3,1.5"/>
<path transform="translate(660.50 71.70) scale(0.01001 -0.01001)" d="M834 0H553V1059C450 963 329 892 190 846V1101C263 1125 343 1170 429 1236C515 1303 574 1380 606 1472H834Z" fill="#000"/>
<rect x="641.5" y="105.5" width="6.4" height="57.8" fill="#c4c4c4"/>
<rect x="455.2" y="162.1" width="192.7" height="1.7" fill="#cdcdcd"/>
<rect x="456.7" y="105.5" width="1.9" height="55.0" fill="#1c1c9c"/>
<rect x="456.7" y="159.5" width="174.6" height="1.0" fill="#5a5ad6"/>
<g transform="translate(0 159.70) scale(1 0.420) translate(0 -159.70)">
<polyline points="463.2,118.98 472.2,118.98 481.2,118.98 490.2,117.34 499.2,114.89 508.2,114.89 517.2,117.34 526.2,109.18 535.2,109.18 544.2,123.06 553.2,128.78 562.2,128.78 571.2,39.75 580.2,74.05 589.2,78.14 598.2,94.47 607.2,114.89" fill="none" stroke="#2a2ac8" stroke-width="2.5" stroke-linejoin="round"/>
<polyline points="463.2,147.57 472.2,139.40 481.2,131.23 490.2,136.95 499.2,139.40 508.2,136.95 517.2,139.40 526.2,133.68 535.2,135.31 544.2,145.12 553.2,150.02 562.2,150.02 571.2,52.00 580.2,98.56 589.2,102.64 598.2,118.98 607.2,147.57" fill="none" stroke="#2a2ac8" stroke-width="2.5" stroke-linejoin="round"/>
</g>
<polyline points="463.2,148.8 472.2,146.0 481.2,144.3 490.2,146.0 499.2,145.3 508.2,145.3 517.2,146.7 526.2,143.3 535.2,144.3 544.2,149.5 553.2,151.2 562.2,151.2 571.2,111.0 580.2,128.9 589.2,132.3 598.2,137.5 607.2,148.8" fill="none" stroke="#d02c2c" stroke-width="1.6" stroke-dasharray="3,1.5"/>
<text x="660.50" y="142.50" font-size="20.5" font-weight="bold" fill="#000">2</text>
<rect x="641.5" y="175.5" width="6.4" height="58.5" fill="#c4c4c4"/>
<rect x="455.2" y="232.8" width="192.7" height="1.7" fill="#cdcdcd"/>
<rect x="456.7" y="175.5" width="1.9" height="55.7" fill="#1c1c9c"/>
<rect x="456.7" y="230.2" width="174.6" height="1.0" fill="#5a5ad6"/>
<g transform="translate(0 230.40) scale(1 0.420) translate(0 -230.40)">
<polyline points="463.2,208.43 472.2,202.71 481.2,200.26 490.2,214.15 499.2,204.35 508.2,205.98 517.2,204.35 526.2,200.26 535.2,196.18 544.2,192.10 553.2,196.18 562.2,186.38 571.2,108.78 580.2,175.76 589.2,183.93 598.2,196.18 607.2,208.43" fill="none" stroke="#2a2ac8" stroke-width="2.5" stroke-linejoin="round"/>
<polyline points="463.2,224.77 472.2,224.77 481.2,220.68 490.2,219.05 499.2,216.60 508.2,222.32 517.2,219.05 526.2,216.60 535.2,214.15 544.2,212.52 553.2,212.52 562.2,227.22 571.2,118.58 580.2,183.93 589.2,196.18 598.2,205.98 607.2,216.60" fill="none" stroke="#2a2ac8" stroke-width="2.5" stroke-linejoin="round"/>
</g>
<polyline points="463.2,223.6 472.2,222.2 481.2,222.2 490.2,224.6 499.2,222.2 508.2,222.9 517.2,222.2 526.2,221.2 535.2,220.1 544.2,218.8 553.2,219.5 562.2,216.0 571.2,181.0 580.2,209.2 589.2,214.3 598.2,217.7 607.2,222.9" fill="none" stroke="#d02c2c" stroke-width="1.6" stroke-dasharray="3,1.5"/>
<text x="660.50" y="212.85" font-size="20.5" font-weight="bold" fill="#000">3</text>
<rect x="641.5" y="249.0" width="6.4" height="57.1" fill="#c4c4c4"/>
<rect x="455.2" y="304.9" width="192.7" height="1.7" fill="#cdcdcd"/>
<rect x="456.7" y="249.0" width="1.9" height="54.3" fill="#1c1c9c"/>
<rect x="456.7" y="302.3" width="174.6" height="1.0" fill="#5a5ad6"/>
<g transform="translate(0 302.50) scale(1 0.420) translate(0 -302.50)">
<polyline points="463.2,263.28 472.2,263.28 481.2,256.75 490.2,271.45 499.2,259.20 508.2,269.81 517.2,277.98 526.2,275.53 535.2,267.36 544.2,275.53 553.2,279.62 562.2,281.25 571.2,202.02 580.2,181.60 589.2,197.94 598.2,218.36 607.2,263.28" fill="none" stroke="#2a2ac8" stroke-width="2.5" stroke-linejoin="round"/>
<polyline points="463.2,275.53 472.2,275.53 481.2,271.45 490.2,275.53 499.2,281.25 508.2,281.25 517.2,282.07 526.2,283.70 535.2,286.15 544.2,289.42 553.2,294.32 562.2,294.32 571.2,218.36 580.2,193.85 589.2,210.19 598.2,234.69 607.2,271.45" fill="none" stroke="#2a2ac8" stroke-width="2.5" stroke-linejoin="round"/>
</g>
<polyline points="463.2,288.8 472.2,288.8 481.2,287.7 490.2,289.5 499.2,289.5 508.2,291.2 517.2,292.2 526.2,292.9 535.2,290.1 544.2,294.6 553.2,296.3 562.2,297.0 571.2,263.7 580.2,254.5 589.2,260.3 598.2,272.3 607.2,287.7" fill="none" stroke="#d02c2c" stroke-width="1.6" stroke-dasharray="3,1.5"/>
<text x="660.50" y="285.65" font-size="20.5" font-weight="bold" fill="#000">4</text>
<rect x="641.5" y="319.6" width="6.4" height="56.8" fill="#c4c4c4"/>
<rect x="455.2" y="375.2" width="192.7" height="1.7" fill="#cdcdcd"/>
<rect x="456.7" y="319.6" width="1.9" height="54.0" fill="#1c1c9c"/>
<rect x="456.7" y="372.6" width="174.6" height="1.0" fill="#5a5ad6"/>
<g transform="translate(0 372.80) scale(1 0.420) translate(0 -372.80)">
<polyline points="463.2,317.21 472.2,329.46 481.2,321.29 490.2,335.99 499.2,335.99 508.2,335.99 517.2,341.71 526.2,345.80 535.2,344.16 544.2,353.96 553.2,355.60 562.2,345.80 571.2,251.86 580.2,268.20 589.2,288.62 598.2,295.15 607.2,302.51" fill="none" stroke="#2a2ac8" stroke-width="2.5" stroke-linejoin="round"/>
<polyline points="463.2,325.38 472.2,341.71 481.2,329.46 490.2,345.80 499.2,347.43 508.2,341.71 517.2,349.88 526.2,349.88 535.2,358.05 544.2,362.13 553.2,366.22 562.2,368.67 571.2,288.62 580.2,300.87 589.2,313.12 598.2,325.38 607.2,333.54" fill="none" stroke="#2a2ac8" stroke-width="2.5" stroke-linejoin="round"/>
</g>
<polyline points="463.2,350.5 472.2,357.3 481.2,352.9 490.2,359.7 499.2,359.7 508.2,358.0 517.2,361.5 526.2,361.5 535.2,364.2 544.2,366.6 553.2,368.3 562.2,363.2 571.2,330.6 580.2,335.7 589.2,340.9 598.2,344.3 607.2,350.5" fill="none" stroke="#d02c2c" stroke-width="1.6" stroke-dasharray="3,1.5"/>
<text x="660.50" y="356.10" font-size="20.5" font-weight="bold" fill="#000">5</text>
<rect x="641.5" y="389.6" width="6.4" height="58.5" fill="#c4c4c4"/>
<rect x="455.2" y="446.9" width="192.7" height="1.7" fill="#cdcdcd"/>
<rect x="456.7" y="389.6" width="1.9" height="55.7" fill="#1c1c9c"/>
<rect x="456.7" y="444.3" width="174.6" height="1.0" fill="#5a5ad6"/>
<g transform="translate(0 444.50) scale(1 0.420) translate(0 -444.50)">
<polyline points="463.2,414.19 472.2,403.58 481.2,407.66 490.2,406.03 499.2,414.19 508.2,419.91 517.2,425.63 526.2,424.00 535.2,419.91 544.2,415.83 553.2,414.19 562.2,407.66 571.2,319.45 580.2,350.49 589.2,352.12 598.2,338.23 607.2,346.40" fill="none" stroke="#2a2ac8" stroke-width="2.5" stroke-linejoin="round"/>
<polyline points="463.2,415.83 472.2,422.36 481.2,409.29 490.2,419.91 499.2,428.08 508.2,428.08 517.2,436.25 526.2,436.25 535.2,428.08 544.2,428.08 553.2,428.08 562.2,432.16 571.2,362.74 580.2,374.99 589.2,379.07 598.2,358.65 607.2,399.49" fill="none" stroke="#2a2ac8" stroke-width="2.5" stroke-linejoin="round"/>
</g>
<polyline points="463.2,431.8 472.2,430.7 481.2,429.0 490.2,431.8 499.2,434.2 508.2,435.9 517.2,438.6 526.2,438.6 535.2,435.9 544.2,435.2 553.2,435.2 562.2,434.2 571.2,402.3 580.2,406.7 589.2,407.8 598.2,403.3 607.2,415.3" fill="none" stroke="#d02c2c" stroke-width="1.6" stroke-dasharray="3,1.5"/>
<text x="660.50" y="426.95" font-size="20.5" font-weight="bold" fill="#000">6</text>
<rect x="641.5" y="459.5" width="6.4" height="57.8" fill="#c4c4c4"/>
<rect x="455.2" y="516.1" width="192.7" height="1.7" fill="#cdcdcd"/>
<rect x="456.7" y="459.5" width="1.9" height="55.0" fill="#1c1c9c"/>
<rect x="456.7" y="513.5" width="174.6" height="1.0" fill="#5a5ad6"/>
<g transform="translate(0 513.70) scale(1 0.420) translate(0 -513.70)">
<polyline points="463.2,479.51 472.2,479.51 481.2,479.51 490.2,482.78 499.2,471.34 508.2,481.15 517.2,485.23 526.2,487.68 535.2,479.51 544.2,485.23 553.2,490.95 562.2,487.68 571.2,432.14 580.2,403.55 589.2,391.30 598.2,397.83 607.2,468.89" fill="none" stroke="#2a2ac8" stroke-width="2.5" stroke-linejoin="round"/>
<polyline points="463.2,490.95 472.2,495.85 481.2,493.40 490.2,495.85 499.2,499.12 508.2,495.85 517.2,495.85 526.2,499.12 535.2,497.48 544.2,501.57 553.2,505.65 562.2,505.65 571.2,456.64 580.2,428.05 589.2,411.72 598.2,422.34 607.2,489.31" fill="none" stroke="#2a2ac8" stroke-width="2.5" stroke-linejoin="round"/>
</g>
<polyline points="463.2,501.7 472.2,502.8 481.2,501.7 490.2,503.5 499.2,501.7 508.2,502.8 517.2,504.1 526.2,504.1 535.2,503.5 544.2,505.2 553.2,506.9 562.2,505.2 571.2,484.6 580.2,472.6 589.2,466.4 598.2,472.6 607.2,498.3" fill="none" stroke="#d02c2c" stroke-width="1.6" stroke-dasharray="3,1.5"/>
<text x="660.50" y="496.50" font-size="20.5" font-weight="bold" fill="#000">7</text>
<rect x="641.5" y="530.5" width="6.4" height="58.5" fill="#c4c4c4"/>
<rect x="455.2" y="587.8" width="192.7" height="1.7" fill="#cdcdcd"/>
<rect x="456.7" y="530.5" width="1.9" height="55.7" fill="#1c1c9c"/>
<rect x="456.7" y="585.2" width="174.6" height="1.0" fill="#5a5ad6"/>
<g transform="translate(0 585.40) scale(1 0.420) translate(0 -585.40)">
<polyline points="463.2,565.88 472.2,565.88 481.2,563.43 490.2,565.88 499.2,565.88 508.2,567.52 517.2,567.52 526.2,557.71 535.2,549.55 544.2,544.65 553.2,551.18 562.2,555.26 571.2,473.58 580.2,461.33 589.2,467.87 598.2,506.26 607.2,563.43" fill="none" stroke="#2a2ac8" stroke-width="2.5" stroke-linejoin="round"/>
<polyline points="463.2,575.68 472.2,577.32 481.2,575.68 490.2,575.68 499.2,575.68 508.2,574.05 517.2,577.32 526.2,575.68 535.2,574.05 544.2,571.60 553.2,571.60 562.2,571.60 571.2,498.09 580.2,492.37 589.2,494.00 598.2,534.84 607.2,575.68" fill="none" stroke="#2a2ac8" stroke-width="2.5" stroke-linejoin="round"/>
</g>
<polyline points="463.2,579.6 472.2,579.6 481.2,578.6 490.2,579.6 499.2,578.6 508.2,578.6 517.2,579.6 526.2,577.9 535.2,575.1 544.2,574.5 553.2,574.5 562.2,575.1 571.2,541.9 580.2,539.5 589.2,540.2 598.2,557.3 607.2,577.9" fill="none" stroke="#d02c2c" stroke-width="1.6" stroke-dasharray="3,1.5"/>
<text x="660.50" y="567.85" font-size="20.5" font-weight="bold" fill="#000">8</text>
<rect x="641.5" y="601.5" width="6.4" height="58.5" fill="#c4c4c4"/>
<rect x="455.2" y="658.8" width="192.7" height="1.7" fill="#cdcdcd"/>
<rect x="456.7" y="601.5" width="1.9" height="55.7" fill="#1c1c9c"/>
<rect x="456.7" y="656.2" width="174.6" height="1.0" fill="#5a5ad6"/>
<g transform="translate(0 656.40) scale(1 0.420) translate(0 -656.40)">
<polyline points="463.2,623.81 472.2,623.81 481.2,618.10 490.2,634.43 499.2,648.32 508.2,636.88 517.2,634.43 526.2,620.55 535.2,634.43 544.2,612.38 553.2,623.81 562.2,609.93 571.2,605.84 580.2,530.70 589.2,555.20 598.2,612.38 607.2,609.93" fill="none" stroke="#2a2ac8" stroke-width="3" stroke-linejoin="round"/>
</g>
<polyline points="463.2,642.7 472.2,642.7 481.2,640.3 490.2,647.2 499.2,653.0 508.2,648.2 517.2,647.2 526.2,641.3 535.2,647.2 544.2,637.9 553.2,642.7 562.2,636.9 571.2,635.2 580.2,603.6 589.2,613.9 598.2,637.9 607.2,636.9" fill="none" stroke="#e04848" stroke-width="1.2" stroke-dasharray="2,4"/>
<text x="660.50" y="638.85" font-size="20.5" font-weight="bold" fill="#000">9</text>
<rect x="641.5" y="672.6" width="6.4" height="57.4" fill="#c4c4c4"/>
<rect x="455.2" y="728.8" width="192.7" height="1.7" fill="#cdcdcd"/>
<rect x="456.7" y="672.6" width="1.9" height="54.6" fill="#1c1c9c"/>
<rect x="456.7" y="726.2" width="174.6" height="1.0" fill="#5a5ad6"/>
<g transform="translate(0 726.40) scale(1 0.420) translate(0 -726.40)">
<polyline points="463.2,682.38 472.2,671.76 481.2,688.10 490.2,690.55 499.2,690.55 508.2,692.18 517.2,692.18 526.2,690.55 535.2,690.55 544.2,700.35 553.2,700.35 562.2,696.26 571.2,671.76 580.2,659.51 589.2,657.87 598.2,602.33 607.2,675.84" fill="none" stroke="#2a2ac8" stroke-width="2.5" stroke-linejoin="round"/>
<polyline points="463.2,700.35 472.2,700.35 481.2,693.81 490.2,700.35 499.2,700.35 508.2,701.98 517.2,701.98 526.2,700.35 535.2,700.35 544.2,708.52 553.2,712.60 562.2,715.05 571.2,696.26 580.2,671.76 589.2,663.59 598.2,614.58 607.2,688.10" fill="none" stroke="#2a2ac8" stroke-width="2.5" stroke-linejoin="round"/>
</g>
<polyline points="463.2,710.3 472.2,712.0 481.2,707.9 490.2,712.7 499.2,712.7 508.2,713.7 517.2,713.7 526.2,712.7 535.2,712.7 544.2,717.2 553.2,718.2 562.2,717.2 571.2,708.6 580.2,701.0 589.2,698.3 598.2,677.0 607.2,706.9" fill="none" stroke="#d02c2c" stroke-width="1.6" stroke-dasharray="3,1.5"/>
<path transform="translate(654.80 709.40) scale(0.01001 -0.01001)" d="M834 0H553V1059C450 963 329 892 190 846V1101C263 1125 343 1170 429 1236C515 1303 574 1380 606 1472H834Z" fill="#000"/><text x="666.20" y="709.40" font-size="20.5" font-weight="bold" fill="#000">0</text>
<line x1="478.6" y1="33.0" x2="478.6" y2="755.0" stroke="#3a3a3a" stroke-width="0.9" stroke-dasharray="1,1"/>
<line x1="539.4" y1="33.0" x2="539.4" y2="755.0" stroke="#3a3a3a" stroke-width="0.9" stroke-dasharray="1,1"/>
<line x1="565.9" y1="33.0" x2="565.9" y2="755.0" stroke="#3a3a3a" stroke-width="0.9" stroke-dasharray="1,1"/>
<text x="460" y="754.0" font-size="19" fill="#000">vir</text><text x="492" y="754.0" font-size="19" fill="#000">preg</text><text x="541" y="754.0" font-size="19" fill="#000">lac</text><text x="589" y="754.0" font-size="19" fill="#000">inv</text>
<text x="21.5" y="802.7" font-size="17" font-weight="bold" letter-spacing="-0.5" fill="#000">(b)</text>
<g filter="url(#softb)">
<rect x="131.50" y="836.00" width="11.80" height="7.48" fill="#ffd400"/>
<rect x="142.50" y="836.00" width="11.80" height="7.48" fill="#e8e828"/>
<rect x="153.50" y="836.00" width="11.80" height="7.48" fill="#ffea10"/>
<rect x="164.50" y="836.00" width="11.80" height="7.48" fill="#c8c44c"/>
<rect x="175.50" y="836.00" width="11.80" height="7.48" fill="#c8c44c"/>
<rect x="186.50" y="836.00" width="11.80" height="7.48" fill="#ffea10"/>
<rect x="197.50" y="836.00" width="11.80" height="7.48" fill="#ffd400"/>
<rect x="208.50" y="836.00" width="11.80" height="7.48" fill="#ffd400"/>
<rect x="219.50" y="836.00" width="11.80" height="7.48" fill="#ffd400"/>
<rect x="230.50" y="836.00" width="11.80" height="7.48" fill="#ffd400"/>
<rect x="241.50" y="836.00" width="11.80" height="7.48" fill="#ffd400"/>
<rect x="252.50" y="836.00" width="11.80" height="7.48" fill="#ffd400"/>
<rect x="263.50" y="836.00" width="11.80" height="7.48" fill="#aeaa60"/>
<rect x="274.50" y="836.00" width="11.80" height="7.48" fill="#c8c44c"/>
<rect x="285.50" y="836.00" width="11.80" height="7.48" fill="#aeaa60"/>
<rect x="296.50" y="836.00" width="11.80" height="7.48" fill="#c8c44c"/>
<rect x="307.50" y="836.00" width="11.00" height="7.48" fill="#ffb600"/>
<rect x="131.50" y="842.68" width="11.80" height="7.48" fill="#ffd400"/>
<rect x="142.50" y="842.68" width="11.80" height="7.48" fill="#e8e828"/>
<rect x="153.50" y="842.68" width="11.80" height="7.48" fill="#ffd400"/>
<rect x="164.50" y="842.68" width="11.80" height="7.48" fill="#e8e828"/>
<rect x="175.50" y="842.68" width="11.80" height="7.48" fill="#e8e828"/>
<rect x="186.50" y="842.68" width="11.80" height="7.48" fill="#ffea10"/>
<rect x="197.50" y="842.68" width="11.80" height="7.48" fill="#ffd400"/>
<rect x="208.50" y="842.68" width="11.80" height="7.48" fill="#ffd400"/>
<rect x="219.50" y="842.68" width="11.80" height="7.48" fill="#ffd400"/>
<rect x="230.50" y="842.68" width="11.80" height="7.48" fill="#ffd400"/>
<rect x="241.50" y="842.68" width="11.80" height="7.48" fill="#ffd400"/>
<rect x="252.50" y="842.68" width="11.80" height="7.48" fill="#e8e828"/>
<rect x="263.50" y="842.68" width="11.80" height="7.48" fill="#aeaa60"/>
<rect x="274.50" y="842.68" width="11.80" height="7.48" fill="#c8c44c"/>
<rect x="285.50" y="842.68" width="11.80" height="7.48" fill="#aeaa60"/>
<rect x="296.50" y="842.68" width="11.80" height="7.48" fill="#c8c44c"/>
<rect x="307.50" y="842.68" width="11.00" height="7.48" fill="#ffb600"/>
<rect x="131.50" y="849.36" width="11.80" height="7.48" fill="#ffd400"/>
<rect x="142.50" y="849.36" width="11.80" height="7.48" fill="#e8e828"/>
<rect x="153.50" y="849.36" width="11.80" height="7.48" fill="#ffea10"/>
<rect x="164.50" y="849.36" width="11.80" height="7.48" fill="#c8c44c"/>
<rect x="175.50" y="849.36" width="11.80" height="7.48" fill="#aeaa60"/>
<rect x="186.50" y="849.36" width="11.80" height="7.48" fill="#ffea10"/>
<rect x="197.50" y="849.36" width="11.80" height="7.48" fill="#ffd400"/>
<rect x="208.50" y="849.36" width="11.80" height="7.48" fill="#ffd400"/>
<rect x="219.50" y="849.36" width="11.80" height="7.48" fill="#ffea10"/>
<rect x="230.50" y="849.36" width="11.80" height="7.48" fill="#ffea10"/>
<rect x="241.50" y="849.36" width="11.80" height="7.48" fill="#ffea10"/>
<rect x="252.50" y="849.36" width="11.80" height="7.48" fill="#ffff00"/>
<rect x="263.50" y="849.36" width="11.80" height="7.48" fill="#8c8884"/>
<rect x="274.50" y="849.36" width="11.80" height="7.48" fill="#5c5cb0"/>
<rect x="285.50" y="849.36" width="11.80" height="7.48" fill="#8c8884"/>
<rect x="296.50" y="849.36" width="11.80" height="7.48" fill="#e8e828"/>
<rect x="307.50" y="849.36" width="11.00" height="7.48" fill="#ffd400"/>
<rect x="131.50" y="856.04" width="11.80" height="7.48" fill="#ffea10"/>
<rect x="142.50" y="856.04" width="11.80" height="7.48" fill="#c8c44c"/>
<rect x="153.50" y="856.04" width="11.80" height="7.48" fill="#e8e828"/>
<rect x="164.50" y="856.04" width="11.80" height="7.48" fill="#aeaa60"/>
<rect x="175.50" y="856.04" width="11.80" height="7.48" fill="#aeaa60"/>
<rect x="186.50" y="856.04" width="11.80" height="7.48" fill="#ffd400"/>
<rect x="197.50" y="856.04" width="11.80" height="7.48" fill="#ffd400"/>
<rect x="208.50" y="856.04" width="11.80" height="7.48" fill="#ffd400"/>
<rect x="219.50" y="856.04" width="11.80" height="7.48" fill="#ffea10"/>
<rect x="230.50" y="856.04" width="11.80" height="7.48" fill="#ffea10"/>
<rect x="241.50" y="856.04" width="11.80" height="7.48" fill="#ffd400"/>
<rect x="252.50" y="856.04" width="11.80" height="7.48" fill="#ffff00"/>
<rect x="263.50" y="856.04" width="11.80" height="7.48" fill="#c8c44c"/>
<rect x="274.50" y="856.04" width="11.80" height="7.48" fill="#8c8884"/>
<rect x="285.50" y="856.04" width="11.80" height="7.48" fill="#8c8884"/>
<rect x="296.50" y="856.04" width="11.80" height="7.48" fill="#aeaa60"/>
<rect x="307.50" y="856.04" width="11.00" height="7.48" fill="#ffd400"/>
<rect x="131.50" y="862.72" width="11.80" height="7.48" fill="#ffea10"/>
<rect x="142.50" y="862.72" width="11.80" height="7.48" fill="#ffd400"/>
<rect x="153.50" y="862.72" width="11.80" height="7.48" fill="#ffff00"/>
<rect x="164.50" y="862.72" width="11.80" height="7.48" fill="#e8e828"/>
<rect x="175.50" y="862.72" width="11.80" height="7.48" fill="#c8c44c"/>
<rect x="186.50" y="862.72" width="11.80" height="7.48" fill="#c8c44c"/>
<rect x="197.50" y="862.72" width="11.80" height="7.48" fill="#ffd400"/>
<rect x="208.50" y="862.72" width="11.80" height="7.48" fill="#ffd400"/>
<rect x="219.50" y="862.72" width="11.80" height="7.48" fill="#ffea10"/>
<rect x="230.50" y="862.72" width="11.80" height="7.48" fill="#ffea10"/>
<rect x="241.50" y="862.72" width="11.80" height="7.48" fill="#ffd400"/>
<rect x="252.50" y="862.72" width="11.80" height="7.48" fill="#e8e828"/>
<rect x="263.50" y="862.72" width="11.80" height="7.48" fill="#c8c44c"/>
<rect x="274.50" y="862.72" width="11.80" height="7.48" fill="#5c5cb0"/>
<rect x="285.50" y="862.72" width="11.80" height="7.48" fill="#aeaa60"/>
<rect x="296.50" y="862.72" width="11.80" height="7.48" fill="#c8c44c"/>
<rect x="307.50" y="862.72" width="11.00" height="7.48" fill="#ffd400"/>
<rect x="131.50" y="869.40" width="11.80" height="7.48" fill="#ffea10"/>
<rect x="142.50" y="869.40" width="11.80" height="7.48" fill="#ffea10"/>
<rect x="153.50" y="869.40" width="11.80" height="7.48" fill="#ffff00"/>
<rect x="164.50" y="869.40" width="11.80" height="7.48" fill="#aeaa60"/>
<rect x="175.50" y="869.40" width="11.80" height="7.48" fill="#c8c44c"/>
<rect x="186.50" y="869.40" width="11.80" height="7.48" fill="#ffea10"/>
<rect x="197.50" y="869.40" width="11.80" height="7.48" fill="#ffff00"/>
<rect x="208.50" y="869.40" width="11.80" height="7.48" fill="#ffd400"/>
<rect x="219.50" y="869.40" width="11.80" height="7.48" fill="#c8c44c"/>
<rect x="230.50" y="869.40" width="11.80" height="7.48" fill="#ffd400"/>
<rect x="241.50" y="869.40" width="11.80" height="7.48" fill="#ffd400"/>
<rect x="252.50" y="869.40" width="11.80" height="7.48" fill="#ffd400"/>
<rect x="263.50" y="869.40" width="11.80" height="7.48" fill="#aeaa60"/>
<rect x="274.50" y="869.40" width="11.80" height="7.48" fill="#8c8884"/>
<rect x="285.50" y="869.40" width="11.80" height="7.48" fill="#c8c44c"/>
<rect x="296.50" y="869.40" width="11.80" height="7.48" fill="#ffff00"/>
<rect x="307.50" y="869.40" width="11.00" height="7.48" fill="#ffb600"/>
<rect x="131.50" y="876.08" width="11.80" height="7.48" fill="#ffb600"/>
<rect x="142.50" y="876.08" width="11.80" height="7.48" fill="#ffd400"/>
<rect x="153.50" y="876.08" width="11.80" height="7.48" fill="#ffd400"/>
<rect x="164.50" y="876.08" width="11.80" height="7.48" fill="#ffff00"/>
<rect x="175.50" y="876.08" width="11.80" height="7.48" fill="#aeaa60"/>
<rect x="186.50" y="876.08" width="11.80" height="7.48" fill="#ffd400"/>
<rect x="197.50" y="876.08" width="11.80" height="7.48" fill="#ffd400"/>
<rect x="208.50" y="876.08" width="11.80" height="7.48" fill="#ffea10"/>
<rect x="219.50" y="876.08" width="11.80" height="7.48" fill="#e8e828"/>
<rect x="230.50" y="876.08" width="11.80" height="7.48" fill="#ffea10"/>
<rect x="241.50" y="876.08" width="11.80" height="7.48" fill="#c8c44c"/>
<rect x="252.50" y="876.08" width="11.80" height="7.48" fill="#ffff00"/>
<rect x="263.50" y="876.08" width="11.80" height="7.48" fill="#5c5cb0"/>
<rect x="274.50" y="876.08" width="11.80" height="7.48" fill="#aeaa60"/>
<rect x="285.50" y="876.08" width="11.80" height="7.48" fill="#aeaa60"/>
<rect x="296.50" y="876.08" width="11.80" height="7.48" fill="#aeaa60"/>
<rect x="307.50" y="876.08" width="11.00" height="7.48" fill="#ffb600"/>
<rect x="131.50" y="882.76" width="11.80" height="7.48" fill="#ffb600"/>
<rect x="142.50" y="882.76" width="11.80" height="7.48" fill="#ffd400"/>
<rect x="153.50" y="882.76" width="11.80" height="7.48" fill="#ffd400"/>
<rect x="164.50" y="882.76" width="11.80" height="7.48" fill="#ffff00"/>
<rect x="175.50" y="882.76" width="11.80" height="7.48" fill="#c8c44c"/>
<rect x="186.50" y="882.76" width="11.80" height="7.48" fill="#ffd400"/>
<rect x="197.50" y="882.76" width="11.80" height="7.48" fill="#ffd400"/>
<rect x="208.50" y="882.76" width="11.80" height="7.48" fill="#ffff00"/>
<rect x="219.50" y="882.76" width="11.80" height="7.48" fill="#c8c44c"/>
<rect x="230.50" y="882.76" width="11.80" height="7.48" fill="#ffff00"/>
<rect x="241.50" y="882.76" width="11.80" height="7.48" fill="#ffea10"/>
<rect x="252.50" y="882.76" width="11.80" height="7.48" fill="#ffff00"/>
<rect x="263.50" y="882.76" width="11.80" height="7.48" fill="#2020e0"/>
<rect x="274.50" y="882.76" width="11.80" height="7.48" fill="#5c5cb0"/>
<rect x="285.50" y="882.76" width="11.80" height="7.48" fill="#8c8884"/>
<rect x="296.50" y="882.76" width="11.80" height="7.48" fill="#e8e828"/>
<rect x="307.50" y="882.76" width="11.00" height="7.48" fill="#ffd400"/>
<rect x="131.50" y="889.44" width="11.80" height="7.48" fill="#ffd400"/>
<rect x="142.50" y="889.44" width="11.80" height="7.48" fill="#ffd400"/>
<rect x="153.50" y="889.44" width="11.80" height="7.48" fill="#ffb600"/>
<rect x="164.50" y="889.44" width="11.80" height="7.48" fill="#aeaa60"/>
<rect x="175.50" y="889.44" width="11.80" height="7.48" fill="#aeaa60"/>
<rect x="186.50" y="889.44" width="11.80" height="7.48" fill="#ffd400"/>
<rect x="197.50" y="889.44" width="11.80" height="7.48" fill="#ffd400"/>
<rect x="208.50" y="889.44" width="11.80" height="7.48" fill="#ffd400"/>
<rect x="219.50" y="889.44" width="11.80" height="7.48" fill="#ffea10"/>
<rect x="230.50" y="889.44" width="11.80" height="7.48" fill="#ffea10"/>
<rect x="241.50" y="889.44" width="11.80" height="7.48" fill="#ffea10"/>
<rect x="252.50" y="889.44" width="11.80" height="7.48" fill="#ffd400"/>
<rect x="263.50" y="889.44" width="11.80" height="7.48" fill="#aeaa60"/>
<rect x="274.50" y="889.44" width="11.80" height="7.48" fill="#c8c44c"/>
<rect x="285.50" y="889.44" width="11.80" height="7.48" fill="#8c8884"/>
<rect x="296.50" y="889.44" width="11.80" height="7.48" fill="#e8e828"/>
<rect x="307.50" y="889.44" width="11.00" height="7.48" fill="#ffb600"/>
<rect x="131.50" y="896.12" width="11.80" height="7.48" fill="#e8e828"/>
<rect x="142.50" y="896.12" width="11.80" height="7.48" fill="#ffd400"/>
<rect x="153.50" y="896.12" width="11.80" height="7.48" fill="#ffd400"/>
<rect x="164.50" y="896.12" width="11.80" height="7.48" fill="#ffff00"/>
<rect x="175.50" y="896.12" width="11.80" height="7.48" fill="#c8c44c"/>
<rect x="186.50" y="896.12" width="11.80" height="7.48" fill="#ffea10"/>
<rect x="197.50" y="896.12" width="11.80" height="7.48" fill="#ffd400"/>
<rect x="208.50" y="896.12" width="11.80" height="7.48" fill="#ffd400"/>
<rect x="219.50" y="896.12" width="11.80" height="7.48" fill="#ffea10"/>
<rect x="230.50" y="896.12" width="11.80" height="7.48" fill="#ffea10"/>
<rect x="241.50" y="896.12" width="11.80" height="7.48" fill="#e8e828"/>
<rect x="252.50" y="896.12" width="11.80" height="7.48" fill="#ffea10"/>
<rect x="263.50" y="896.12" width="11.80" height="7.48" fill="#aeaa60"/>
<rect x="274.50" y="896.12" width="11.80" height="7.48" fill="#c8c44c"/>
<rect x="285.50" y="896.12" width="11.80" height="7.48" fill="#c8c44c"/>
<rect x="296.50" y="896.12" width="11.80" height="7.48" fill="#e8e828"/>
<rect x="307.50" y="896.12" width="11.00" height="7.48" fill="#ffd400"/>
<rect x="131.50" y="902.80" width="11.80" height="7.48" fill="#e8e828"/>
<rect x="142.50" y="902.80" width="11.80" height="7.48" fill="#ffd400"/>
<rect x="153.50" y="902.80" width="11.80" height="7.48" fill="#ffd400"/>
<rect x="164.50" y="902.80" width="11.80" height="7.48" fill="#ffff00"/>
<rect x="175.50" y="902.80" width="11.80" height="7.48" fill="#aeaa60"/>
<rect x="186.50" y="902.80" width="11.80" height="7.48" fill="#ffea10"/>
<rect x="197.50" y="902.80" width="11.80" height="7.48" fill="#ffd400"/>
<rect x="208.50" y="902.80" width="11.80" height="7.48" fill="#ffd400"/>
<rect x="219.50" y="902.80" width="11.80" height="7.48" fill="#ffd400"/>
<rect x="230.50" y="902.80" width="11.80" height="7.48" fill="#ffea10"/>
<rect x="241.50" y="902.80" width="11.80" height="7.48" fill="#e8e828"/>
<rect x="252.50" y="902.80" width="11.80" height="7.48" fill="#c8c44c"/>
<rect x="263.50" y="902.80" width="11.80" height="7.48" fill="#5c5cb0"/>
<rect x="274.50" y="902.80" width="11.80" height="7.48" fill="#aeaa60"/>
<rect x="285.50" y="902.80" width="11.80" height="7.48" fill="#aeaa60"/>
<rect x="296.50" y="902.80" width="11.80" height="7.48" fill="#c8c44c"/>
<rect x="307.50" y="902.80" width="11.00" height="7.48" fill="#ffd400"/>
<rect x="131.50" y="909.48" width="11.80" height="7.48" fill="#ffd400"/>
<rect x="142.50" y="909.48" width="11.80" height="7.48" fill="#ffb600"/>
<rect x="153.50" y="909.48" width="11.80" height="7.48" fill="#ffb600"/>
<rect x="164.50" y="909.48" width="11.80" height="7.48" fill="#ffd400"/>
<rect x="175.50" y="909.48" width="11.80" height="7.48" fill="#ffd400"/>
<rect x="186.50" y="909.48" width="11.80" height="7.48" fill="#ffea10"/>
<rect x="197.50" y="909.48" width="11.80" height="7.48" fill="#ffea10"/>
<rect x="208.50" y="909.48" width="11.80" height="7.48" fill="#e8e828"/>
<rect x="219.50" y="909.48" width="11.80" height="7.48" fill="#c8c44c"/>
<rect x="230.50" y="909.48" width="11.80" height="7.48" fill="#ffd400"/>
<rect x="241.50" y="909.48" width="11.80" height="7.48" fill="#ffd400"/>
<rect x="252.50" y="909.48" width="11.80" height="7.48" fill="#ffea10"/>
<rect x="263.50" y="909.48" width="11.80" height="7.48" fill="#2020e0"/>
<rect x="274.50" y="909.48" width="11.80" height="7.48" fill="#2020e0"/>
<rect x="285.50" y="909.48" width="11.80" height="7.48" fill="#8c8884"/>
<rect x="296.50" y="909.48" width="11.80" height="7.48" fill="#aeaa60"/>
<rect x="307.50" y="909.48" width="11.00" height="7.48" fill="#ffd400"/>
<rect x="131.50" y="916.16" width="11.80" height="7.48" fill="#ffd400"/>
<rect x="142.50" y="916.16" width="11.80" height="7.48" fill="#ffea10"/>
<rect x="153.50" y="916.16" width="11.80" height="7.48" fill="#ffea10"/>
<rect x="164.50" y="916.16" width="11.80" height="7.48" fill="#ffea10"/>
<rect x="175.50" y="916.16" width="11.80" height="7.48" fill="#ffd400"/>
<rect x="186.50" y="916.16" width="11.80" height="7.48" fill="#ffea10"/>
<rect x="197.50" y="916.16" width="11.80" height="7.48" fill="#ffff00"/>
<rect x="208.50" y="916.16" width="11.80" height="7.48" fill="#e8e828"/>
<rect x="219.50" y="916.16" width="11.80" height="7.48" fill="#ffea10"/>
<rect x="230.50" y="916.16" width="11.80" height="7.48" fill="#ffff00"/>
<rect x="241.50" y="916.16" width="11.80" height="7.48" fill="#ffd400"/>
<rect x="252.50" y="916.16" width="11.80" height="7.48" fill="#ffd400"/>
<rect x="263.50" y="916.16" width="11.80" height="7.48" fill="#2020e0"/>
<rect x="274.50" y="916.16" width="11.80" height="7.48" fill="#8c8884"/>
<rect x="285.50" y="916.16" width="11.80" height="7.48" fill="#8c8884"/>
<rect x="296.50" y="916.16" width="11.80" height="7.48" fill="#e8e828"/>
<rect x="307.50" y="916.16" width="11.00" height="7.48" fill="#ffd400"/>
<rect x="131.50" y="922.84" width="11.80" height="7.48" fill="#ffea10"/>
<rect x="142.50" y="922.84" width="11.80" height="7.48" fill="#ffd400"/>
<rect x="153.50" y="922.84" width="11.80" height="7.48" fill="#ffd400"/>
<rect x="164.50" y="922.84" width="11.80" height="7.48" fill="#ffd400"/>
<rect x="175.50" y="922.84" width="11.80" height="7.48" fill="#c8c44c"/>
<rect x="186.50" y="922.84" width="11.80" height="7.48" fill="#ffd400"/>
<rect x="197.50" y="922.84" width="11.80" height="7.48" fill="#ffff00"/>
<rect x="208.50" y="922.84" width="11.80" height="7.48" fill="#ffd400"/>
<rect x="219.50" y="922.84" width="11.80" height="7.48" fill="#ffd400"/>
<rect x="230.50" y="922.84" width="11.80" height="7.48" fill="#ffd400"/>
<rect x="241.50" y="922.84" width="11.80" height="7.48" fill="#ffff00"/>
<rect x="252.50" y="922.84" width="11.80" height="7.48" fill="#aeaa60"/>
<rect x="263.50" y="922.84" width="11.80" height="7.48" fill="#5c5cb0"/>
<rect x="274.50" y="922.84" width="11.80" height="7.48" fill="#e8e828"/>
<rect x="285.50" y="922.84" width="11.80" height="7.48" fill="#e8e828"/>
<rect x="296.50" y="922.84" width="11.80" height="7.48" fill="#aeaa60"/>
<rect x="307.50" y="922.84" width="11.00" height="7.48" fill="#ffff00"/>
<rect x="131.50" y="929.52" width="11.80" height="7.48" fill="#ffea10"/>
<rect x="142.50" y="929.52" width="11.80" height="7.48" fill="#ffea10"/>
<rect x="153.50" y="929.52" width="11.80" height="7.48" fill="#ffd400"/>
<rect x="164.50" y="929.52" width="11.80" height="7.48" fill="#ffd400"/>
<rect x="175.50" y="929.52" width="11.80" height="7.48" fill="#ffd400"/>
<rect x="186.50" y="929.52" width="11.80" height="7.48" fill="#ffd400"/>
<rect x="197.50" y="929.52" width="11.80" height="7.48" fill="#ffea10"/>
<rect x="208.50" y="929.52" width="11.80" height="7.48" fill="#ffea10"/>
<rect x="219.50" y="929.52" width="11.80" height="7.48" fill="#ffea10"/>
<rect x="230.50" y="929.52" width="11.80" height="7.48" fill="#ffd400"/>
<rect x="241.50" y="929.52" width="11.80" height="7.48" fill="#ffd400"/>
<rect x="252.50" y="929.52" width="11.80" height="7.48" fill="#aeaa60"/>
<rect x="263.50" y="929.52" width="11.80" height="7.48" fill="#5c5cb0"/>
<rect x="274.50" y="929.52" width="11.80" height="7.48" fill="#8c8884"/>
<rect x="285.50" y="929.52" width="11.80" height="7.48" fill="#ffff00"/>
<rect x="296.50" y="929.52" width="11.80" height="7.48" fill="#ffff00"/>
<rect x="307.50" y="929.52" width="11.00" height="7.48" fill="#ffd400"/>
<rect x="131.50" y="936.20" width="11.80" height="6.68" fill="#ffd400"/>
<rect x="142.50" y="936.20" width="11.80" height="6.68" fill="#e8e828"/>
<rect x="153.50" y="936.20" width="11.80" height="6.68" fill="#c8c44c"/>
<rect x="164.50" y="936.20" width="11.80" height="6.68" fill="#ffea10"/>
<rect x="175.50" y="936.20" width="11.80" height="6.68" fill="#ffff00"/>
<rect x="186.50" y="936.20" width="11.80" height="6.68" fill="#ffd400"/>
<rect x="197.50" y="936.20" width="11.80" height="6.68" fill="#ffb600"/>
<rect x="208.50" y="936.20" width="11.80" height="6.68" fill="#ffb600"/>
<rect x="219.50" y="936.20" width="11.80" height="6.68" fill="#ffd400"/>
<rect x="230.50" y="936.20" width="11.80" height="6.68" fill="#ffea10"/>
<rect x="241.50" y="936.20" width="11.80" height="6.68" fill="#ffd400"/>
<rect x="252.50" y="936.20" width="11.80" height="6.68" fill="#ffea10"/>
<rect x="263.50" y="936.20" width="11.80" height="6.68" fill="#8c8884"/>
<rect x="274.50" y="936.20" width="11.80" height="6.68" fill="#aeaa60"/>
<rect x="285.50" y="936.20" width="11.80" height="6.68" fill="#aeaa60"/>
<rect x="296.50" y="936.20" width="11.80" height="6.68" fill="#e8e828"/>
<rect x="307.50" y="936.20" width="11.00" height="6.68" fill="#ffd400"/>
</g>
<text transform="translate(141.60 833.20) rotate(-90)" font-size="10.4" fill="#000" stroke="#000" stroke-width="0.2">V10</text>
<text transform="translate(152.60 833.20) rotate(-90)" font-size="10.4" fill="#000" stroke="#000" stroke-width="0.2">V12</text>
<text transform="translate(163.60 833.20) rotate(-90)" font-size="10.4" fill="#000" stroke="#000" stroke-width="0.2">P1</text>
<text transform="translate(174.60 833.20) rotate(-90)" font-size="10.4" fill="#000" stroke="#000" stroke-width="0.2">P2</text>
<text transform="translate(185.60 833.20) rotate(-90)" font-size="10.4" fill="#000" stroke="#000" stroke-width="0.2">P3</text>
<text transform="translate(196.60 833.20) rotate(-90)" font-size="10.4" fill="#000" stroke="#000" stroke-width="0.2">P8.5</text>
<text transform="translate(207.60 833.20) rotate(-90)" font-size="10.4" fill="#000" stroke="#000" stroke-width="0.2">P12.5</text>
<text transform="translate(218.60 833.20) rotate(-90)" font-size="10.4" fill="#000" stroke="#000" stroke-width="0.2">P14.5</text>
<text transform="translate(229.60 833.20) rotate(-90)" font-size="10.4" fill="#000" stroke="#000" stroke-width="0.2">P17.5</text>
<text transform="translate(240.60 833.20) rotate(-90)" font-size="10.4" fill="#000" stroke="#000" stroke-width="0.2">Lac1</text>
<text transform="translate(251.60 833.20) rotate(-90)" font-size="10.4" fill="#000" stroke="#000" stroke-width="0.2">Lac3</text>
<text transform="translate(262.60 833.20) rotate(-90)" font-size="10.4" fill="#000" stroke="#000" stroke-width="0.2">Lac7</text>
<text transform="translate(273.60 833.20) rotate(-90)" font-size="10.4" fill="#000" stroke="#000" stroke-width="0.2">Inv1</text>
<text transform="translate(284.60 833.20) rotate(-90)" font-size="10.4" fill="#000" stroke="#000" stroke-width="0.2">Inv2</text>
<text transform="translate(295.60 833.20) rotate(-90)" font-size="10.4" fill="#000" stroke="#000" stroke-width="0.2">Inv3</text>
<text transform="translate(306.60 833.20) rotate(-90)" font-size="10.4" fill="#000" stroke="#000" stroke-width="0.2">Inv4</text>
<text transform="translate(317.60 833.20) rotate(-90)" font-size="10.4" fill="#000" stroke="#000" stroke-width="0.2">Inv20</text>
<path d="M99.20 839.34L131.50 839.34M99.20 846.02L131.50 846.02M99.20 852.70L131.50 852.70M99.20 839.34L99.20 852.70M93.00 846.02L99.20 846.02M93.00 859.38L131.50 859.38M93.00 866.06L131.50 866.06M93.00 846.02L93.00 866.06M86.40 856.04L93.00 856.04M86.40 872.74L131.50 872.74M103.50 879.42L131.50 879.42M103.50 886.10L131.50 886.10M103.50 879.42L103.50 886.10M92.30 882.76L103.50 882.76M92.30 892.78L131.50 892.78M98.50 899.46L131.50 899.46M98.50 906.14L131.50 906.14M98.50 899.46L98.50 906.14M92.30 902.80L98.50 902.80M92.30 882.76L92.30 902.80M86.40 892.78L92.30 892.78M86.40 912.82L131.50 912.82M86.40 919.50L131.50 919.50M92.30 926.18L131.50 926.18M92.30 932.86L131.50 932.86M92.30 926.18L92.30 932.86M86.40 929.52L92.30 929.52M86.40 939.54L131.50 939.54M86.40 856.04L86.40 939.54M84.60 889.50L86.40 889.50" stroke="#4a4a4a" stroke-width="1" fill="none"/>
<text x="323.9" y="841.34" font-size="6.1" fill="#1a1a1a" stroke="#1a1a1a" stroke-width="0.12">101580_at</text>
<text x="323.9" y="848.05" font-size="6.1" fill="#1a1a1a" stroke="#1a1a1a" stroke-width="0.12">92587_at</text>
<text x="323.9" y="854.77" font-size="6.1" fill="#1a1a1a" stroke="#1a1a1a" stroke-width="0.12">160091_at</text>
<text x="323.9" y="861.48" font-size="6.1" fill="#1a1a1a" stroke="#1a1a1a" stroke-width="0.12">160385_at</text>
<text x="323.9" y="868.19" font-size="6.1" fill="#1a1a1a" stroke="#1a1a1a" stroke-width="0.12">160184_at</text>
<text x="323.9" y="874.91" font-size="6.1" fill="#1a1a1a" stroke="#1a1a1a" stroke-width="0.12">162077_f_at</text>
<text x="323.9" y="881.62" font-size="6.1" fill="#1a1a1a" stroke="#1a1a1a" stroke-width="0.12">93332_at</text>
<text x="323.9" y="888.33" font-size="6.1" fill="#1a1a1a" stroke="#1a1a1a" stroke-width="0.12">95611_at</text>
<text x="323.9" y="895.05" font-size="6.1" fill="#1a1a1a" stroke="#1a1a1a" stroke-width="0.12">94966_at</text>
<text x="323.9" y="901.76" font-size="6.1" fill="#1a1a1a" stroke="#1a1a1a" stroke-width="0.12">95053_s_at</text>
<text x="323.9" y="908.47" font-size="6.1" fill="#1a1a1a" stroke="#1a1a1a" stroke-width="0.12">99618_at</text>
<text x="323.9" y="915.19" font-size="6.1" fill="#1a1a1a" stroke="#1a1a1a" stroke-width="0.12">93308_s_at</text>
<text x="323.9" y="921.90" font-size="6.1" fill="#1a1a1a" stroke="#1a1a1a" stroke-width="0.12">98575_at</text>
<text x="323.9" y="928.61" font-size="6.1" fill="#1a1a1a" stroke="#1a1a1a" stroke-width="0.12">94427_at</text>
<text x="323.9" y="935.33" font-size="6.1" fill="#1a1a1a" stroke="#1a1a1a" stroke-width="0.12">96850_at</text>
<text x="323.9" y="942.04" font-size="6.1" fill="#1a1a1a" stroke="#1a1a1a" stroke-width="0.12">99009_at</text>
<rect x="641.5" y="854.3" width="6.4" height="60.8" fill="#c4c4c4"/>
<rect x="455.2" y="913.9" width="192.7" height="1.7" fill="#cdcdcd"/>
<rect x="456.7" y="854.3" width="1.9" height="58.0" fill="#1c1c9c"/>
<rect x="456.7" y="911.3" width="174.6" height="1.0" fill="#5a5ad6"/>
<g transform="translate(0 911.50) scale(1 0.420) translate(0 -911.50)">
<polyline points="463.2,802.61 472.2,800.90 481.2,802.61 490.2,821.34 499.2,832.41 508.2,826.45 517.2,815.38 526.2,815.38 535.2,817.94 544.2,802.61 553.2,798.35 562.2,795.80 571.2,866.47 580.2,872.44 589.2,866.47 598.2,853.70 607.2,781.32" fill="none" stroke="#2a2ac8" stroke-width="2.5" stroke-linejoin="round"/>
<polyline points="463.2,832.41 472.2,845.19 481.2,840.93 490.2,853.70 499.2,870.73 508.2,853.70 517.2,846.89 526.2,849.44 535.2,849.44 544.2,834.97 553.2,832.41 562.2,836.67 571.2,900.54 580.2,892.02 589.2,887.76 598.2,870.73 607.2,819.64" fill="none" stroke="#2a2ac8" stroke-width="2.5" stroke-linejoin="round"/>
</g>
<polyline points="463.2,872.2 472.2,872.9 481.2,873.6 490.2,880.1 499.2,885.4 508.2,881.9 517.2,878.3 526.2,878.3 535.2,880.1 544.2,872.2 553.2,871.1 562.2,871.1 571.2,898.0 580.2,899.7 589.2,896.2 598.2,890.8 607.2,865.8" fill="none" stroke="#d02c2c" stroke-width="1.6" stroke-dasharray="3,1.5"/>
<line x1="478.3" y1="853.0" x2="478.3" y2="937.0" stroke="#3a3a3a" stroke-width="0.9" stroke-dasharray="1,1"/>
<line x1="539.4" y1="853.0" x2="539.4" y2="937.0" stroke="#3a3a3a" stroke-width="0.9" stroke-dasharray="1,1"/>
<line x1="565.9" y1="853.0" x2="565.9" y2="937.0" stroke="#3a3a3a" stroke-width="0.9" stroke-dasharray="1,1"/>
<text x="460" y="937.3" font-size="19" fill="#000">vir</text><text x="492" y="937.3" font-size="19" fill="#000">preg</text><text x="541" y="937.3" font-size="19" fill="#000">lac</text><text x="589" y="937.3" font-size="19" fill="#000">inv</text>
<text x="607.2" y="967.9" font-size="7" font-style="italic" fill="#444">Breast Cancer Research</text>
</g>
</svg>
</body></html>
